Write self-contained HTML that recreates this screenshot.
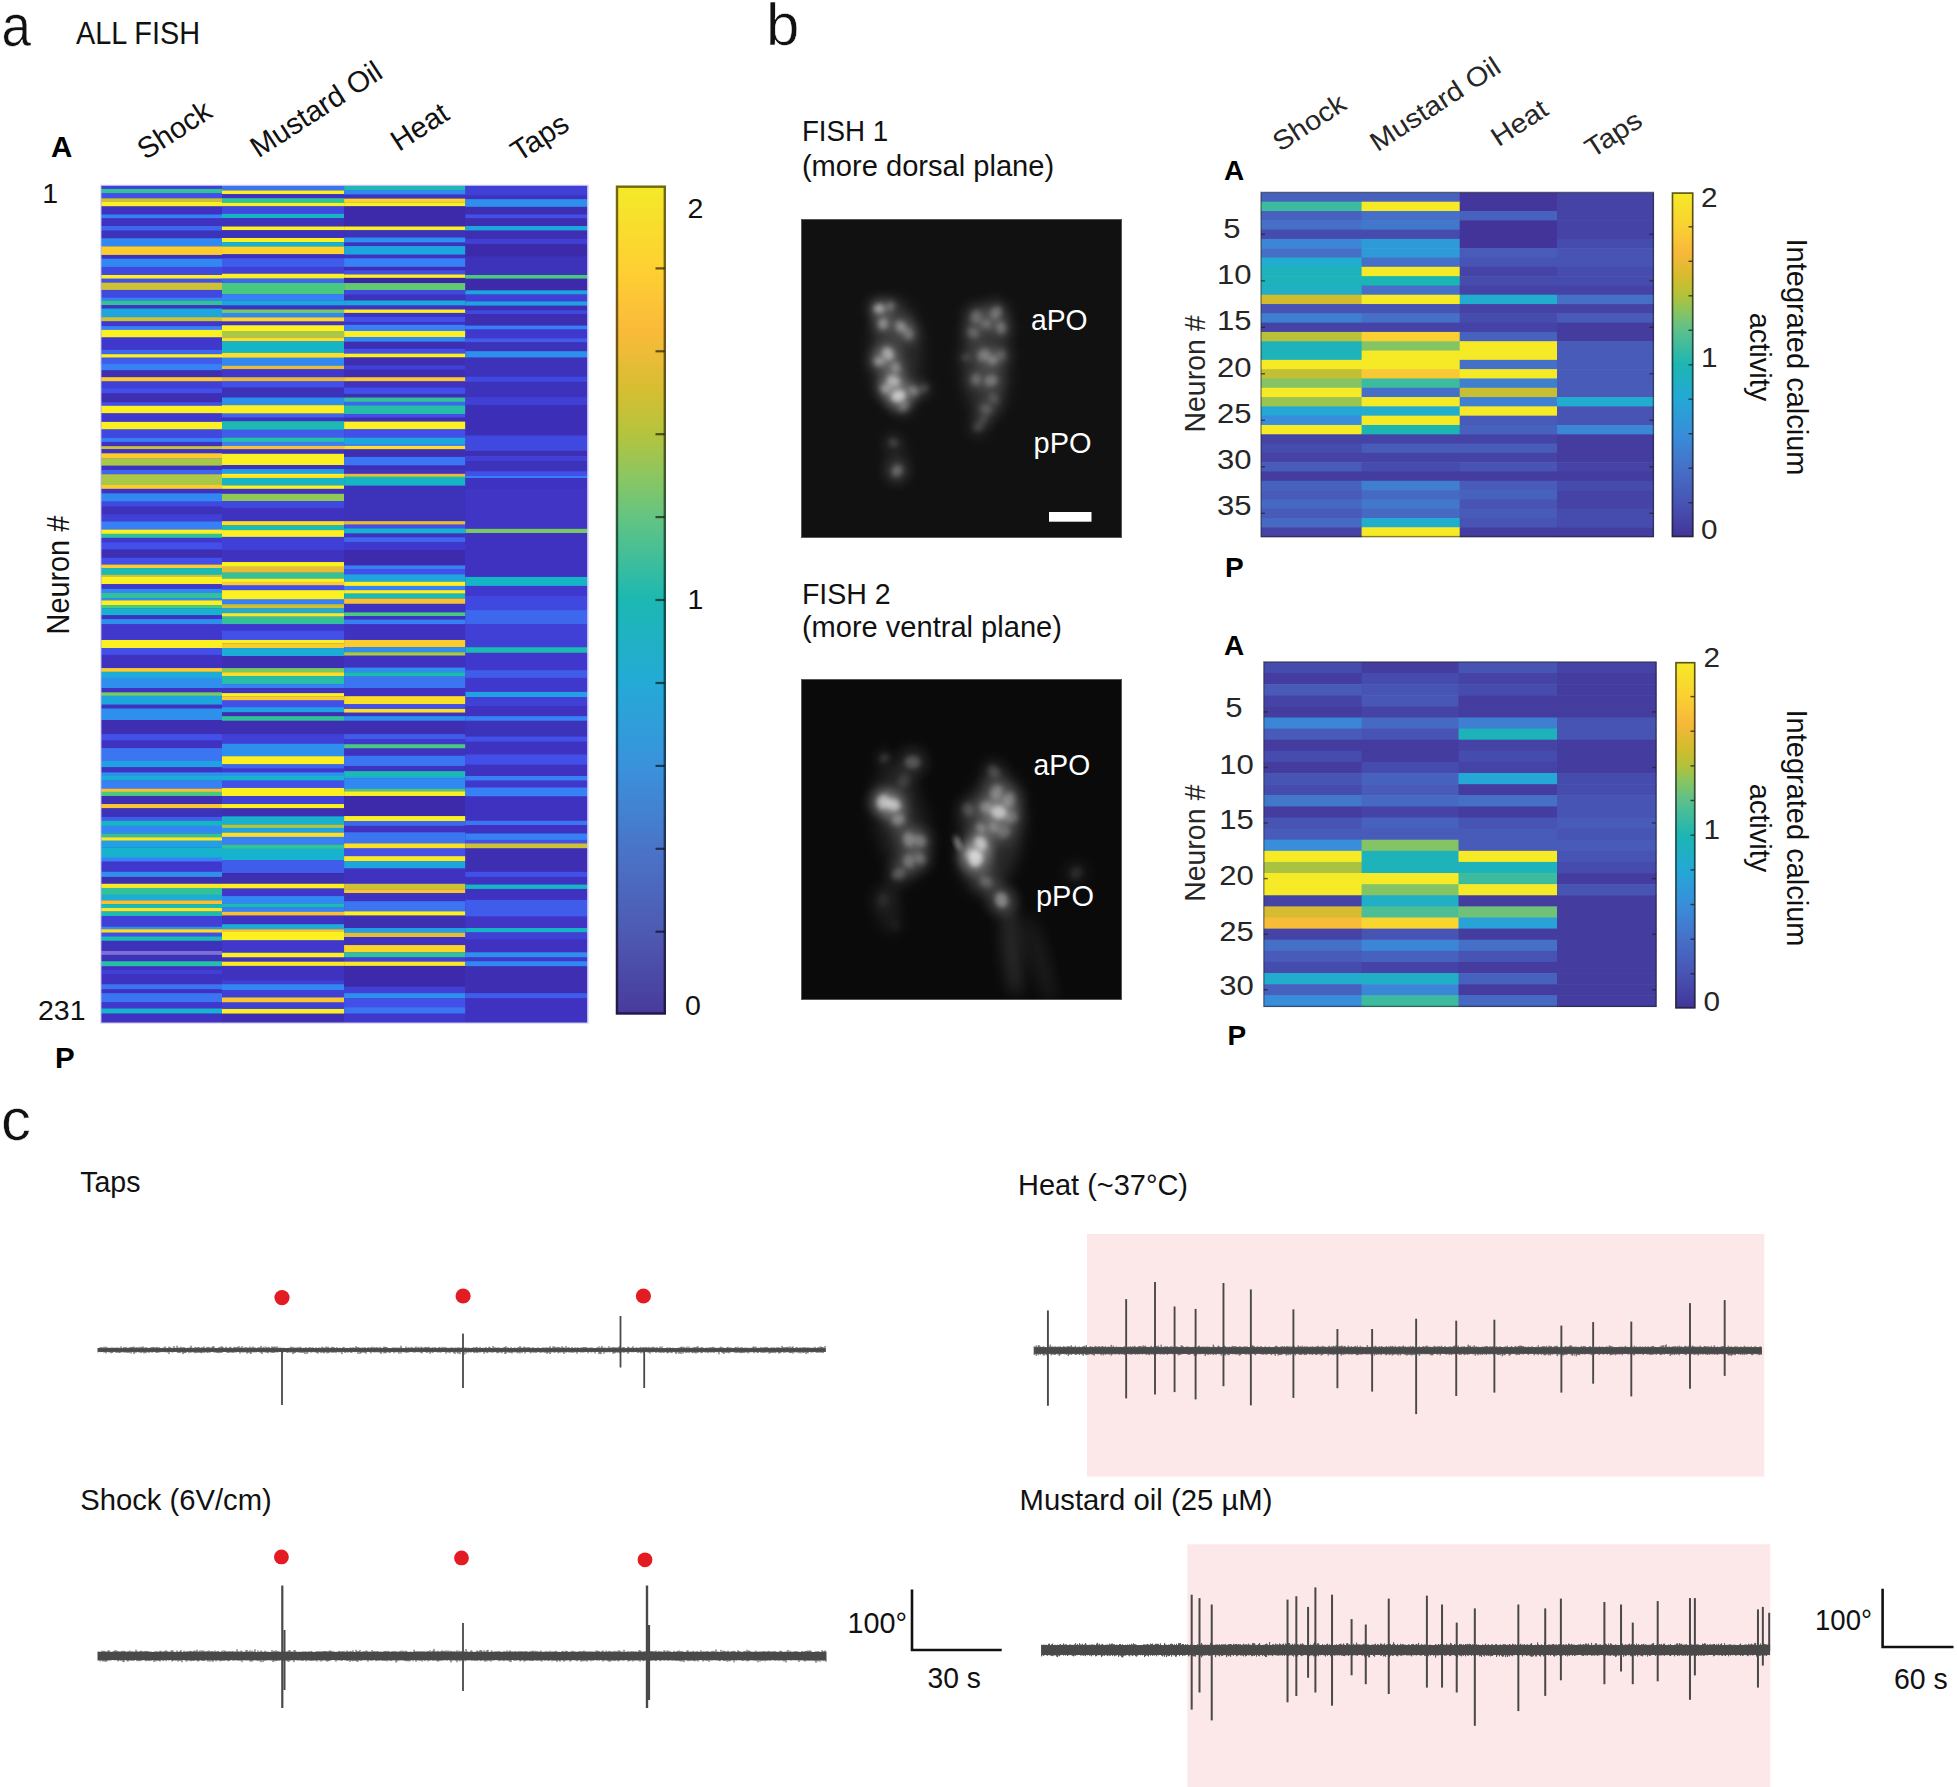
<!DOCTYPE html><html><head><meta charset="utf-8"><title>Figure</title>
<style>html,body{margin:0;padding:0;background:#fff}svg{display:block}text{font-family:'Liberation Sans',Arial,Helvetica,sans-serif}</style></head><body>
<svg width="1957" height="1787" viewBox="0 0 1957 1787">
<defs>
<linearGradient id="gA" x1="0" y1="1" x2="0" y2="0"><stop offset="0.000" stop-color="#483a9c"/><stop offset="0.100" stop-color="#4e5ab2"/><stop offset="0.200" stop-color="#4a74c8"/><stop offset="0.300" stop-color="#3a92dc"/><stop offset="0.400" stop-color="#24aad6"/><stop offset="0.500" stop-color="#1cb8b2"/><stop offset="0.600" stop-color="#64c482"/><stop offset="0.650" stop-color="#8cc660"/><stop offset="0.700" stop-color="#b4c43e"/><stop offset="0.750" stop-color="#d4be32"/><stop offset="0.825" stop-color="#faba3a"/><stop offset="0.900" stop-color="#fed032"/><stop offset="1.000" stop-color="#f4ea28"/></linearGradient>
<linearGradient id="gB" x1="0" y1="1" x2="0" y2="0"><stop offset="0.000" stop-color="#423498"/><stop offset="0.100" stop-color="#4854b4"/><stop offset="0.200" stop-color="#4670c8"/><stop offset="0.300" stop-color="#388eda"/><stop offset="0.400" stop-color="#24a8d6"/><stop offset="0.500" stop-color="#1cb6b2"/><stop offset="0.600" stop-color="#5cc08c"/><stop offset="0.650" stop-color="#84c464"/><stop offset="0.700" stop-color="#b2c23a"/><stop offset="0.750" stop-color="#d2bc2e"/><stop offset="0.825" stop-color="#f8b83a"/><stop offset="0.900" stop-color="#fad032"/><stop offset="1.000" stop-color="#f6ea26"/></linearGradient>
<filter id="bl1" x="-50%" y="-50%" width="200%" height="200%"><feGaussianBlur stdDeviation="2.8"/></filter>
<filter id="bl2" x="-50%" y="-50%" width="200%" height="200%"><feGaussianBlur stdDeviation="5"/></filter>
<filter id="bl3" x="-50%" y="-50%" width="200%" height="200%"><feGaussianBlur stdDeviation="7"/></filter>
<filter id="blh" x="-2%" y="-2%" width="104%" height="104%"><feGaussianBlur stdDeviation="0 0.55"/></filter>
<filter id="blt" x="-2%" y="-20%" width="104%" height="140%"><feGaussianBlur stdDeviation="0.5"/></filter>
</defs>
<rect width="1957" height="1787" fill="#fff"/>
<text x="1.5" y="46.0" font-size="60.0" text-anchor="start" fill="#111" stroke="#fff" stroke-width="0.6" textLength="29.5" lengthAdjust="spacingAndGlyphs">a</text>
<text x="76.0" y="44.0" font-size="30.5" text-anchor="start" fill="#111" textLength="124.0" lengthAdjust="spacingAndGlyphs">ALL FISH</text>
<text x="51.0" y="157.0" font-size="29.5" text-anchor="start" font-weight="bold" fill="#000">A</text>
<text x="58.0" y="203.0" font-size="28.5" text-anchor="end" fill="#111">1</text>
<text x="85.5" y="1019.5" font-size="28.5" text-anchor="end" fill="#111">231</text>
<text x="55.0" y="1068.0" font-size="29.5" text-anchor="start" font-weight="bold" fill="#000">P</text>
<text x="0" y="0" font-size="31.5" text-anchor="middle" fill="#111" transform="translate(68.8,575.1) rotate(-90.0) scale(1.000,1)" textLength="118.6" lengthAdjust="spacingAndGlyphs">Neuron #</text>
<rect x="101.2" y="185.6" width="486.0" height="837.0" fill="#3f33c0"/>
<g filter="url(#blh)">
<rect x="101.2" y="185.62" width="120.8" height="3.47" fill="#4140d6"/>
<rect x="101.2" y="188.94" width="120.8" height="4.49" fill="#31c199"/>
<rect x="101.2" y="193.29" width="120.8" height="5.20" fill="#4250e8"/>
<rect x="101.2" y="198.33" width="120.8" height="3.53" fill="#cdc234"/>
<rect x="101.2" y="201.72" width="120.8" height="4.81" fill="#faf022"/>
<rect x="101.2" y="206.38" width="120.8" height="8.26" fill="#3f33c0"/>
<rect x="101.2" y="214.49" width="120.8" height="3.98" fill="#3880f5"/>
<rect x="101.2" y="218.32" width="120.8" height="7.81" fill="#3f33c0"/>
<rect x="101.2" y="225.99" width="120.8" height="4.75" fill="#3d68ee"/>
<rect x="101.2" y="230.59" width="120.8" height="7.81" fill="#3e31ba"/>
<rect x="101.2" y="238.25" width="120.8" height="8.26" fill="#3288f1"/>
<rect x="101.2" y="246.37" width="120.8" height="8.70" fill="#fccc2e"/>
<rect x="101.2" y="254.92" width="120.8" height="3.92" fill="#3f33c0"/>
<rect x="101.2" y="258.69" width="120.8" height="8.33" fill="#3288f1"/>
<rect x="101.2" y="266.87" width="120.8" height="8.26" fill="#4148df"/>
<rect x="101.2" y="274.98" width="120.8" height="3.85" fill="#faf022"/>
<rect x="101.2" y="278.68" width="120.8" height="4.12" fill="#4250e8"/>
<rect x="101.2" y="282.65" width="120.8" height="7.43" fill="#cdc234"/>
<rect x="101.2" y="289.92" width="120.8" height="7.75" fill="#4148df"/>
<rect x="101.2" y="297.53" width="120.8" height="3.22" fill="#3880f5"/>
<rect x="101.2" y="300.59" width="120.8" height="4.75" fill="#31c199"/>
<rect x="101.2" y="305.19" width="120.8" height="3.47" fill="#3f33c0"/>
<rect x="101.2" y="308.51" width="120.8" height="8.78" fill="#1ea6dd"/>
<rect x="101.2" y="317.14" width="120.8" height="4.36" fill="#cdc234"/>
<rect x="101.2" y="321.35" width="120.8" height="4.94" fill="#4038cd"/>
<rect x="101.2" y="326.14" width="120.8" height="3.92" fill="#3880f5"/>
<rect x="101.2" y="329.91" width="120.8" height="7.68" fill="#faf022"/>
<rect x="101.2" y="337.44" width="120.8" height="12.61" fill="#4038cd"/>
<rect x="101.2" y="349.90" width="120.8" height="4.43" fill="#3d68ee"/>
<rect x="101.2" y="354.19" width="120.8" height="3.59" fill="#faf022"/>
<rect x="101.2" y="357.63" width="120.8" height="6.48" fill="#405ceb"/>
<rect x="101.2" y="363.96" width="120.8" height="6.54" fill="#3880f5"/>
<rect x="101.2" y="370.34" width="120.8" height="6.99" fill="#3d2db2"/>
<rect x="101.2" y="377.18" width="120.8" height="4.36" fill="#fccc2e"/>
<rect x="101.2" y="381.39" width="120.8" height="6.99" fill="#4140d6"/>
<rect x="101.2" y="388.23" width="120.8" height="5.26" fill="#4250e8"/>
<rect x="101.2" y="393.34" width="120.8" height="9.09" fill="#3d2db2"/>
<rect x="101.2" y="402.28" width="120.8" height="3.67" fill="#4250e8"/>
<rect x="101.2" y="405.79" width="120.8" height="7.68" fill="#faf022"/>
<rect x="101.2" y="413.33" width="120.8" height="8.71" fill="#4038cd"/>
<rect x="101.2" y="421.89" width="120.8" height="7.68" fill="#faf022"/>
<rect x="101.2" y="429.42" width="120.8" height="8.78" fill="#4148df"/>
<rect x="101.2" y="438.05" width="120.8" height="3.98" fill="#3880f5"/>
<rect x="101.2" y="441.88" width="120.8" height="4.43" fill="#3f33c0"/>
<rect x="101.2" y="446.16" width="120.8" height="3.08" fill="#cdc234"/>
<rect x="101.2" y="449.10" width="120.8" height="4.37" fill="#3f33c0"/>
<rect x="101.2" y="453.32" width="120.8" height="5.32" fill="#fccc2e"/>
<rect x="101.2" y="458.49" width="120.8" height="7.36" fill="#aac846"/>
<rect x="101.2" y="465.70" width="120.8" height="4.43" fill="#3f33c0"/>
<rect x="101.2" y="469.98" width="120.8" height="4.43" fill="#3d68ee"/>
<rect x="101.2" y="474.27" width="120.8" height="1.74" fill="#bcc53d"/>
<rect x="101.2" y="476.00" width="120.8" height="9.09" fill="#aac846"/>
<rect x="101.2" y="484.94" width="120.8" height="4.04" fill="#fccc2e"/>
<rect x="101.2" y="488.84" width="120.8" height="4.69" fill="#3f33c0"/>
<rect x="101.2" y="493.37" width="120.8" height="8.33" fill="#3288f1"/>
<rect x="101.2" y="501.55" width="120.8" height="5.26" fill="#4148df"/>
<rect x="101.2" y="506.66" width="120.8" height="7.81" fill="#3e31ba"/>
<rect x="101.2" y="514.32" width="120.8" height="7.30" fill="#4140d6"/>
<rect x="101.2" y="521.48" width="120.8" height="8.26" fill="#3880f5"/>
<rect x="101.2" y="529.59" width="120.8" height="4.36" fill="#faf022"/>
<rect x="101.2" y="533.80" width="120.8" height="4.18" fill="#31c199"/>
<rect x="101.2" y="537.83" width="120.8" height="4.75" fill="#4038cd"/>
<rect x="101.2" y="542.43" width="120.8" height="7.30" fill="#4250e8"/>
<rect x="101.2" y="549.58" width="120.8" height="8.33" fill="#3d2db2"/>
<rect x="101.2" y="557.76" width="120.8" height="6.99" fill="#4250e8"/>
<rect x="101.2" y="564.60" width="120.8" height="3.59" fill="#fccc2e"/>
<rect x="101.2" y="568.04" width="120.8" height="6.93" fill="#1abab2"/>
<rect x="101.2" y="574.81" width="120.8" height="2.25" fill="#cdc234"/>
<rect x="101.2" y="576.92" width="120.8" height="7.36" fill="#faf022"/>
<rect x="101.2" y="584.13" width="120.8" height="4.94" fill="#4038cd"/>
<rect x="101.2" y="588.93" width="120.8" height="4.24" fill="#3288f1"/>
<rect x="101.2" y="593.02" width="120.8" height="5.26" fill="#31c199"/>
<rect x="101.2" y="598.13" width="120.8" height="2.39" fill="#2d90ec"/>
<rect x="101.2" y="600.36" width="120.8" height="4.81" fill="#faf022"/>
<rect x="101.2" y="605.02" width="120.8" height="3.53" fill="#48c880"/>
<rect x="101.2" y="608.41" width="120.8" height="6.99" fill="#16b2ce"/>
<rect x="101.2" y="615.24" width="120.8" height="3.98" fill="#3f33c0"/>
<rect x="101.2" y="619.08" width="120.8" height="5.26" fill="#2d90ec"/>
<rect x="101.2" y="624.19" width="120.8" height="15.93" fill="#4038cd"/>
<rect x="101.2" y="639.97" width="120.8" height="8.19" fill="#faf022"/>
<rect x="101.2" y="648.01" width="120.8" height="6.99" fill="#4250e8"/>
<rect x="101.2" y="654.85" width="120.8" height="13.37" fill="#3f33c0"/>
<rect x="101.2" y="668.07" width="120.8" height="3.85" fill="#fccc2e"/>
<rect x="101.2" y="671.77" width="120.8" height="6.22" fill="#1aacd5"/>
<rect x="101.2" y="677.84" width="120.8" height="10.37" fill="#2d90ec"/>
<rect x="101.2" y="688.06" width="120.8" height="4.43" fill="#3f33c0"/>
<rect x="101.2" y="692.34" width="120.8" height="3.59" fill="#78ca64"/>
<rect x="101.2" y="695.79" width="120.8" height="9.03" fill="#1ea6dd"/>
<rect x="101.2" y="704.67" width="120.8" height="3.98" fill="#3f33c0"/>
<rect x="101.2" y="708.50" width="120.8" height="11.65" fill="#2d90ec"/>
<rect x="101.2" y="720.00" width="120.8" height="14.20" fill="#3d2db2"/>
<rect x="101.2" y="734.05" width="120.8" height="6.54" fill="#4250e8"/>
<rect x="101.2" y="740.44" width="120.8" height="7.81" fill="#3f33c0"/>
<rect x="101.2" y="748.10" width="120.8" height="12.92" fill="#3a74f2"/>
<rect x="101.2" y="760.87" width="120.8" height="6.54" fill="#22a0e4"/>
<rect x="101.2" y="767.26" width="120.8" height="5.26" fill="#3f33c0"/>
<rect x="101.2" y="772.37" width="120.8" height="3.73" fill="#2d90ec"/>
<rect x="101.2" y="776.00" width="120.8" height="4.75" fill="#1aacd5"/>
<rect x="101.2" y="780.60" width="120.8" height="8.26" fill="#3880f5"/>
<rect x="101.2" y="788.71" width="120.8" height="3.28" fill="#f8c033"/>
<rect x="101.2" y="791.84" width="120.8" height="4.30" fill="#48c880"/>
<rect x="101.2" y="795.99" width="120.8" height="8.20" fill="#3d2db2"/>
<rect x="101.2" y="804.04" width="120.8" height="4.36" fill="#fac631"/>
<rect x="101.2" y="808.25" width="120.8" height="8.78" fill="#3e31ba"/>
<rect x="101.2" y="816.88" width="120.8" height="3.98" fill="#405ceb"/>
<rect x="101.2" y="820.71" width="120.8" height="5.26" fill="#17b5c5"/>
<rect x="101.2" y="825.82" width="120.8" height="7.81" fill="#3288f1"/>
<rect x="101.2" y="833.49" width="120.8" height="3.92" fill="#31c199"/>
<rect x="101.2" y="837.26" width="120.8" height="3.59" fill="#fae725"/>
<rect x="101.2" y="840.70" width="120.8" height="6.99" fill="#22a0e4"/>
<rect x="101.2" y="847.54" width="120.8" height="10.37" fill="#16b2ce"/>
<rect x="101.2" y="857.76" width="120.8" height="3.98" fill="#3880f5"/>
<rect x="101.2" y="861.59" width="120.8" height="10.37" fill="#4038cd"/>
<rect x="101.2" y="871.81" width="120.8" height="5.26" fill="#2d90ec"/>
<rect x="101.2" y="876.92" width="120.8" height="6.99" fill="#3d2db2"/>
<rect x="101.2" y="883.76" width="120.8" height="4.36" fill="#fae725"/>
<rect x="101.2" y="887.97" width="120.8" height="6.99" fill="#31c199"/>
<rect x="101.2" y="894.80" width="120.8" height="5.71" fill="#1aacd5"/>
<rect x="101.2" y="900.36" width="120.8" height="3.85" fill="#f8c033"/>
<rect x="101.2" y="904.06" width="120.8" height="4.12" fill="#1abab2"/>
<rect x="101.2" y="908.03" width="120.8" height="3.59" fill="#fae725"/>
<rect x="101.2" y="911.47" width="120.8" height="4.69" fill="#1abab2"/>
<rect x="101.2" y="916.01" width="120.8" height="10.88" fill="#4140d6"/>
<rect x="101.2" y="926.74" width="120.8" height="2.64" fill="#2d90ec"/>
<rect x="101.2" y="929.23" width="120.8" height="3.59" fill="#fbde28"/>
<rect x="101.2" y="932.68" width="120.8" height="3.92" fill="#4250e8"/>
<rect x="101.2" y="936.45" width="120.8" height="4.49" fill="#1abab2"/>
<rect x="101.2" y="940.79" width="120.8" height="10.37" fill="#3e31ba"/>
<rect x="101.2" y="951.01" width="120.8" height="3.98" fill="#7c70d6"/>
<rect x="101.2" y="954.85" width="120.8" height="6.54" fill="#3e31ba"/>
<rect x="101.2" y="961.23" width="120.8" height="5.26" fill="#26bea6"/>
<rect x="101.2" y="966.34" width="120.8" height="3.98" fill="#3f33c0"/>
<rect x="101.2" y="970.17" width="120.8" height="3.98" fill="#4140d6"/>
<rect x="101.2" y="974.01" width="120.8" height="10.37" fill="#3f33c0"/>
<rect x="101.2" y="984.23" width="120.8" height="5.26" fill="#3a74f2"/>
<rect x="101.2" y="989.34" width="120.8" height="3.98" fill="#3f33c0"/>
<rect x="101.2" y="993.17" width="120.8" height="9.09" fill="#3a74f2"/>
<rect x="101.2" y="1002.11" width="120.8" height="6.54" fill="#4038cd"/>
<rect x="101.2" y="1008.50" width="120.8" height="5.26" fill="#16b2ce"/>
<rect x="101.2" y="1013.61" width="120.8" height="9.09" fill="#3f33c0"/>
<rect x="222.0" y="186.00" width="122.1" height="4.61" fill="#3a74f2"/>
<rect x="222.0" y="190.46" width="122.1" height="3.83" fill="#faf022"/>
<rect x="222.0" y="194.13" width="122.1" height="4.18" fill="#3f33c0"/>
<rect x="222.0" y="198.16" width="122.1" height="4.89" fill="#31c199"/>
<rect x="222.0" y="202.90" width="122.1" height="3.54" fill="#faf022"/>
<rect x="222.0" y="206.30" width="122.1" height="7.75" fill="#4148df"/>
<rect x="222.0" y="213.90" width="122.1" height="4.44" fill="#17b5c5"/>
<rect x="222.0" y="218.19" width="122.1" height="8.47" fill="#3e31ba"/>
<rect x="222.0" y="226.51" width="122.1" height="3.83" fill="#faf022"/>
<rect x="222.0" y="230.19" width="122.1" height="7.92" fill="#3e31ba"/>
<rect x="222.0" y="237.96" width="122.1" height="4.26" fill="#faf022"/>
<rect x="222.0" y="242.07" width="122.1" height="4.63" fill="#16b2ce"/>
<rect x="222.0" y="246.54" width="122.1" height="7.83" fill="#fcd52b"/>
<rect x="222.0" y="254.23" width="122.1" height="4.18" fill="#3f33c0"/>
<rect x="222.0" y="258.26" width="122.1" height="8.73" fill="#405ceb"/>
<rect x="222.0" y="266.84" width="122.1" height="7.04" fill="#4140d6"/>
<rect x="222.0" y="273.73" width="122.1" height="4.97" fill="#faf022"/>
<rect x="222.0" y="278.55" width="122.1" height="4.63" fill="#3d68ee"/>
<rect x="222.0" y="283.03" width="122.1" height="11.41" fill="#48c880"/>
<rect x="222.0" y="294.29" width="122.1" height="6.32" fill="#3880f5"/>
<rect x="222.0" y="300.47" width="122.1" height="5.16" fill="#1ea6dd"/>
<rect x="222.0" y="305.47" width="122.1" height="4.18" fill="#3f33c0"/>
<rect x="222.0" y="309.50" width="122.1" height="3.54" fill="#78ca64"/>
<rect x="222.0" y="312.89" width="122.1" height="4.63" fill="#3288f1"/>
<rect x="222.0" y="317.37" width="122.1" height="4.26" fill="#fcd52b"/>
<rect x="222.0" y="321.48" width="122.1" height="3.91" fill="#3f33c0"/>
<rect x="222.0" y="325.24" width="122.1" height="5.85" fill="#faf022"/>
<rect x="222.0" y="331.00" width="122.1" height="6.59" fill="#aac846"/>
<rect x="222.0" y="337.44" width="122.1" height="3.99" fill="#fbde28"/>
<rect x="222.0" y="341.28" width="122.1" height="11.78" fill="#17b5c5"/>
<rect x="222.0" y="352.91" width="122.1" height="4.97" fill="#fbde28"/>
<rect x="222.0" y="357.74" width="122.1" height="8.20" fill="#3288f1"/>
<rect x="222.0" y="365.79" width="122.1" height="3.54" fill="#e8bd35"/>
<rect x="222.0" y="369.18" width="122.1" height="8.20" fill="#4038cd"/>
<rect x="222.0" y="377.24" width="122.1" height="4.26" fill="#e8bd35"/>
<rect x="222.0" y="381.34" width="122.1" height="6.32" fill="#4250e8"/>
<rect x="222.0" y="387.52" width="122.1" height="10.17" fill="#3e31ba"/>
<rect x="222.0" y="397.53" width="122.1" height="7.75" fill="#2d90ec"/>
<rect x="222.0" y="405.14" width="122.1" height="8.55" fill="#faf022"/>
<rect x="222.0" y="413.54" width="122.1" height="4.18" fill="#3d68ee"/>
<rect x="222.0" y="417.56" width="122.1" height="3.73" fill="#3f33c0"/>
<rect x="222.0" y="421.14" width="122.1" height="8.73" fill="#1abab2"/>
<rect x="222.0" y="429.73" width="122.1" height="8.02" fill="#405ceb"/>
<rect x="222.0" y="437.60" width="122.1" height="4.44" fill="#26bea6"/>
<rect x="222.0" y="441.89" width="122.1" height="4.18" fill="#3880f5"/>
<rect x="222.0" y="445.92" width="122.1" height="3.54" fill="#f8c033"/>
<rect x="222.0" y="449.31" width="122.1" height="4.63" fill="#3f33c0"/>
<rect x="222.0" y="453.79" width="122.1" height="11.41" fill="#faf022"/>
<rect x="222.0" y="465.05" width="122.1" height="4.18" fill="#3f33c0"/>
<rect x="222.0" y="469.07" width="122.1" height="4.89" fill="#22a0e4"/>
<rect x="222.0" y="473.82" width="122.1" height="2.28" fill="#faf022"/>
<rect x="222.0" y="476.00" width="122.1" height="2.25" fill="#fbde28"/>
<rect x="222.0" y="478.10" width="122.1" height="7.44" fill="#17b5c5"/>
<rect x="222.0" y="485.39" width="122.1" height="3.59" fill="#faf022"/>
<rect x="222.0" y="488.84" width="122.1" height="5.14" fill="#3f33c0"/>
<rect x="222.0" y="493.82" width="122.1" height="7.43" fill="#91c955"/>
<rect x="222.0" y="501.10" width="122.1" height="6.99" fill="#4148df"/>
<rect x="222.0" y="507.94" width="122.1" height="13.37" fill="#3f33c0"/>
<rect x="222.0" y="521.16" width="122.1" height="4.36" fill="#fbde28"/>
<rect x="222.0" y="525.37" width="122.1" height="4.88" fill="#1abab2"/>
<rect x="222.0" y="530.10" width="122.1" height="6.91" fill="#faf022"/>
<rect x="222.0" y="536.87" width="122.1" height="13.37" fill="#4140d6"/>
<rect x="222.0" y="550.09" width="122.1" height="12.10" fill="#3f33c0"/>
<rect x="222.0" y="562.04" width="122.1" height="4.81" fill="#faf022"/>
<rect x="222.0" y="566.70" width="122.1" height="6.09" fill="#e8bd35"/>
<rect x="222.0" y="572.64" width="122.1" height="6.16" fill="#31c199"/>
<rect x="222.0" y="578.65" width="122.1" height="3.53" fill="#faf022"/>
<rect x="222.0" y="582.03" width="122.1" height="3.53" fill="#fccc2e"/>
<rect x="222.0" y="585.41" width="122.1" height="4.88" fill="#4250e8"/>
<rect x="222.0" y="590.14" width="122.1" height="9.47" fill="#faf022"/>
<rect x="222.0" y="599.46" width="122.1" height="4.88" fill="#3880f5"/>
<rect x="222.0" y="604.20" width="122.1" height="4.36" fill="#cdc234"/>
<rect x="222.0" y="608.41" width="122.1" height="4.88" fill="#1aacd5"/>
<rect x="222.0" y="613.14" width="122.1" height="3.59" fill="#fae725"/>
<rect x="222.0" y="616.58" width="122.1" height="7.75" fill="#31c199"/>
<rect x="222.0" y="624.19" width="122.1" height="6.54" fill="#4038cd"/>
<rect x="222.0" y="630.57" width="122.1" height="9.54" fill="#4250e8"/>
<rect x="222.0" y="639.97" width="122.1" height="3.53" fill="#faf022"/>
<rect x="222.0" y="643.35" width="122.1" height="4.81" fill="#fccc2e"/>
<rect x="222.0" y="648.01" width="122.1" height="8.26" fill="#1aacd5"/>
<rect x="222.0" y="656.12" width="122.1" height="12.10" fill="#3d2db2"/>
<rect x="222.0" y="668.07" width="122.1" height="4.30" fill="#78ca64"/>
<rect x="222.0" y="672.22" width="122.1" height="4.04" fill="#fbde28"/>
<rect x="222.0" y="676.11" width="122.1" height="8.26" fill="#26bea6"/>
<rect x="222.0" y="684.23" width="122.1" height="3.98" fill="#3880f5"/>
<rect x="222.0" y="688.06" width="122.1" height="5.20" fill="#3f33c0"/>
<rect x="222.0" y="693.11" width="122.1" height="3.28" fill="#faf022"/>
<rect x="222.0" y="696.24" width="122.1" height="4.30" fill="#fccc2e"/>
<rect x="222.0" y="700.38" width="122.1" height="6.99" fill="#4250e8"/>
<rect x="222.0" y="707.22" width="122.1" height="5.26" fill="#22a0e4"/>
<rect x="222.0" y="712.33" width="122.1" height="3.98" fill="#3d2db2"/>
<rect x="222.0" y="716.16" width="122.1" height="4.75" fill="#31c199"/>
<rect x="222.0" y="720.76" width="122.1" height="13.44" fill="#3d2db2"/>
<rect x="222.0" y="734.05" width="122.1" height="9.86" fill="#4140d6"/>
<rect x="222.0" y="743.76" width="122.1" height="12.61" fill="#2d90ec"/>
<rect x="222.0" y="756.21" width="122.1" height="8.19" fill="#faf022"/>
<rect x="222.0" y="764.26" width="122.1" height="4.43" fill="#3d68ee"/>
<rect x="222.0" y="768.54" width="122.1" height="3.98" fill="#4038cd"/>
<rect x="222.0" y="772.37" width="122.1" height="3.73" fill="#2d90ec"/>
<rect x="222.0" y="776.00" width="122.1" height="4.75" fill="#16b2ce"/>
<rect x="222.0" y="780.60" width="122.1" height="7.50" fill="#4250e8"/>
<rect x="222.0" y="787.95" width="122.1" height="8.19" fill="#faf022"/>
<rect x="222.0" y="795.99" width="122.1" height="8.20" fill="#4140d6"/>
<rect x="222.0" y="804.04" width="122.1" height="4.36" fill="#faf022"/>
<rect x="222.0" y="808.25" width="122.1" height="8.26" fill="#3d2db2"/>
<rect x="222.0" y="816.37" width="122.1" height="8.26" fill="#16b2ce"/>
<rect x="222.0" y="824.48" width="122.1" height="3.59" fill="#aac846"/>
<rect x="222.0" y="827.93" width="122.1" height="4.88" fill="#22a0e4"/>
<rect x="222.0" y="832.66" width="122.1" height="4.36" fill="#fbde28"/>
<rect x="222.0" y="836.87" width="122.1" height="7.75" fill="#3880f5"/>
<rect x="222.0" y="844.47" width="122.1" height="4.49" fill="#31c199"/>
<rect x="222.0" y="848.82" width="122.1" height="11.65" fill="#16b2ce"/>
<rect x="222.0" y="860.31" width="122.1" height="12.92" fill="#405ceb"/>
<rect x="222.0" y="873.09" width="122.1" height="10.82" fill="#3d2db2"/>
<rect x="222.0" y="883.76" width="122.1" height="4.87" fill="#faf022"/>
<rect x="222.0" y="888.48" width="122.1" height="7.75" fill="#4038cd"/>
<rect x="222.0" y="896.08" width="122.1" height="7.81" fill="#3288f1"/>
<rect x="222.0" y="903.75" width="122.1" height="3.98" fill="#1abab2"/>
<rect x="222.0" y="907.58" width="122.1" height="4.43" fill="#3880f5"/>
<rect x="222.0" y="911.86" width="122.1" height="3.85" fill="#f8c033"/>
<rect x="222.0" y="915.56" width="122.1" height="8.78" fill="#3f33c0"/>
<rect x="222.0" y="924.19" width="122.1" height="5.20" fill="#1aacd5"/>
<rect x="222.0" y="929.23" width="122.1" height="2.77" fill="#f8c033"/>
<rect x="222.0" y="931.85" width="122.1" height="8.64" fill="#faf022"/>
<rect x="222.0" y="940.34" width="122.1" height="12.55" fill="#4038cd"/>
<rect x="222.0" y="952.74" width="122.1" height="4.87" fill="#faf022"/>
<rect x="222.0" y="957.46" width="122.1" height="4.37" fill="#3f33c0"/>
<rect x="222.0" y="961.68" width="122.1" height="4.36" fill="#fae725"/>
<rect x="222.0" y="965.89" width="122.1" height="14.65" fill="#3f33c0"/>
<rect x="222.0" y="980.39" width="122.1" height="3.98" fill="#4140d6"/>
<rect x="222.0" y="984.23" width="122.1" height="6.03" fill="#3288f1"/>
<rect x="222.0" y="990.10" width="122.1" height="7.50" fill="#4140d6"/>
<rect x="222.0" y="997.45" width="122.1" height="5.13" fill="#fac631"/>
<rect x="222.0" y="1002.43" width="122.1" height="6.67" fill="#4140d6"/>
<rect x="222.0" y="1008.95" width="122.1" height="4.87" fill="#faf022"/>
<rect x="222.0" y="1013.67" width="122.1" height="9.03" fill="#3d2db2"/>
<rect x="344.1" y="186.00" width="121.3" height="4.16" fill="#1abab2"/>
<rect x="344.1" y="190.01" width="121.3" height="4.73" fill="#3288f1"/>
<rect x="344.1" y="194.58" width="121.3" height="4.18" fill="#3f33c0"/>
<rect x="344.1" y="198.61" width="121.3" height="3.99" fill="#fcd52b"/>
<rect x="344.1" y="202.45" width="121.3" height="3.99" fill="#faf022"/>
<rect x="344.1" y="206.30" width="121.3" height="20.37" fill="#3d2aaa"/>
<rect x="344.1" y="226.51" width="121.3" height="3.83" fill="#faf022"/>
<rect x="344.1" y="230.19" width="121.3" height="7.47" fill="#3e31ba"/>
<rect x="344.1" y="237.51" width="121.3" height="5.16" fill="#2d90ec"/>
<rect x="344.1" y="242.52" width="121.3" height="3.73" fill="#3f33c0"/>
<rect x="344.1" y="246.09" width="121.3" height="8.73" fill="#1ea6dd"/>
<rect x="344.1" y="254.68" width="121.3" height="3.73" fill="#3f33c0"/>
<rect x="344.1" y="258.26" width="121.3" height="8.73" fill="#3880f5"/>
<rect x="344.1" y="266.84" width="121.3" height="3.73" fill="#3d2db2"/>
<rect x="344.1" y="270.42" width="121.3" height="4.18" fill="#4250e8"/>
<rect x="344.1" y="274.45" width="121.3" height="3.54" fill="#faf022"/>
<rect x="344.1" y="277.84" width="121.3" height="5.34" fill="#3c28a5"/>
<rect x="344.1" y="283.03" width="121.3" height="7.12" fill="#60c972"/>
<rect x="344.1" y="290.00" width="121.3" height="4.89" fill="#4148df"/>
<rect x="344.1" y="294.74" width="121.3" height="5.87" fill="#3e31ba"/>
<rect x="344.1" y="300.47" width="121.3" height="5.16" fill="#1ea6dd"/>
<rect x="344.1" y="305.47" width="121.3" height="4.18" fill="#3f33c0"/>
<rect x="344.1" y="309.50" width="121.3" height="3.54" fill="#faf022"/>
<rect x="344.1" y="312.89" width="121.3" height="4.18" fill="#3f33c0"/>
<rect x="344.1" y="316.92" width="121.3" height="5.16" fill="#4250e8"/>
<rect x="344.1" y="321.93" width="121.3" height="3.01" fill="#3f33c0"/>
<rect x="344.1" y="324.79" width="121.3" height="6.30" fill="#3880f5"/>
<rect x="344.1" y="331.00" width="121.3" height="6.14" fill="#faf022"/>
<rect x="344.1" y="336.99" width="121.3" height="4.89" fill="#3288f1"/>
<rect x="344.1" y="341.73" width="121.3" height="7.30" fill="#3d2db2"/>
<rect x="344.1" y="348.89" width="121.3" height="4.89" fill="#4250e8"/>
<rect x="344.1" y="353.63" width="121.3" height="3.97" fill="#faf022"/>
<rect x="344.1" y="357.45" width="121.3" height="8.04" fill="#3d2db2"/>
<rect x="344.1" y="365.34" width="121.3" height="4.44" fill="#4140d6"/>
<rect x="344.1" y="369.63" width="121.3" height="7.75" fill="#3d2db2"/>
<rect x="344.1" y="377.24" width="121.3" height="4.26" fill="#fccc2e"/>
<rect x="344.1" y="381.34" width="121.3" height="6.32" fill="#3f33c0"/>
<rect x="344.1" y="387.52" width="121.3" height="6.59" fill="#4250e8"/>
<rect x="344.1" y="393.96" width="121.3" height="3.73" fill="#3d2db2"/>
<rect x="344.1" y="397.53" width="121.3" height="4.44" fill="#31c199"/>
<rect x="344.1" y="401.83" width="121.3" height="3.73" fill="#3d68ee"/>
<rect x="344.1" y="405.40" width="121.3" height="8.73" fill="#26bea6"/>
<rect x="344.1" y="413.99" width="121.3" height="3.73" fill="#4250e8"/>
<rect x="344.1" y="417.56" width="121.3" height="4.18" fill="#3d2db2"/>
<rect x="344.1" y="421.59" width="121.3" height="7.83" fill="#faf022"/>
<rect x="344.1" y="429.28" width="121.3" height="8.47" fill="#4250e8"/>
<rect x="344.1" y="437.60" width="121.3" height="6.59" fill="#1ea6dd"/>
<rect x="344.1" y="444.03" width="121.3" height="2.03" fill="#3880f5"/>
<rect x="344.1" y="445.92" width="121.3" height="3.54" fill="#fbde28"/>
<rect x="344.1" y="449.31" width="121.3" height="7.75" fill="#3d2db2"/>
<rect x="344.1" y="456.91" width="121.3" height="8.73" fill="#3a74f2"/>
<rect x="344.1" y="465.50" width="121.3" height="3.73" fill="#3d2db2"/>
<rect x="344.1" y="469.07" width="121.3" height="4.89" fill="#3f33c0"/>
<rect x="344.1" y="473.82" width="121.3" height="2.28" fill="#e8bd35"/>
<rect x="344.1" y="476.00" width="121.3" height="1.74" fill="#78ca64"/>
<rect x="344.1" y="477.59" width="121.3" height="8.26" fill="#17b5c5"/>
<rect x="344.1" y="485.71" width="121.3" height="35.60" fill="#3e31ba"/>
<rect x="344.1" y="521.16" width="121.3" height="3.59" fill="#e8bd35"/>
<rect x="344.1" y="524.60" width="121.3" height="3.92" fill="#4250e8"/>
<rect x="344.1" y="528.38" width="121.3" height="5.26" fill="#16b2ce"/>
<rect x="344.1" y="533.49" width="121.3" height="3.98" fill="#3f33c0"/>
<rect x="344.1" y="537.32" width="121.3" height="4.75" fill="#3d68ee"/>
<rect x="344.1" y="541.92" width="121.3" height="8.33" fill="#4038cd"/>
<rect x="344.1" y="550.09" width="121.3" height="15.48" fill="#3d2bad"/>
<rect x="344.1" y="565.42" width="121.3" height="3.98" fill="#3880f5"/>
<rect x="344.1" y="569.25" width="121.3" height="5.26" fill="#4250e8"/>
<rect x="344.1" y="574.36" width="121.3" height="7.50" fill="#1ea6dd"/>
<rect x="344.1" y="581.71" width="121.3" height="4.36" fill="#faf022"/>
<rect x="344.1" y="585.92" width="121.3" height="4.37" fill="#3880f5"/>
<rect x="344.1" y="590.14" width="121.3" height="3.59" fill="#faf022"/>
<rect x="344.1" y="593.59" width="121.3" height="5.14" fill="#1abab2"/>
<rect x="344.1" y="598.58" width="121.3" height="5.38" fill="#f8c033"/>
<rect x="344.1" y="603.81" width="121.3" height="8.71" fill="#3f33c0"/>
<rect x="344.1" y="612.37" width="121.3" height="3.85" fill="#48c880"/>
<rect x="344.1" y="616.07" width="121.3" height="3.67" fill="#3f33c0"/>
<rect x="344.1" y="619.59" width="121.3" height="4.75" fill="#3880f5"/>
<rect x="344.1" y="624.19" width="121.3" height="15.93" fill="#3f33c0"/>
<rect x="344.1" y="639.97" width="121.3" height="7.43" fill="#fccc2e"/>
<rect x="344.1" y="647.24" width="121.3" height="5.14" fill="#2d90ec"/>
<rect x="344.1" y="652.23" width="121.3" height="3.59" fill="#aac846"/>
<rect x="344.1" y="655.67" width="121.3" height="12.10" fill="#3f33c0"/>
<rect x="344.1" y="667.62" width="121.3" height="4.75" fill="#2d90ec"/>
<rect x="344.1" y="672.22" width="121.3" height="4.49" fill="#1abab2"/>
<rect x="344.1" y="676.56" width="121.3" height="11.65" fill="#3a74f2"/>
<rect x="344.1" y="688.06" width="121.3" height="8.26" fill="#3f33c0"/>
<rect x="344.1" y="696.17" width="121.3" height="8.19" fill="#fbde28"/>
<rect x="344.1" y="704.22" width="121.3" height="4.88" fill="#4250e8"/>
<rect x="344.1" y="708.95" width="121.3" height="3.85" fill="#fbde28"/>
<rect x="344.1" y="712.65" width="121.3" height="3.67" fill="#3f33c0"/>
<rect x="344.1" y="716.16" width="121.3" height="4.75" fill="#2d90ec"/>
<rect x="344.1" y="720.76" width="121.3" height="13.44" fill="#3d2db2"/>
<rect x="344.1" y="734.05" width="121.3" height="5.26" fill="#405ceb"/>
<rect x="344.1" y="739.16" width="121.3" height="5.20" fill="#4038cd"/>
<rect x="344.1" y="744.21" width="121.3" height="4.36" fill="#48c880"/>
<rect x="344.1" y="748.42" width="121.3" height="7.50" fill="#3f33c0"/>
<rect x="344.1" y="755.76" width="121.3" height="10.37" fill="#3a74f2"/>
<rect x="344.1" y="765.98" width="121.3" height="5.26" fill="#3f33c0"/>
<rect x="344.1" y="771.09" width="121.3" height="5.00" fill="#1abab2"/>
<rect x="344.1" y="776.00" width="121.3" height="2.70" fill="#1aacd5"/>
<rect x="344.1" y="778.55" width="121.3" height="10.31" fill="#3288f1"/>
<rect x="344.1" y="788.71" width="121.3" height="2.77" fill="#48c880"/>
<rect x="344.1" y="791.33" width="121.3" height="4.81" fill="#faf022"/>
<rect x="344.1" y="795.99" width="121.3" height="20.21" fill="#3d2aaa"/>
<rect x="344.1" y="816.05" width="121.3" height="5.13" fill="#faf022"/>
<rect x="344.1" y="821.03" width="121.3" height="4.94" fill="#3d68ee"/>
<rect x="344.1" y="825.82" width="121.3" height="6.54" fill="#3f33c0"/>
<rect x="344.1" y="832.21" width="121.3" height="11.33" fill="#3a74f2"/>
<rect x="344.1" y="843.39" width="121.3" height="5.13" fill="#fbde28"/>
<rect x="344.1" y="848.37" width="121.3" height="7.95" fill="#4250e8"/>
<rect x="344.1" y="856.16" width="121.3" height="5.13" fill="#fae725"/>
<rect x="344.1" y="861.14" width="121.3" height="7.50" fill="#1ea6dd"/>
<rect x="344.1" y="868.49" width="121.3" height="15.42" fill="#3f33c0"/>
<rect x="344.1" y="883.76" width="121.3" height="6.09" fill="#cdc234"/>
<rect x="344.1" y="889.69" width="121.3" height="3.53" fill="#fac631"/>
<rect x="344.1" y="893.08" width="121.3" height="8.26" fill="#3f33c0"/>
<rect x="344.1" y="901.19" width="121.3" height="10.31" fill="#3a74f2"/>
<rect x="344.1" y="911.35" width="121.3" height="4.36" fill="#faf022"/>
<rect x="344.1" y="915.56" width="121.3" height="12.61" fill="#3d2db2"/>
<rect x="344.1" y="928.02" width="121.3" height="4.94" fill="#22a0e4"/>
<rect x="344.1" y="932.81" width="121.3" height="4.36" fill="#e8bd35"/>
<rect x="344.1" y="937.02" width="121.3" height="8.20" fill="#3f33c0"/>
<rect x="344.1" y="945.08" width="121.3" height="7.43" fill="#fcd52b"/>
<rect x="344.1" y="952.35" width="121.3" height="5.20" fill="#31c199"/>
<rect x="344.1" y="957.40" width="121.3" height="4.43" fill="#4140d6"/>
<rect x="344.1" y="961.68" width="121.3" height="4.36" fill="#fae725"/>
<rect x="344.1" y="965.89" width="121.3" height="21.04" fill="#3d2aaa"/>
<rect x="344.1" y="986.78" width="121.3" height="6.54" fill="#4140d6"/>
<rect x="344.1" y="993.17" width="121.3" height="5.26" fill="#2d90ec"/>
<rect x="344.1" y="998.28" width="121.3" height="9.09" fill="#4250e8"/>
<rect x="344.1" y="1007.22" width="121.3" height="6.54" fill="#3a74f2"/>
<rect x="344.1" y="1013.61" width="121.3" height="9.09" fill="#4038cd"/>
<rect x="465.4" y="185.62" width="121.8" height="9.86" fill="#4140d6"/>
<rect x="465.4" y="195.33" width="121.8" height="3.98" fill="#3f33c0"/>
<rect x="465.4" y="199.16" width="121.8" height="7.81" fill="#2d90ec"/>
<rect x="465.4" y="206.83" width="121.8" height="7.81" fill="#3d2db2"/>
<rect x="465.4" y="214.49" width="121.8" height="3.98" fill="#4250e8"/>
<rect x="465.4" y="218.32" width="121.8" height="7.81" fill="#3d2db2"/>
<rect x="465.4" y="225.99" width="121.8" height="4.75" fill="#1ea6dd"/>
<rect x="465.4" y="230.59" width="121.8" height="8.33" fill="#3d2db2"/>
<rect x="465.4" y="238.76" width="121.8" height="5.26" fill="#4140d6"/>
<rect x="465.4" y="243.87" width="121.8" height="12.92" fill="#3d2aaa"/>
<rect x="465.4" y="256.65" width="121.8" height="18.48" fill="#3e31ba"/>
<rect x="465.4" y="274.98" width="121.8" height="3.85" fill="#48c880"/>
<rect x="465.4" y="278.68" width="121.8" height="11.84" fill="#3d2aaa"/>
<rect x="465.4" y="290.37" width="121.8" height="4.24" fill="#1ea6dd"/>
<rect x="465.4" y="294.46" width="121.8" height="7.05" fill="#4140d6"/>
<rect x="465.4" y="301.36" width="121.8" height="4.49" fill="#22a0e4"/>
<rect x="465.4" y="305.70" width="121.8" height="4.75" fill="#3d2db2"/>
<rect x="465.4" y="310.30" width="121.8" height="3.98" fill="#4148df"/>
<rect x="465.4" y="314.13" width="121.8" height="11.65" fill="#3d2db2"/>
<rect x="465.4" y="325.63" width="121.8" height="3.98" fill="#3880f5"/>
<rect x="465.4" y="329.46" width="121.8" height="9.09" fill="#4038cd"/>
<rect x="465.4" y="338.41" width="121.8" height="3.98" fill="#405ceb"/>
<rect x="465.4" y="342.24" width="121.8" height="9.09" fill="#3e31ba"/>
<rect x="465.4" y="351.18" width="121.8" height="6.54" fill="#2d90ec"/>
<rect x="465.4" y="357.57" width="121.8" height="19.31" fill="#3e31ba"/>
<rect x="465.4" y="376.73" width="121.8" height="5.26" fill="#4148df"/>
<rect x="465.4" y="381.84" width="121.8" height="15.48" fill="#3e31ba"/>
<rect x="465.4" y="397.17" width="121.8" height="7.81" fill="#4140d6"/>
<rect x="465.4" y="404.83" width="121.8" height="30.81" fill="#3e2fb8"/>
<rect x="465.4" y="435.49" width="121.8" height="15.48" fill="#4148df"/>
<rect x="465.4" y="450.82" width="121.8" height="5.26" fill="#3d2db2"/>
<rect x="465.4" y="455.93" width="121.8" height="5.26" fill="#4140d6"/>
<rect x="465.4" y="461.04" width="121.8" height="10.37" fill="#3e31ba"/>
<rect x="465.4" y="471.26" width="121.8" height="4.75" fill="#4250e8"/>
<rect x="465.4" y="476.00" width="121.8" height="2.19" fill="#3880f5"/>
<rect x="465.4" y="478.04" width="121.8" height="10.88" fill="#3f33c0"/>
<rect x="465.4" y="488.77" width="121.8" height="40.20" fill="#3f35c5"/>
<rect x="465.4" y="528.83" width="121.8" height="4.36" fill="#78ca64"/>
<rect x="465.4" y="533.04" width="121.8" height="44.03" fill="#3f33c0"/>
<rect x="465.4" y="576.92" width="121.8" height="9.09" fill="#17b5c5"/>
<rect x="465.4" y="585.86" width="121.8" height="10.37" fill="#4038cd"/>
<rect x="465.4" y="596.08" width="121.8" height="14.20" fill="#4148df"/>
<rect x="465.4" y="610.13" width="121.8" height="14.20" fill="#3d68ee"/>
<rect x="465.4" y="624.19" width="121.8" height="23.14" fill="#4140d6"/>
<rect x="465.4" y="647.18" width="121.8" height="5.77" fill="#1abab2"/>
<rect x="465.4" y="652.80" width="121.8" height="17.52" fill="#4038cd"/>
<rect x="465.4" y="670.17" width="121.8" height="7.81" fill="#405ceb"/>
<rect x="465.4" y="677.84" width="121.8" height="14.20" fill="#4038cd"/>
<rect x="465.4" y="691.89" width="121.8" height="5.26" fill="#22a0e4"/>
<rect x="465.4" y="697.00" width="121.8" height="9.09" fill="#4140d6"/>
<rect x="465.4" y="705.94" width="121.8" height="10.37" fill="#3f33c0"/>
<rect x="465.4" y="716.16" width="121.8" height="4.75" fill="#3880f5"/>
<rect x="465.4" y="720.76" width="121.8" height="15.99" fill="#3e31ba"/>
<rect x="465.4" y="736.60" width="121.8" height="5.26" fill="#4250e8"/>
<rect x="465.4" y="741.71" width="121.8" height="12.92" fill="#3f33c0"/>
<rect x="465.4" y="754.49" width="121.8" height="10.37" fill="#4250e8"/>
<rect x="465.4" y="764.71" width="121.8" height="11.39" fill="#3f33c0"/>
<rect x="465.4" y="776.00" width="121.8" height="4.75" fill="#3880f5"/>
<rect x="465.4" y="780.60" width="121.8" height="7.05" fill="#4038cd"/>
<rect x="465.4" y="787.50" width="121.8" height="9.09" fill="#3880f5"/>
<rect x="465.4" y="796.44" width="121.8" height="24.42" fill="#3f33c0"/>
<rect x="465.4" y="820.71" width="121.8" height="4.49" fill="#3a74f2"/>
<rect x="465.4" y="825.05" width="121.8" height="8.58" fill="#3f33c0"/>
<rect x="465.4" y="833.49" width="121.8" height="6.54" fill="#3880f5"/>
<rect x="465.4" y="839.87" width="121.8" height="3.67" fill="#4250e8"/>
<rect x="465.4" y="843.39" width="121.8" height="5.13" fill="#cdc234"/>
<rect x="465.4" y="848.37" width="121.8" height="23.59" fill="#3d2db2"/>
<rect x="465.4" y="871.81" width="121.8" height="5.26" fill="#4250e8"/>
<rect x="465.4" y="876.92" width="121.8" height="7.81" fill="#3f33c0"/>
<rect x="465.4" y="884.58" width="121.8" height="4.49" fill="#17b5c5"/>
<rect x="465.4" y="888.93" width="121.8" height="11.14" fill="#3f33c0"/>
<rect x="465.4" y="899.91" width="121.8" height="16.76" fill="#405ceb"/>
<rect x="465.4" y="916.52" width="121.8" height="11.65" fill="#3f35c5"/>
<rect x="465.4" y="928.02" width="121.8" height="4.49" fill="#17b5c5"/>
<rect x="465.4" y="932.36" width="121.8" height="7.30" fill="#4140d6"/>
<rect x="465.4" y="939.52" width="121.8" height="12.92" fill="#3f33c0"/>
<rect x="465.4" y="952.29" width="121.8" height="5.26" fill="#2d90ec"/>
<rect x="465.4" y="957.40" width="121.8" height="3.98" fill="#4038cd"/>
<rect x="465.4" y="961.23" width="121.8" height="5.26" fill="#3288f1"/>
<rect x="465.4" y="966.34" width="121.8" height="26.98" fill="#3d2db2"/>
<rect x="465.4" y="993.17" width="121.8" height="5.26" fill="#405ceb"/>
<rect x="465.4" y="998.28" width="121.8" height="24.42" fill="#3f33c0"/>
</g>
<rect x="100.9" y="185.3" width="487.2" height="837.8" fill="none" stroke="#c9c6f2" stroke-width="1.2" opacity="0.8"/>
<text x="0" y="0" font-size="29.4" text-anchor="start" fill="#111" transform="translate(145.5,160.5) rotate(-33.0) scale(1.000,1)">Shock</text>
<text x="0" y="0" font-size="29.4" text-anchor="start" fill="#111" transform="translate(258.5,158.5) rotate(-33.0) scale(1.000,1)">Mustard Oil</text>
<text x="0" y="0" font-size="29.4" text-anchor="start" fill="#111" transform="translate(399.0,152.0) rotate(-33.0) scale(1.000,1)">Heat</text>
<text x="0" y="0" font-size="29.4" text-anchor="start" fill="#111" transform="translate(519.0,162.5) rotate(-33.0) scale(1.000,1)">Taps</text>
<rect x="615.8" y="185.5" width="50.2" height="829.1" fill="url(#gA)"/>
<rect x="617.0" y="186.7" width="47.8" height="826.7" fill="none" stroke="#000" stroke-opacity="0.55" stroke-width="2.4"/>
<rect x="655.5" y="267.3" width="9" height="2.2" fill="#000" fill-opacity="0.6"/>
<rect x="655.5" y="350.2" width="9" height="2.2" fill="#000" fill-opacity="0.6"/>
<rect x="655.5" y="433.1" width="9" height="2.2" fill="#000" fill-opacity="0.6"/>
<rect x="655.5" y="516.0" width="9" height="2.2" fill="#000" fill-opacity="0.6"/>
<rect x="655.5" y="598.9" width="9" height="2.2" fill="#000" fill-opacity="0.6"/>
<rect x="655.5" y="681.9" width="9" height="2.2" fill="#000" fill-opacity="0.6"/>
<rect x="655.5" y="764.8" width="9" height="2.2" fill="#000" fill-opacity="0.6"/>
<rect x="655.5" y="847.7" width="9" height="2.2" fill="#000" fill-opacity="0.6"/>
<rect x="655.5" y="930.6" width="9" height="2.2" fill="#000" fill-opacity="0.6"/>
<text x="687.5" y="218.4" font-size="28.5" text-anchor="start" fill="#111">2</text>
<text x="687.5" y="609.0" font-size="28.5" text-anchor="start" fill="#111">1</text>
<text x="685.0" y="1015.3" font-size="28.5" text-anchor="start" fill="#111">0</text>
<text x="766.0" y="45.0" font-size="60.0" text-anchor="start" fill="#111" stroke="#fff" stroke-width="0.6">b</text>
<text x="801.9" y="140.7" font-size="30.0" text-anchor="start" fill="#111" textLength="86.3" lengthAdjust="spacingAndGlyphs">FISH 1</text>
<text x="801.9" y="176.0" font-size="30.0" text-anchor="start" fill="#111" textLength="252.3" lengthAdjust="spacingAndGlyphs">(more dorsal plane)</text>
<text x="801.9" y="603.8" font-size="30.0" text-anchor="start" fill="#111" textLength="88.8" lengthAdjust="spacingAndGlyphs">FISH 2</text>
<text x="801.9" y="637.2" font-size="30.0" text-anchor="start" fill="#111" textLength="260.0" lengthAdjust="spacingAndGlyphs">(more ventral plane)</text>
<svg x="801" y="219" width="321" height="319" viewBox="0 0 321 319">
<rect width="321" height="319" fill="#111"/>
<ellipse cx="94.9" cy="133.3" rx="26.0" ry="52.0" fill="#fff" fill-opacity="0.10" filter="url(#bl3)"/>
<ellipse cx="185.0" cy="143.6" rx="24.0" ry="58.0" fill="#fff" fill-opacity="0.10" filter="url(#bl3)"/>
<ellipse cx="94.9" cy="241.5" rx="10.0" ry="22.0" fill="#fff" fill-opacity="0.06" filter="url(#bl3)"/>
<ellipse cx="78.1" cy="89.5" rx="11.5" ry="11.5" fill="#fff" fill-opacity="0.18" filter="url(#bl2)"/>
<ellipse cx="82.0" cy="105.0" rx="11.5" ry="11.5" fill="#fff" fill-opacity="0.14" filter="url(#bl2)"/>
<ellipse cx="100.0" cy="107.6" rx="12.6" ry="12.6" fill="#fff" fill-opacity="0.13" filter="url(#bl2)"/>
<ellipse cx="89.7" cy="87.0" rx="9.2" ry="9.2" fill="#fff" fill-opacity="0.10" filter="url(#bl2)"/>
<ellipse cx="107.7" cy="115.3" rx="11.5" ry="11.5" fill="#fff" fill-opacity="0.10" filter="url(#bl2)"/>
<ellipse cx="87.1" cy="134.6" rx="13.8" ry="13.8" fill="#fff" fill-opacity="0.18" filter="url(#bl2)"/>
<ellipse cx="78.1" cy="142.3" rx="11.5" ry="11.5" fill="#fff" fill-opacity="0.13" filter="url(#bl2)"/>
<ellipse cx="94.9" cy="148.8" rx="11.5" ry="11.5" fill="#fff" fill-opacity="0.11" filter="url(#bl2)"/>
<ellipse cx="92.3" cy="161.6" rx="13.8" ry="13.8" fill="#fff" fill-opacity="0.18" filter="url(#bl2)"/>
<ellipse cx="97.4" cy="177.1" rx="14.9" ry="14.9" fill="#fff" fill-opacity="0.24" filter="url(#bl2)"/>
<ellipse cx="112.9" cy="171.9" rx="11.5" ry="11.5" fill="#fff" fill-opacity="0.11" filter="url(#bl2)"/>
<ellipse cx="84.6" cy="169.4" rx="11.5" ry="11.5" fill="#fff" fill-opacity="0.12" filter="url(#bl2)"/>
<ellipse cx="102.6" cy="187.4" rx="11.5" ry="11.5" fill="#fff" fill-opacity="0.08" filter="url(#bl2)"/>
<ellipse cx="123.2" cy="169.4" rx="9.2" ry="9.2" fill="#fff" fill-opacity="0.06" filter="url(#bl2)"/>
<ellipse cx="92.3" cy="223.4" rx="10.3" ry="10.3" fill="#fff" fill-opacity="0.05" filter="url(#bl2)"/>
<ellipse cx="96.1" cy="251.8" rx="12.6" ry="12.6" fill="#fff" fill-opacity="0.10" filter="url(#bl2)"/>
<ellipse cx="174.7" cy="97.3" rx="13.8" ry="13.8" fill="#fff" fill-opacity="0.09" filter="url(#bl2)"/>
<ellipse cx="195.3" cy="93.4" rx="13.8" ry="13.8" fill="#fff" fill-opacity="0.10" filter="url(#bl2)"/>
<ellipse cx="200.4" cy="108.9" rx="12.6" ry="12.6" fill="#fff" fill-opacity="0.10" filter="url(#bl2)"/>
<ellipse cx="172.1" cy="114.0" rx="12.6" ry="12.6" fill="#fff" fill-opacity="0.08" filter="url(#bl2)"/>
<ellipse cx="185.0" cy="105.0" rx="11.5" ry="11.5" fill="#fff" fill-opacity="0.07" filter="url(#bl2)"/>
<ellipse cx="182.4" cy="135.9" rx="13.8" ry="13.8" fill="#fff" fill-opacity="0.10" filter="url(#bl2)"/>
<ellipse cx="191.4" cy="141.0" rx="11.5" ry="11.5" fill="#fff" fill-opacity="0.10" filter="url(#bl2)"/>
<ellipse cx="200.4" cy="135.9" rx="11.5" ry="11.5" fill="#fff" fill-opacity="0.06" filter="url(#bl2)"/>
<ellipse cx="174.7" cy="160.4" rx="11.5" ry="11.5" fill="#fff" fill-opacity="0.09" filter="url(#bl2)"/>
<ellipse cx="190.1" cy="161.6" rx="13.8" ry="13.8" fill="#fff" fill-opacity="0.10" filter="url(#bl2)"/>
<ellipse cx="164.4" cy="138.5" rx="9.2" ry="9.2" fill="#fff" fill-opacity="0.04" filter="url(#bl2)"/>
<ellipse cx="185.0" cy="190.0" rx="12.6" ry="12.6" fill="#fff" fill-opacity="0.06" filter="url(#bl2)"/>
<ellipse cx="192.7" cy="179.7" rx="11.5" ry="11.5" fill="#fff" fill-opacity="0.05" filter="url(#bl2)"/>
<ellipse cx="177.2" cy="208.0" rx="11.5" ry="11.5" fill="#fff" fill-opacity="0.06" filter="url(#bl2)"/>
<ellipse cx="182.4" cy="200.3" rx="9.2" ry="9.2" fill="#fff" fill-opacity="0.04" filter="url(#bl2)"/>
<ellipse cx="78.1" cy="89.5" rx="5.8" ry="4.8" fill="#fff" fill-opacity="0.46" filter="url(#bl1)" transform="rotate(175 78.1 89.5)"/>
<ellipse cx="82.0" cy="105.0" rx="5.8" ry="4.8" fill="#fff" fill-opacity="0.37" filter="url(#bl1)" transform="rotate(100 82.0 105.0)"/>
<ellipse cx="100.0" cy="107.6" rx="6.3" ry="5.2" fill="#fff" fill-opacity="0.34" filter="url(#bl1)" transform="rotate(50 100.0 107.6)"/>
<ellipse cx="89.7" cy="87.0" rx="4.6" ry="3.8" fill="#fff" fill-opacity="0.24" filter="url(#bl1)" transform="rotate(130 89.7 87.0)"/>
<ellipse cx="107.7" cy="115.3" rx="5.8" ry="4.8" fill="#fff" fill-opacity="0.24" filter="url(#bl1)" transform="rotate(80 107.7 115.3)"/>
<ellipse cx="87.1" cy="134.6" rx="6.9" ry="5.7" fill="#fff" fill-opacity="0.46" filter="url(#bl1)" transform="rotate(60 87.1 134.6)"/>
<ellipse cx="78.1" cy="142.3" rx="5.8" ry="4.8" fill="#fff" fill-opacity="0.34" filter="url(#bl1)" transform="rotate(175 78.1 142.3)"/>
<ellipse cx="94.9" cy="148.8" rx="5.8" ry="4.8" fill="#fff" fill-opacity="0.28" filter="url(#bl1)" transform="rotate(90 94.9 148.8)"/>
<ellipse cx="92.3" cy="161.6" rx="6.9" ry="5.7" fill="#fff" fill-opacity="0.46" filter="url(#bl1)" transform="rotate(20 92.3 161.6)"/>
<ellipse cx="97.4" cy="177.1" rx="7.5" ry="6.2" fill="#fff" fill-opacity="0.61" filter="url(#bl1)" transform="rotate(160 97.4 177.1)"/>
<ellipse cx="112.9" cy="171.9" rx="5.8" ry="4.8" fill="#fff" fill-opacity="0.28" filter="url(#bl1)" transform="rotate(40 112.9 171.9)"/>
<ellipse cx="84.6" cy="169.4" rx="5.8" ry="4.8" fill="#fff" fill-opacity="0.31" filter="url(#bl1)" transform="rotate(170 84.6 169.4)"/>
<ellipse cx="102.6" cy="187.4" rx="5.8" ry="4.8" fill="#fff" fill-opacity="0.21" filter="url(#bl1)" transform="rotate(120 102.6 187.4)"/>
<ellipse cx="123.2" cy="169.4" rx="4.6" ry="3.8" fill="#fff" fill-opacity="0.15" filter="url(#bl1)" transform="rotate(140 123.2 169.4)"/>
<ellipse cx="92.3" cy="223.4" rx="5.2" ry="4.3" fill="#fff" fill-opacity="0.13" filter="url(#bl1)" transform="rotate(20 92.3 223.4)"/>
<ellipse cx="96.1" cy="251.8" rx="6.3" ry="5.2" fill="#fff" fill-opacity="0.26" filter="url(#bl1)" transform="rotate(125 96.1 251.8)"/>
<ellipse cx="174.7" cy="97.3" rx="6.9" ry="5.7" fill="#fff" fill-opacity="0.22" filter="url(#bl1)" transform="rotate(100 174.7 97.3)"/>
<ellipse cx="195.3" cy="93.4" rx="6.9" ry="5.7" fill="#fff" fill-opacity="0.27" filter="url(#bl1)" transform="rotate(120 195.3 93.4)"/>
<ellipse cx="200.4" cy="108.9" rx="6.3" ry="5.2" fill="#fff" fill-opacity="0.25" filter="url(#bl1)" transform="rotate(80 200.4 108.9)"/>
<ellipse cx="172.1" cy="114.0" rx="6.3" ry="5.2" fill="#fff" fill-opacity="0.20" filter="url(#bl1)" transform="rotate(30 172.1 114.0)"/>
<ellipse cx="185.0" cy="105.0" rx="5.8" ry="4.8" fill="#fff" fill-opacity="0.18" filter="url(#bl1)" transform="rotate(20 185.0 105.0)"/>
<ellipse cx="182.4" cy="135.9" rx="6.9" ry="5.7" fill="#fff" fill-opacity="0.27" filter="url(#bl1)" transform="rotate(130 182.4 135.9)"/>
<ellipse cx="191.4" cy="141.0" rx="5.8" ry="4.8" fill="#fff" fill-opacity="0.25" filter="url(#bl1)" transform="rotate(15 191.4 141.0)"/>
<ellipse cx="200.4" cy="135.9" rx="5.8" ry="4.8" fill="#fff" fill-opacity="0.16" filter="url(#bl1)" transform="rotate(80 200.4 135.9)"/>
<ellipse cx="174.7" cy="160.4" rx="5.8" ry="4.8" fill="#fff" fill-opacity="0.22" filter="url(#bl1)" transform="rotate(100 174.7 160.4)"/>
<ellipse cx="190.1" cy="161.6" rx="6.9" ry="5.7" fill="#fff" fill-opacity="0.27" filter="url(#bl1)" transform="rotate(160 190.1 161.6)"/>
<ellipse cx="164.4" cy="138.5" rx="4.6" ry="3.8" fill="#fff" fill-opacity="0.11" filter="url(#bl1)"/>
<ellipse cx="185.0" cy="190.0" rx="6.3" ry="5.2" fill="#fff" fill-opacity="0.16" filter="url(#bl1)" transform="rotate(20 185.0 190.0)"/>
<ellipse cx="192.7" cy="179.7" rx="5.8" ry="4.8" fill="#fff" fill-opacity="0.13" filter="url(#bl1)" transform="rotate(50 192.7 179.7)"/>
<ellipse cx="177.2" cy="208.0" rx="5.8" ry="4.8" fill="#fff" fill-opacity="0.14" filter="url(#bl1)" transform="rotate(170 177.2 208.0)"/>
<ellipse cx="182.4" cy="200.3" rx="4.6" ry="3.8" fill="#fff" fill-opacity="0.11" filter="url(#bl1)" transform="rotate(130 182.4 200.3)"/>
<rect x="248.0" y="293.0" width="42.5" height="9.7" fill="#fff"/>
<rect x="0.5" y="0.5" width="320" height="318" fill="none" stroke="#555" stroke-width="1"/>
</svg>
<text x="1031.0" y="330.4" font-size="30.0" text-anchor="start" fill="#fff" textLength="56.6" lengthAdjust="spacingAndGlyphs">aPO</text>
<text x="1033.6" y="452.7" font-size="30.0" text-anchor="start" fill="#fff" textLength="57.9" lengthAdjust="spacingAndGlyphs">pPO</text>
<svg x="801" y="679" width="321" height="321" viewBox="0 0 321 321">
<rect width="321" height="321" fill="#0a0a0a"/>
<ellipse cx="100.0" cy="143.6" rx="26.0" ry="58.0" fill="#fff" fill-opacity="0.09" filter="url(#bl3)" transform="rotate(-12 100.0 143.6)"/>
<ellipse cx="190.1" cy="153.9" rx="32.0" ry="62.0" fill="#fff" fill-opacity="0.12" filter="url(#bl3)" transform="rotate(10 190.1 153.9)"/>
<ellipse cx="210.7" cy="267.2" rx="10.0" ry="50.0" fill="#fff" fill-opacity="0.12" filter="url(#bl3)" transform="rotate(-5 210.7 267.2)"/>
<ellipse cx="239.0" cy="280.1" rx="8.0" ry="45.0" fill="#fff" fill-opacity="0.08" filter="url(#bl3)" transform="rotate(-15 239.0 280.1)"/>
<ellipse cx="87.1" cy="228.6" rx="12.0" ry="25.0" fill="#fff" fill-opacity="0.06" filter="url(#bl3)"/>
<ellipse cx="83.3" cy="79.2" rx="10.3" ry="10.3" fill="#fff" fill-opacity="0.05" filter="url(#bl2)"/>
<ellipse cx="111.6" cy="83.1" rx="16.1" ry="16.1" fill="#fff" fill-opacity="0.09" filter="url(#bl2)"/>
<ellipse cx="102.6" cy="102.4" rx="13.8" ry="13.8" fill="#fff" fill-opacity="0.04" filter="url(#bl2)"/>
<ellipse cx="82.0" cy="123.0" rx="14.9" ry="14.9" fill="#fff" fill-opacity="0.20" filter="url(#bl2)"/>
<ellipse cx="92.3" cy="125.6" rx="14.9" ry="14.9" fill="#fff" fill-opacity="0.21" filter="url(#bl2)"/>
<ellipse cx="97.4" cy="141.0" rx="13.8" ry="13.8" fill="#fff" fill-opacity="0.12" filter="url(#bl2)"/>
<ellipse cx="107.7" cy="160.4" rx="14.9" ry="14.9" fill="#fff" fill-opacity="0.12" filter="url(#bl2)"/>
<ellipse cx="119.3" cy="161.6" rx="13.8" ry="13.8" fill="#fff" fill-opacity="0.10" filter="url(#bl2)"/>
<ellipse cx="107.7" cy="182.2" rx="13.8" ry="13.8" fill="#fff" fill-opacity="0.10" filter="url(#bl2)"/>
<ellipse cx="119.3" cy="179.7" rx="12.6" ry="12.6" fill="#fff" fill-opacity="0.09" filter="url(#bl2)"/>
<ellipse cx="97.4" cy="195.1" rx="13.8" ry="13.8" fill="#fff" fill-opacity="0.08" filter="url(#bl2)"/>
<ellipse cx="82.0" cy="220.9" rx="13.8" ry="13.8" fill="#fff" fill-opacity="0.03" filter="url(#bl2)"/>
<ellipse cx="94.9" cy="246.6" rx="11.5" ry="11.5" fill="#fff" fill-opacity="0.01" filter="url(#bl2)"/>
<ellipse cx="192.7" cy="92.1" rx="13.8" ry="13.8" fill="#fff" fill-opacity="0.06" filter="url(#bl2)"/>
<ellipse cx="195.3" cy="112.7" rx="14.9" ry="14.9" fill="#fff" fill-opacity="0.11" filter="url(#bl2)"/>
<ellipse cx="208.1" cy="120.4" rx="14.9" ry="14.9" fill="#fff" fill-opacity="0.10" filter="url(#bl2)"/>
<ellipse cx="197.8" cy="133.3" rx="16.1" ry="16.1" fill="#fff" fill-opacity="0.23" filter="url(#bl2)"/>
<ellipse cx="185.0" cy="128.2" rx="13.8" ry="13.8" fill="#fff" fill-opacity="0.10" filter="url(#bl2)"/>
<ellipse cx="167.0" cy="130.7" rx="13.8" ry="13.8" fill="#fff" fill-opacity="0.06" filter="url(#bl2)"/>
<ellipse cx="179.8" cy="164.2" rx="14.9" ry="14.9" fill="#fff" fill-opacity="0.21" filter="url(#bl2)"/>
<ellipse cx="174.7" cy="179.7" rx="17.2" ry="17.2" fill="#fff" fill-opacity="0.25" filter="url(#bl2)"/>
<ellipse cx="169.5" cy="174.5" rx="11.5" ry="11.5" fill="#fff" fill-opacity="0.12" filter="url(#bl2)"/>
<ellipse cx="203.0" cy="153.9" rx="13.8" ry="13.8" fill="#fff" fill-opacity="0.08" filter="url(#bl2)"/>
<ellipse cx="192.7" cy="148.8" rx="11.5" ry="11.5" fill="#fff" fill-opacity="0.09" filter="url(#bl2)"/>
<ellipse cx="185.0" cy="202.8" rx="13.8" ry="13.8" fill="#fff" fill-opacity="0.08" filter="url(#bl2)"/>
<ellipse cx="200.4" cy="220.9" rx="16.1" ry="16.1" fill="#fff" fill-opacity="0.15" filter="url(#bl2)"/>
<ellipse cx="275.1" cy="193.8" rx="13.8" ry="13.8" fill="#fff" fill-opacity="0.04" filter="url(#bl2)"/>
<ellipse cx="210.7" cy="138.5" rx="13.8" ry="13.8" fill="#fff" fill-opacity="0.07" filter="url(#bl2)"/>
<ellipse cx="179.8" cy="148.8" rx="11.5" ry="11.5" fill="#fff" fill-opacity="0.10" filter="url(#bl2)"/>
<ellipse cx="83.3" cy="79.2" rx="5.2" ry="4.3" fill="#fff" fill-opacity="0.13" filter="url(#bl1)" transform="rotate(135 83.3 79.2)"/>
<ellipse cx="111.6" cy="83.1" rx="8.0" ry="6.6" fill="#fff" fill-opacity="0.23" filter="url(#bl1)" transform="rotate(5 111.6 83.1)"/>
<ellipse cx="102.6" cy="102.4" rx="6.9" ry="5.7" fill="#fff" fill-opacity="0.10" filter="url(#bl1)" transform="rotate(120 102.6 102.4)"/>
<ellipse cx="82.0" cy="123.0" rx="7.5" ry="6.2" fill="#fff" fill-opacity="0.52" filter="url(#bl1)" transform="rotate(100 82.0 123.0)"/>
<ellipse cx="92.3" cy="125.6" rx="7.5" ry="6.2" fill="#fff" fill-opacity="0.55" filter="url(#bl1)" transform="rotate(20 92.3 125.6)"/>
<ellipse cx="97.4" cy="141.0" rx="6.9" ry="5.7" fill="#fff" fill-opacity="0.31" filter="url(#bl1)" transform="rotate(160 97.4 141.0)"/>
<ellipse cx="107.7" cy="160.4" rx="7.5" ry="6.2" fill="#fff" fill-opacity="0.31" filter="url(#bl1)" transform="rotate(80 107.7 160.4)"/>
<ellipse cx="119.3" cy="161.6" rx="6.9" ry="5.7" fill="#fff" fill-opacity="0.26" filter="url(#bl1)" transform="rotate(35 119.3 161.6)"/>
<ellipse cx="107.7" cy="182.2" rx="6.9" ry="5.7" fill="#fff" fill-opacity="0.26" filter="url(#bl1)" transform="rotate(80 107.7 182.2)"/>
<ellipse cx="119.3" cy="179.7" rx="6.3" ry="5.2" fill="#fff" fill-opacity="0.23" filter="url(#bl1)" transform="rotate(35 119.3 179.7)"/>
<ellipse cx="97.4" cy="195.1" rx="6.9" ry="5.7" fill="#fff" fill-opacity="0.21" filter="url(#bl1)" transform="rotate(160 97.4 195.1)"/>
<ellipse cx="82.0" cy="220.9" rx="6.9" ry="5.7" fill="#fff" fill-opacity="0.06" filter="url(#bl1)" transform="rotate(100 82.0 220.9)"/>
<ellipse cx="94.9" cy="246.6" rx="5.8" ry="4.8" fill="#fff" fill-opacity="0.03" filter="url(#bl1)" transform="rotate(90 94.9 246.6)"/>
<ellipse cx="192.7" cy="92.1" rx="6.9" ry="5.7" fill="#fff" fill-opacity="0.16" filter="url(#bl1)" transform="rotate(50 192.7 92.1)"/>
<ellipse cx="195.3" cy="112.7" rx="7.5" ry="6.2" fill="#fff" fill-opacity="0.29" filter="url(#bl1)" transform="rotate(120 195.3 112.7)"/>
<ellipse cx="208.1" cy="120.4" rx="7.5" ry="6.2" fill="#fff" fill-opacity="0.26" filter="url(#bl1)" transform="rotate(110 208.1 120.4)"/>
<ellipse cx="197.8" cy="133.3" rx="8.0" ry="6.6" fill="#fff" fill-opacity="0.58" filter="url(#bl1)" transform="rotate(10 197.8 133.3)"/>
<ellipse cx="185.0" cy="128.2" rx="6.9" ry="5.7" fill="#fff" fill-opacity="0.26" filter="url(#bl1)" transform="rotate(20 185.0 128.2)"/>
<ellipse cx="167.0" cy="130.7" rx="6.9" ry="5.7" fill="#fff" fill-opacity="0.16" filter="url(#bl1)" transform="rotate(70 167.0 130.7)"/>
<ellipse cx="179.8" cy="164.2" rx="7.5" ry="6.2" fill="#fff" fill-opacity="0.55" filter="url(#bl1)" transform="rotate(60 179.8 164.2)"/>
<ellipse cx="174.7" cy="179.7" rx="8.6" ry="7.1" fill="#fff" fill-opacity="0.65" filter="url(#bl1)" transform="rotate(100 174.7 179.7)"/>
<ellipse cx="169.5" cy="174.5" rx="5.8" ry="4.8" fill="#fff" fill-opacity="0.31" filter="url(#bl1)" transform="rotate(140 169.5 174.5)"/>
<ellipse cx="203.0" cy="153.9" rx="6.9" ry="5.7" fill="#fff" fill-opacity="0.21" filter="url(#bl1)" transform="rotate(150 203.0 153.9)"/>
<ellipse cx="192.7" cy="148.8" rx="5.8" ry="4.8" fill="#fff" fill-opacity="0.23" filter="url(#bl1)" transform="rotate(50 192.7 148.8)"/>
<ellipse cx="185.0" cy="202.8" rx="6.9" ry="5.7" fill="#fff" fill-opacity="0.21" filter="url(#bl1)" transform="rotate(20 185.0 202.8)"/>
<ellipse cx="200.4" cy="220.9" rx="8.0" ry="6.6" fill="#fff" fill-opacity="0.39" filter="url(#bl1)" transform="rotate(80 200.4 220.9)"/>
<ellipse cx="275.1" cy="193.8" rx="6.9" ry="5.7" fill="#fff" fill-opacity="0.09" filter="url(#bl1)" transform="rotate(130 275.1 193.8)"/>
<ellipse cx="210.7" cy="138.5" rx="6.9" ry="5.7" fill="#fff" fill-opacity="0.18" filter="url(#bl1)"/>
<ellipse cx="179.8" cy="148.8" rx="5.8" ry="4.8" fill="#fff" fill-opacity="0.26" filter="url(#bl1)" transform="rotate(60 179.8 148.8)"/>
<ellipse cx="156.7" cy="164.2" rx="2.5" ry="8.0" fill="#fff" fill-opacity="0.50" filter="url(#bl1)" transform="rotate(-20 156.7 164.2)"/>
<rect x="0.5" y="0.5" width="320" height="320" fill="none" stroke="#555" stroke-width="1"/>
</svg>
<text x="1033.6" y="775.0" font-size="30.0" text-anchor="start" fill="#fff" textLength="56.6" lengthAdjust="spacingAndGlyphs">aPO</text>
<text x="1036.0" y="906.3" font-size="30.0" text-anchor="start" fill="#fff" textLength="57.9" lengthAdjust="spacingAndGlyphs">pPO</text>
<rect x="1261.0" y="192.40" width="101.2" height="9.90" fill="#4762be"/>
<rect x="1361.6" y="192.40" width="98.7" height="9.90" fill="#4762be"/>
<rect x="1459.7" y="192.40" width="97.9" height="9.90" fill="#43379b"/>
<rect x="1557.0" y="192.40" width="97.0" height="9.90" fill="#4544a6"/>
<rect x="1261.0" y="201.70" width="101.2" height="9.90" fill="#3cbb9f"/>
<rect x="1361.6" y="201.70" width="98.7" height="9.90" fill="#f6ea26"/>
<rect x="1459.7" y="201.70" width="97.9" height="9.90" fill="#43379b"/>
<rect x="1557.0" y="201.70" width="97.0" height="9.90" fill="#4544a6"/>
<rect x="1261.0" y="211.01" width="101.2" height="9.90" fill="#4762be"/>
<rect x="1361.6" y="211.01" width="98.7" height="9.90" fill="#4670c8"/>
<rect x="1459.7" y="211.01" width="97.9" height="9.90" fill="#4762be"/>
<rect x="1557.0" y="211.01" width="97.0" height="9.90" fill="#4544a6"/>
<rect x="1261.0" y="220.31" width="101.2" height="9.90" fill="#4670c8"/>
<rect x="1361.6" y="220.31" width="98.7" height="9.90" fill="#4278cc"/>
<rect x="1459.7" y="220.31" width="97.9" height="9.90" fill="#423498"/>
<rect x="1557.0" y="220.31" width="97.0" height="9.90" fill="#4544a6"/>
<rect x="1261.0" y="229.61" width="101.2" height="9.90" fill="#464cad"/>
<rect x="1361.6" y="229.61" width="98.7" height="9.90" fill="#464cad"/>
<rect x="1459.7" y="229.61" width="97.9" height="9.90" fill="#423498"/>
<rect x="1557.0" y="229.61" width="97.0" height="9.90" fill="#4544a6"/>
<rect x="1261.0" y="238.91" width="101.2" height="9.90" fill="#3b86d6"/>
<rect x="1361.6" y="238.91" width="98.7" height="9.90" fill="#2e9bd8"/>
<rect x="1459.7" y="238.91" width="97.9" height="9.90" fill="#423498"/>
<rect x="1557.0" y="238.91" width="97.0" height="9.90" fill="#464cad"/>
<rect x="1261.0" y="248.22" width="101.2" height="9.90" fill="#4670c8"/>
<rect x="1361.6" y="248.22" width="98.7" height="9.90" fill="#2e9bd8"/>
<rect x="1459.7" y="248.22" width="97.9" height="9.90" fill="#485bb9"/>
<rect x="1557.0" y="248.22" width="97.0" height="9.90" fill="#4854b4"/>
<rect x="1261.0" y="257.52" width="101.2" height="9.90" fill="#22accd"/>
<rect x="1361.6" y="257.52" width="98.7" height="9.90" fill="#4670c8"/>
<rect x="1459.7" y="257.52" width="97.9" height="9.90" fill="#4854b4"/>
<rect x="1557.0" y="257.52" width="97.0" height="9.90" fill="#4854b4"/>
<rect x="1261.0" y="266.82" width="101.2" height="9.90" fill="#1eb2bb"/>
<rect x="1361.6" y="266.82" width="98.7" height="9.90" fill="#f6ea26"/>
<rect x="1459.7" y="266.82" width="97.9" height="9.90" fill="#4544a6"/>
<rect x="1557.0" y="266.82" width="97.0" height="9.90" fill="#464cad"/>
<rect x="1261.0" y="276.12" width="101.2" height="9.90" fill="#1eb2bb"/>
<rect x="1361.6" y="276.12" width="98.7" height="9.90" fill="#1cb6b2"/>
<rect x="1459.7" y="276.12" width="97.9" height="9.90" fill="#464cad"/>
<rect x="1557.0" y="276.12" width="97.0" height="9.90" fill="#464cad"/>
<rect x="1261.0" y="285.43" width="101.2" height="9.90" fill="#20afc4"/>
<rect x="1361.6" y="285.43" width="98.7" height="9.90" fill="#4670c8"/>
<rect x="1459.7" y="285.43" width="97.9" height="9.90" fill="#4544a6"/>
<rect x="1557.0" y="285.43" width="97.0" height="9.90" fill="#4544a6"/>
<rect x="1261.0" y="294.73" width="101.2" height="9.90" fill="#d2bc2e"/>
<rect x="1361.6" y="294.73" width="98.7" height="9.90" fill="#f6ea26"/>
<rect x="1459.7" y="294.73" width="97.9" height="9.90" fill="#22accd"/>
<rect x="1557.0" y="294.73" width="97.0" height="9.90" fill="#4670c8"/>
<rect x="1261.0" y="304.03" width="101.2" height="9.90" fill="#4854b4"/>
<rect x="1361.6" y="304.03" width="98.7" height="9.90" fill="#4854b4"/>
<rect x="1459.7" y="304.03" width="97.9" height="9.90" fill="#4544a6"/>
<rect x="1557.0" y="304.03" width="97.0" height="9.90" fill="#4544a6"/>
<rect x="1261.0" y="313.34" width="101.2" height="9.90" fill="#3f7fd1"/>
<rect x="1361.6" y="313.34" width="98.7" height="9.90" fill="#4670c8"/>
<rect x="1459.7" y="313.34" width="97.9" height="9.90" fill="#464cad"/>
<rect x="1557.0" y="313.34" width="97.0" height="9.90" fill="#485bb9"/>
<rect x="1261.0" y="322.64" width="101.2" height="9.90" fill="#4544a6"/>
<rect x="1361.6" y="322.64" width="98.7" height="9.90" fill="#4544a6"/>
<rect x="1459.7" y="322.64" width="97.9" height="9.90" fill="#4544a6"/>
<rect x="1557.0" y="322.64" width="97.0" height="9.90" fill="#443c9f"/>
<rect x="1261.0" y="331.94" width="101.2" height="9.90" fill="#b8c138"/>
<rect x="1361.6" y="331.94" width="98.7" height="9.90" fill="#fad032"/>
<rect x="1459.7" y="331.94" width="97.9" height="9.90" fill="#4762be"/>
<rect x="1557.0" y="331.94" width="97.0" height="9.90" fill="#443c9f"/>
<rect x="1261.0" y="341.24" width="101.2" height="9.90" fill="#1eb2bb"/>
<rect x="1361.6" y="341.24" width="98.7" height="9.90" fill="#84c464"/>
<rect x="1459.7" y="341.24" width="97.9" height="9.90" fill="#f6ea26"/>
<rect x="1557.0" y="341.24" width="97.0" height="9.90" fill="#485bb9"/>
<rect x="1261.0" y="350.55" width="101.2" height="9.90" fill="#1eb2bb"/>
<rect x="1361.6" y="350.55" width="98.7" height="9.90" fill="#f6ea26"/>
<rect x="1459.7" y="350.55" width="97.9" height="9.90" fill="#f6ea26"/>
<rect x="1557.0" y="350.55" width="97.0" height="9.90" fill="#485bb9"/>
<rect x="1261.0" y="359.85" width="101.2" height="9.90" fill="#f6ea26"/>
<rect x="1361.6" y="359.85" width="98.7" height="9.90" fill="#f6ea26"/>
<rect x="1459.7" y="359.85" width="97.9" height="9.90" fill="#4670c8"/>
<rect x="1557.0" y="359.85" width="97.0" height="9.90" fill="#485bb9"/>
<rect x="1261.0" y="369.15" width="101.2" height="9.90" fill="#c2bf34"/>
<rect x="1361.6" y="369.15" width="98.7" height="9.90" fill="#f9c835"/>
<rect x="1459.7" y="369.15" width="97.9" height="9.90" fill="#f6ea26"/>
<rect x="1557.0" y="369.15" width="97.0" height="9.90" fill="#485bb9"/>
<rect x="1261.0" y="378.45" width="101.2" height="9.90" fill="#84c464"/>
<rect x="1361.6" y="378.45" width="98.7" height="9.90" fill="#3cbb9f"/>
<rect x="1459.7" y="378.45" width="97.9" height="9.90" fill="#3f7fd1"/>
<rect x="1557.0" y="378.45" width="97.0" height="9.90" fill="#485bb9"/>
<rect x="1261.0" y="387.76" width="101.2" height="9.90" fill="#f6ea26"/>
<rect x="1361.6" y="387.76" width="98.7" height="9.90" fill="#4670c8"/>
<rect x="1459.7" y="387.76" width="97.9" height="9.90" fill="#c8be32"/>
<rect x="1557.0" y="387.76" width="97.0" height="9.90" fill="#485bb9"/>
<rect x="1261.0" y="397.06" width="101.2" height="9.90" fill="#9bc34f"/>
<rect x="1361.6" y="397.06" width="98.7" height="9.90" fill="#f6ea26"/>
<rect x="1459.7" y="397.06" width="97.9" height="9.90" fill="#3f7fd1"/>
<rect x="1557.0" y="397.06" width="97.0" height="9.90" fill="#22accd"/>
<rect x="1261.0" y="406.36" width="101.2" height="9.90" fill="#24a8d6"/>
<rect x="1361.6" y="406.36" width="98.7" height="9.90" fill="#22accd"/>
<rect x="1459.7" y="406.36" width="97.9" height="9.90" fill="#f6ea26"/>
<rect x="1557.0" y="406.36" width="97.0" height="9.90" fill="#4854b4"/>
<rect x="1261.0" y="415.66" width="101.2" height="9.90" fill="#388eda"/>
<rect x="1361.6" y="415.66" width="98.7" height="9.90" fill="#f6ea26"/>
<rect x="1459.7" y="415.66" width="97.9" height="9.90" fill="#485bb9"/>
<rect x="1557.0" y="415.66" width="97.0" height="9.90" fill="#4854b4"/>
<rect x="1261.0" y="424.97" width="101.2" height="9.90" fill="#f6ea26"/>
<rect x="1361.6" y="424.97" width="98.7" height="9.90" fill="#1cb6b2"/>
<rect x="1459.7" y="424.97" width="97.9" height="9.90" fill="#4762be"/>
<rect x="1557.0" y="424.97" width="97.0" height="9.90" fill="#3b86d6"/>
<rect x="1261.0" y="434.27" width="101.2" height="9.90" fill="#4544a6"/>
<rect x="1361.6" y="434.27" width="98.7" height="9.90" fill="#4544a6"/>
<rect x="1459.7" y="434.27" width="97.9" height="9.90" fill="#4544a6"/>
<rect x="1557.0" y="434.27" width="97.0" height="9.90" fill="#443c9f"/>
<rect x="1261.0" y="443.57" width="101.2" height="9.90" fill="#464cad"/>
<rect x="1361.6" y="443.57" width="98.7" height="9.90" fill="#485bb9"/>
<rect x="1459.7" y="443.57" width="97.9" height="9.90" fill="#485bb9"/>
<rect x="1557.0" y="443.57" width="97.0" height="9.90" fill="#443c9f"/>
<rect x="1261.0" y="452.88" width="101.2" height="9.90" fill="#4544a6"/>
<rect x="1361.6" y="452.88" width="98.7" height="9.90" fill="#4544a6"/>
<rect x="1459.7" y="452.88" width="97.9" height="9.90" fill="#4544a6"/>
<rect x="1557.0" y="452.88" width="97.0" height="9.90" fill="#443c9f"/>
<rect x="1261.0" y="462.18" width="101.2" height="9.90" fill="#485bb9"/>
<rect x="1361.6" y="462.18" width="98.7" height="9.90" fill="#464cad"/>
<rect x="1459.7" y="462.18" width="97.9" height="9.90" fill="#4854b4"/>
<rect x="1557.0" y="462.18" width="97.0" height="9.90" fill="#4544a6"/>
<rect x="1261.0" y="471.48" width="101.2" height="9.90" fill="#443c9f"/>
<rect x="1361.6" y="471.48" width="98.7" height="9.90" fill="#443c9f"/>
<rect x="1459.7" y="471.48" width="97.9" height="9.90" fill="#443c9f"/>
<rect x="1557.0" y="471.48" width="97.0" height="9.90" fill="#443c9f"/>
<rect x="1261.0" y="480.78" width="101.2" height="9.90" fill="#4762be"/>
<rect x="1361.6" y="480.78" width="98.7" height="9.90" fill="#3f7fd1"/>
<rect x="1459.7" y="480.78" width="97.9" height="9.90" fill="#485bb9"/>
<rect x="1557.0" y="480.78" width="97.0" height="9.90" fill="#464cad"/>
<rect x="1261.0" y="490.09" width="101.2" height="9.90" fill="#485bb9"/>
<rect x="1361.6" y="490.09" width="98.7" height="9.90" fill="#4669c3"/>
<rect x="1459.7" y="490.09" width="97.9" height="9.90" fill="#4762be"/>
<rect x="1557.0" y="490.09" width="97.0" height="9.90" fill="#4544a6"/>
<rect x="1261.0" y="499.39" width="101.2" height="9.90" fill="#4669c3"/>
<rect x="1361.6" y="499.39" width="98.7" height="9.90" fill="#4278cc"/>
<rect x="1459.7" y="499.39" width="97.9" height="9.90" fill="#4854b4"/>
<rect x="1557.0" y="499.39" width="97.0" height="9.90" fill="#4544a6"/>
<rect x="1261.0" y="508.69" width="101.2" height="9.90" fill="#485bb9"/>
<rect x="1361.6" y="508.69" width="98.7" height="9.90" fill="#4669c3"/>
<rect x="1459.7" y="508.69" width="97.9" height="9.90" fill="#485bb9"/>
<rect x="1557.0" y="508.69" width="97.0" height="9.90" fill="#464cad"/>
<rect x="1261.0" y="517.99" width="101.2" height="9.90" fill="#4669c3"/>
<rect x="1361.6" y="517.99" width="98.7" height="9.90" fill="#22accd"/>
<rect x="1459.7" y="517.99" width="97.9" height="9.90" fill="#4854b4"/>
<rect x="1557.0" y="517.99" width="97.0" height="9.90" fill="#464cad"/>
<rect x="1261.0" y="527.30" width="101.2" height="9.90" fill="#4544a6"/>
<rect x="1361.6" y="527.30" width="98.7" height="9.90" fill="#f6ea26"/>
<rect x="1459.7" y="527.30" width="97.9" height="9.90" fill="#443c9f"/>
<rect x="1557.0" y="527.30" width="97.0" height="9.90" fill="#443c9f"/>
<rect x="1261.0" y="192.4" width="392.4" height="344.2" fill="none" stroke="#222" stroke-opacity="0.55" stroke-width="1.4"/>
<rect x="1261.0" y="233.6" width="4" height="1.4" fill="#222" fill-opacity="0.7"/>
<rect x="1649.4" y="233.6" width="4" height="1.4" fill="#222" fill-opacity="0.7"/>
<text x="0" y="0" font-size="28.5" text-anchor="middle" fill="#262626" transform="translate(1231.8,237.5) rotate(0.0) scale(1.090,1)">5</text>
<rect x="1261.0" y="280.1" width="4" height="1.4" fill="#222" fill-opacity="0.7"/>
<rect x="1649.4" y="280.1" width="4" height="1.4" fill="#222" fill-opacity="0.7"/>
<text x="0" y="0" font-size="28.5" text-anchor="middle" fill="#262626" transform="translate(1234.3,283.5) rotate(0.0) scale(1.090,1)">10</text>
<rect x="1261.0" y="326.6" width="4" height="1.4" fill="#222" fill-opacity="0.7"/>
<rect x="1649.4" y="326.6" width="4" height="1.4" fill="#222" fill-opacity="0.7"/>
<text x="0" y="0" font-size="28.5" text-anchor="middle" fill="#262626" transform="translate(1234.3,330.0) rotate(0.0) scale(1.090,1)">15</text>
<rect x="1261.0" y="373.1" width="4" height="1.4" fill="#222" fill-opacity="0.7"/>
<rect x="1649.4" y="373.1" width="4" height="1.4" fill="#222" fill-opacity="0.7"/>
<text x="0" y="0" font-size="28.5" text-anchor="middle" fill="#262626" transform="translate(1234.3,376.6) rotate(0.0) scale(1.090,1)">20</text>
<rect x="1261.0" y="419.6" width="4" height="1.4" fill="#222" fill-opacity="0.7"/>
<rect x="1649.4" y="419.6" width="4" height="1.4" fill="#222" fill-opacity="0.7"/>
<text x="0" y="0" font-size="28.5" text-anchor="middle" fill="#262626" transform="translate(1234.3,423.0) rotate(0.0) scale(1.090,1)">25</text>
<rect x="1261.0" y="466.1" width="4" height="1.4" fill="#222" fill-opacity="0.7"/>
<rect x="1649.4" y="466.1" width="4" height="1.4" fill="#222" fill-opacity="0.7"/>
<text x="0" y="0" font-size="28.5" text-anchor="middle" fill="#262626" transform="translate(1234.3,469.0) rotate(0.0) scale(1.090,1)">30</text>
<rect x="1261.0" y="512.6" width="4" height="1.4" fill="#222" fill-opacity="0.7"/>
<rect x="1649.4" y="512.6" width="4" height="1.4" fill="#222" fill-opacity="0.7"/>
<text x="0" y="0" font-size="28.5" text-anchor="middle" fill="#262626" transform="translate(1234.3,515.3) rotate(0.0) scale(1.090,1)">35</text>
<text x="0" y="0" font-size="30.3" text-anchor="middle" fill="#262626" transform="translate(1205.0,374.0) rotate(-90.0) scale(1.000,1)" textLength="117.0" lengthAdjust="spacingAndGlyphs">Neuron #</text>
<text x="1224.0" y="180.3" font-size="28.0" text-anchor="start" font-weight="bold" fill="#000">A</text>
<text x="1225.0" y="576.9" font-size="28.0" text-anchor="start" font-weight="bold" fill="#000">P</text>
<rect x="1671.7" y="192.3" width="21.8" height="344.9" fill="url(#gB)"/>
<rect x="1672.5" y="193.1" width="20.2" height="343.3" fill="none" stroke="#222" stroke-opacity="0.75" stroke-width="1.6"/>
<rect x="1688.5" y="226.1" width="4" height="1.4" fill="#222" fill-opacity="0.8"/>
<rect x="1688.5" y="260.6" width="4" height="1.4" fill="#222" fill-opacity="0.8"/>
<rect x="1688.5" y="295.1" width="4" height="1.4" fill="#222" fill-opacity="0.8"/>
<rect x="1688.5" y="329.6" width="4" height="1.4" fill="#222" fill-opacity="0.8"/>
<rect x="1688.5" y="364.1" width="4" height="1.4" fill="#222" fill-opacity="0.8"/>
<rect x="1688.5" y="398.5" width="4" height="1.4" fill="#222" fill-opacity="0.8"/>
<rect x="1688.5" y="433.0" width="4" height="1.4" fill="#222" fill-opacity="0.8"/>
<rect x="1688.5" y="467.5" width="4" height="1.4" fill="#222" fill-opacity="0.8"/>
<rect x="1688.5" y="502.0" width="4" height="1.4" fill="#222" fill-opacity="0.8"/>
<text x="0" y="0" font-size="27.5" text-anchor="start" fill="#262626" transform="translate(1701.0,207.1) rotate(0.0) scale(1.080,1)">2</text>
<text x="0" y="0" font-size="27.5" text-anchor="start" fill="#262626" transform="translate(1701.0,366.5) rotate(0.0) scale(1.080,1)">1</text>
<text x="0" y="0" font-size="27.5" text-anchor="start" fill="#262626" transform="translate(1701.0,539.4) rotate(0.0) scale(1.080,1)">0</text>
<text x="0" y="0" font-size="30.0" text-anchor="middle" fill="#111" transform="translate(1786.5,357.0) rotate(90.0) scale(1.000,1)" textLength="237.0" lengthAdjust="spacingAndGlyphs">Integrated calcium</text>
<text x="0" y="0" font-size="29.0" text-anchor="middle" fill="#111" transform="translate(1750.3,357.0) rotate(90.0) scale(1.000,1)">activity</text>
<rect x="1263.8" y="661.90" width="98.4" height="11.71" fill="#464cad"/>
<rect x="1361.6" y="661.90" width="97.5" height="11.71" fill="#443c9f"/>
<rect x="1458.5" y="661.90" width="99.1" height="11.71" fill="#4854b4"/>
<rect x="1557.0" y="661.90" width="99.6" height="11.71" fill="#4544a6"/>
<rect x="1263.8" y="673.01" width="98.4" height="11.71" fill="#443c9f"/>
<rect x="1361.6" y="673.01" width="97.5" height="11.71" fill="#464cad"/>
<rect x="1458.5" y="673.01" width="99.1" height="11.71" fill="#4544a6"/>
<rect x="1557.0" y="673.01" width="99.6" height="11.71" fill="#443c9f"/>
<rect x="1263.8" y="684.13" width="98.4" height="11.71" fill="#485bb9"/>
<rect x="1361.6" y="684.13" width="97.5" height="11.71" fill="#4854b4"/>
<rect x="1458.5" y="684.13" width="99.1" height="11.71" fill="#464cad"/>
<rect x="1557.0" y="684.13" width="99.6" height="11.71" fill="#443c9f"/>
<rect x="1263.8" y="695.24" width="98.4" height="11.71" fill="#4544a6"/>
<rect x="1361.6" y="695.24" width="97.5" height="11.71" fill="#4857b6"/>
<rect x="1458.5" y="695.24" width="99.1" height="11.71" fill="#443c9f"/>
<rect x="1557.0" y="695.24" width="99.6" height="11.71" fill="#443c9f"/>
<rect x="1263.8" y="706.35" width="98.4" height="11.71" fill="#443c9f"/>
<rect x="1361.6" y="706.35" width="97.5" height="11.71" fill="#4544a6"/>
<rect x="1458.5" y="706.35" width="99.1" height="11.71" fill="#443c9f"/>
<rect x="1557.0" y="706.35" width="99.6" height="11.71" fill="#443c9f"/>
<rect x="1263.8" y="717.46" width="98.4" height="11.71" fill="#3b86d6"/>
<rect x="1361.6" y="717.46" width="97.5" height="11.71" fill="#4669c3"/>
<rect x="1458.5" y="717.46" width="99.1" height="11.71" fill="#3f7fd1"/>
<rect x="1557.0" y="717.46" width="99.6" height="11.71" fill="#4854b4"/>
<rect x="1263.8" y="728.58" width="98.4" height="11.71" fill="#485bb9"/>
<rect x="1361.6" y="728.58" width="97.5" height="11.71" fill="#4854b4"/>
<rect x="1458.5" y="728.58" width="99.1" height="11.71" fill="#1eb2bb"/>
<rect x="1557.0" y="728.58" width="99.6" height="11.71" fill="#4854b4"/>
<rect x="1263.8" y="739.69" width="98.4" height="11.71" fill="#443c9f"/>
<rect x="1361.6" y="739.69" width="97.5" height="11.71" fill="#443c9f"/>
<rect x="1458.5" y="739.69" width="99.1" height="11.71" fill="#4544a6"/>
<rect x="1557.0" y="739.69" width="99.6" height="11.71" fill="#443c9f"/>
<rect x="1263.8" y="750.80" width="98.4" height="11.71" fill="#464cad"/>
<rect x="1361.6" y="750.80" width="97.5" height="11.71" fill="#443c9f"/>
<rect x="1458.5" y="750.80" width="99.1" height="11.71" fill="#464cad"/>
<rect x="1557.0" y="750.80" width="99.6" height="11.71" fill="#443c9f"/>
<rect x="1263.8" y="761.92" width="98.4" height="11.71" fill="#443c9f"/>
<rect x="1361.6" y="761.92" width="97.5" height="11.71" fill="#464cad"/>
<rect x="1458.5" y="761.92" width="99.1" height="11.71" fill="#4544a6"/>
<rect x="1557.0" y="761.92" width="99.6" height="11.71" fill="#443c9f"/>
<rect x="1263.8" y="773.03" width="98.4" height="11.71" fill="#4854b4"/>
<rect x="1361.6" y="773.03" width="97.5" height="11.71" fill="#4762be"/>
<rect x="1458.5" y="773.03" width="99.1" height="11.71" fill="#24a8d6"/>
<rect x="1557.0" y="773.03" width="99.6" height="11.71" fill="#464cad"/>
<rect x="1263.8" y="784.14" width="98.4" height="11.71" fill="#464cad"/>
<rect x="1361.6" y="784.14" width="97.5" height="11.71" fill="#485bb9"/>
<rect x="1458.5" y="784.14" width="99.1" height="11.71" fill="#443c9f"/>
<rect x="1557.0" y="784.14" width="99.6" height="11.71" fill="#464cad"/>
<rect x="1263.8" y="795.25" width="98.4" height="11.71" fill="#4278cc"/>
<rect x="1361.6" y="795.25" width="97.5" height="11.71" fill="#4669c3"/>
<rect x="1458.5" y="795.25" width="99.1" height="11.71" fill="#4670c8"/>
<rect x="1557.0" y="795.25" width="99.6" height="11.71" fill="#4854b4"/>
<rect x="1263.8" y="806.37" width="98.4" height="11.71" fill="#443c9f"/>
<rect x="1361.6" y="806.37" width="97.5" height="11.71" fill="#4544a6"/>
<rect x="1458.5" y="806.37" width="99.1" height="11.71" fill="#443c9f"/>
<rect x="1557.0" y="806.37" width="99.6" height="11.71" fill="#4854b4"/>
<rect x="1263.8" y="817.48" width="98.4" height="11.71" fill="#4854b4"/>
<rect x="1361.6" y="817.48" width="97.5" height="11.71" fill="#4762be"/>
<rect x="1458.5" y="817.48" width="99.1" height="11.71" fill="#4854b4"/>
<rect x="1557.0" y="817.48" width="99.6" height="11.71" fill="#485bb9"/>
<rect x="1263.8" y="828.59" width="98.4" height="11.71" fill="#485bb9"/>
<rect x="1361.6" y="828.59" width="97.5" height="11.71" fill="#485bb9"/>
<rect x="1458.5" y="828.59" width="99.1" height="11.71" fill="#485bb9"/>
<rect x="1557.0" y="828.59" width="99.6" height="11.71" fill="#4854b4"/>
<rect x="1263.8" y="839.71" width="98.4" height="11.71" fill="#388eda"/>
<rect x="1361.6" y="839.71" width="97.5" height="11.71" fill="#84c464"/>
<rect x="1458.5" y="839.71" width="99.1" height="11.71" fill="#485bb9"/>
<rect x="1557.0" y="839.71" width="99.6" height="11.71" fill="#485bb9"/>
<rect x="1263.8" y="850.82" width="98.4" height="11.71" fill="#f6ea26"/>
<rect x="1361.6" y="850.82" width="97.5" height="11.71" fill="#1eb2bb"/>
<rect x="1458.5" y="850.82" width="99.1" height="11.71" fill="#f6ea26"/>
<rect x="1557.0" y="850.82" width="99.6" height="11.71" fill="#4854b4"/>
<rect x="1263.8" y="861.93" width="98.4" height="11.71" fill="#a9c242"/>
<rect x="1361.6" y="861.93" width="97.5" height="11.71" fill="#1eb2bb"/>
<rect x="1458.5" y="861.93" width="99.1" height="11.71" fill="#1eb2bb"/>
<rect x="1557.0" y="861.93" width="99.6" height="11.71" fill="#464cad"/>
<rect x="1263.8" y="873.05" width="98.4" height="11.71" fill="#f6ea26"/>
<rect x="1361.6" y="873.05" width="97.5" height="11.71" fill="#f6ea26"/>
<rect x="1458.5" y="873.05" width="99.1" height="11.71" fill="#3cbb9f"/>
<rect x="1557.0" y="873.05" width="99.6" height="11.71" fill="#443c9f"/>
<rect x="1263.8" y="884.16" width="98.4" height="11.71" fill="#f6ea26"/>
<rect x="1361.6" y="884.16" width="97.5" height="11.71" fill="#84c464"/>
<rect x="1458.5" y="884.16" width="99.1" height="11.71" fill="#f6ea26"/>
<rect x="1557.0" y="884.16" width="99.6" height="11.71" fill="#4854b4"/>
<rect x="1263.8" y="895.27" width="98.4" height="11.71" fill="#4544a6"/>
<rect x="1361.6" y="895.27" width="97.5" height="11.71" fill="#20afc4"/>
<rect x="1458.5" y="895.27" width="99.1" height="11.71" fill="#443c9f"/>
<rect x="1557.0" y="895.27" width="99.6" height="11.71" fill="#443c9f"/>
<rect x="1263.8" y="906.38" width="98.4" height="11.71" fill="#d7bb30"/>
<rect x="1361.6" y="906.38" width="97.5" height="11.71" fill="#4cbe96"/>
<rect x="1458.5" y="906.38" width="99.1" height="11.71" fill="#70c278"/>
<rect x="1557.0" y="906.38" width="99.6" height="11.71" fill="#443c9f"/>
<rect x="1263.8" y="917.50" width="98.4" height="11.71" fill="#f8bd38"/>
<rect x="1361.6" y="917.50" width="97.5" height="11.71" fill="#f9d62f"/>
<rect x="1458.5" y="917.50" width="99.1" height="11.71" fill="#29a2d7"/>
<rect x="1557.0" y="917.50" width="99.6" height="11.71" fill="#443c9f"/>
<rect x="1263.8" y="928.61" width="98.4" height="11.71" fill="#4544a6"/>
<rect x="1361.6" y="928.61" width="97.5" height="11.71" fill="#4854b4"/>
<rect x="1458.5" y="928.61" width="99.1" height="11.71" fill="#443c9f"/>
<rect x="1557.0" y="928.61" width="99.6" height="11.71" fill="#443c9f"/>
<rect x="1263.8" y="939.72" width="98.4" height="11.71" fill="#4670c8"/>
<rect x="1361.6" y="939.72" width="97.5" height="11.71" fill="#3b86d6"/>
<rect x="1458.5" y="939.72" width="99.1" height="11.71" fill="#4670c8"/>
<rect x="1557.0" y="939.72" width="99.6" height="11.71" fill="#443c9f"/>
<rect x="1263.8" y="950.84" width="98.4" height="11.71" fill="#485bb9"/>
<rect x="1361.6" y="950.84" width="97.5" height="11.71" fill="#4762be"/>
<rect x="1458.5" y="950.84" width="99.1" height="11.71" fill="#4854b4"/>
<rect x="1557.0" y="950.84" width="99.6" height="11.71" fill="#443c9f"/>
<rect x="1263.8" y="961.95" width="98.4" height="11.71" fill="#464cad"/>
<rect x="1361.6" y="961.95" width="97.5" height="11.71" fill="#4544a6"/>
<rect x="1458.5" y="961.95" width="99.1" height="11.71" fill="#443c9f"/>
<rect x="1557.0" y="961.95" width="99.6" height="11.71" fill="#443c9f"/>
<rect x="1263.8" y="973.06" width="98.4" height="11.71" fill="#22accd"/>
<rect x="1361.6" y="973.06" width="97.5" height="11.71" fill="#20afc4"/>
<rect x="1458.5" y="973.06" width="99.1" height="11.71" fill="#4762be"/>
<rect x="1557.0" y="973.06" width="99.6" height="11.71" fill="#443c9f"/>
<rect x="1263.8" y="984.17" width="98.4" height="11.71" fill="#4762be"/>
<rect x="1361.6" y="984.17" width="97.5" height="11.71" fill="#3b86d6"/>
<rect x="1458.5" y="984.17" width="99.1" height="11.71" fill="#443c9f"/>
<rect x="1557.0" y="984.17" width="99.6" height="11.71" fill="#443c9f"/>
<rect x="1263.8" y="995.29" width="98.4" height="11.71" fill="#388eda"/>
<rect x="1361.6" y="995.29" width="97.5" height="11.71" fill="#3cbb9f"/>
<rect x="1458.5" y="995.29" width="99.1" height="11.71" fill="#4669c3"/>
<rect x="1557.0" y="995.29" width="99.6" height="11.71" fill="#443c9f"/>
<rect x="1263.8" y="661.9" width="392.2" height="344.5" fill="none" stroke="#222" stroke-opacity="0.55" stroke-width="1.4"/>
<rect x="1263.8" y="711.2" width="4" height="1.4" fill="#222" fill-opacity="0.7"/>
<rect x="1652.0" y="711.2" width="4" height="1.4" fill="#222" fill-opacity="0.7"/>
<text x="0" y="0" font-size="28.5" text-anchor="middle" fill="#262626" transform="translate(1234.0,717.3) rotate(0.0) scale(1.090,1)">5</text>
<rect x="1263.8" y="766.8" width="4" height="1.4" fill="#222" fill-opacity="0.7"/>
<rect x="1652.0" y="766.8" width="4" height="1.4" fill="#222" fill-opacity="0.7"/>
<text x="0" y="0" font-size="28.5" text-anchor="middle" fill="#262626" transform="translate(1236.5,774.0) rotate(0.0) scale(1.090,1)">10</text>
<rect x="1263.8" y="822.3" width="4" height="1.4" fill="#222" fill-opacity="0.7"/>
<rect x="1652.0" y="822.3" width="4" height="1.4" fill="#222" fill-opacity="0.7"/>
<text x="0" y="0" font-size="28.5" text-anchor="middle" fill="#262626" transform="translate(1236.5,829.0) rotate(0.0) scale(1.090,1)">15</text>
<rect x="1263.8" y="877.9" width="4" height="1.4" fill="#222" fill-opacity="0.7"/>
<rect x="1652.0" y="877.9" width="4" height="1.4" fill="#222" fill-opacity="0.7"/>
<text x="0" y="0" font-size="28.5" text-anchor="middle" fill="#262626" transform="translate(1236.5,885.0) rotate(0.0) scale(1.090,1)">20</text>
<rect x="1263.8" y="933.5" width="4" height="1.4" fill="#222" fill-opacity="0.7"/>
<rect x="1652.0" y="933.5" width="4" height="1.4" fill="#222" fill-opacity="0.7"/>
<text x="0" y="0" font-size="28.5" text-anchor="middle" fill="#262626" transform="translate(1236.5,941.0) rotate(0.0) scale(1.090,1)">25</text>
<rect x="1263.8" y="989.0" width="4" height="1.4" fill="#222" fill-opacity="0.7"/>
<rect x="1652.0" y="989.0" width="4" height="1.4" fill="#222" fill-opacity="0.7"/>
<text x="0" y="0" font-size="28.5" text-anchor="middle" fill="#262626" transform="translate(1236.5,995.0) rotate(0.0) scale(1.090,1)">30</text>
<text x="0" y="0" font-size="30.3" text-anchor="middle" fill="#262626" transform="translate(1205.0,843.3) rotate(-90.0) scale(1.000,1)" textLength="117.0" lengthAdjust="spacingAndGlyphs">Neuron #</text>
<text x="1224.0" y="655.2" font-size="28.0" text-anchor="start" font-weight="bold" fill="#000">A</text>
<text x="1227.4" y="1045.2" font-size="28.0" text-anchor="start" font-weight="bold" fill="#000">P</text>
<rect x="1675.2" y="661.9" width="20.3" height="346.6" fill="url(#gB)"/>
<rect x="1676.0" y="662.7" width="18.7" height="345.0" fill="none" stroke="#222" stroke-opacity="0.75" stroke-width="1.6"/>
<rect x="1690.5" y="695.9" width="4" height="1.4" fill="#222" fill-opacity="0.8"/>
<rect x="1690.5" y="730.5" width="4" height="1.4" fill="#222" fill-opacity="0.8"/>
<rect x="1690.5" y="765.2" width="4" height="1.4" fill="#222" fill-opacity="0.8"/>
<rect x="1690.5" y="799.8" width="4" height="1.4" fill="#222" fill-opacity="0.8"/>
<rect x="1690.5" y="834.5" width="4" height="1.4" fill="#222" fill-opacity="0.8"/>
<rect x="1690.5" y="869.2" width="4" height="1.4" fill="#222" fill-opacity="0.8"/>
<rect x="1690.5" y="903.8" width="4" height="1.4" fill="#222" fill-opacity="0.8"/>
<rect x="1690.5" y="938.5" width="4" height="1.4" fill="#222" fill-opacity="0.8"/>
<rect x="1690.5" y="973.1" width="4" height="1.4" fill="#222" fill-opacity="0.8"/>
<text x="0" y="0" font-size="27.5" text-anchor="start" fill="#262626" transform="translate(1703.5,667.2) rotate(0.0) scale(1.080,1)">2</text>
<text x="0" y="0" font-size="27.5" text-anchor="start" fill="#262626" transform="translate(1703.5,838.5) rotate(0.0) scale(1.080,1)">1</text>
<text x="0" y="0" font-size="27.5" text-anchor="start" fill="#262626" transform="translate(1703.5,1011.3) rotate(0.0) scale(1.080,1)">0</text>
<text x="0" y="0" font-size="30.0" text-anchor="middle" fill="#111" transform="translate(1786.5,828.0) rotate(90.0) scale(1.000,1)" textLength="237.0" lengthAdjust="spacingAndGlyphs">Integrated calcium</text>
<text x="0" y="0" font-size="29.0" text-anchor="middle" fill="#111" transform="translate(1750.3,828.0) rotate(90.0) scale(1.000,1)">activity</text>
<text x="0" y="0" font-size="27.0" text-anchor="start" fill="#262626" transform="translate(1280.3,152.3) rotate(-33.0) scale(1.080,1)">Shock</text>
<text x="0" y="0" font-size="27.0" text-anchor="start" fill="#262626" transform="translate(1377.6,152.3) rotate(-33.0) scale(1.080,1)">Mustard Oil</text>
<text x="0" y="0" font-size="27.0" text-anchor="start" fill="#262626" transform="translate(1498.5,147.2) rotate(-33.0) scale(1.080,1)">Heat</text>
<text x="0" y="0" font-size="27.0" text-anchor="start" fill="#262626" transform="translate(1592.5,158.4) rotate(-33.0) scale(1.080,1)">Taps</text>
<text x="1.0" y="1139.5" font-size="60.0" text-anchor="start" fill="#111" stroke="#fff" stroke-width="0.6">c</text>
<text x="80.2" y="1191.5" font-size="30.0" text-anchor="start" fill="#111" textLength="60.3" lengthAdjust="spacingAndGlyphs">Taps</text>
<text x="80.2" y="1510.0" font-size="30.0" text-anchor="start" fill="#111" textLength="191.6" lengthAdjust="spacingAndGlyphs">Shock (6V/cm)</text>
<text x="1018.0" y="1195.0" font-size="30.0" text-anchor="start" fill="#111" textLength="170.0" lengthAdjust="spacingAndGlyphs">Heat (~37°C)</text>
<text x="1019.6" y="1510.0" font-size="30.0" text-anchor="start" fill="#111" textLength="252.8" lengthAdjust="spacingAndGlyphs">Mustard oil (25 µM)</text>
<rect x="1087" y="1234" width="677.3" height="242.6" fill="#fce8e8"/>
<rect x="1187.3" y="1544.3" width="583" height="242.7" fill="#fce8e8"/>
<g filter="url(#blt)">
<rect x="98.0" y="1348.20" width="727.7" height="3.60" fill="#4a4a4a"/>
<path d="M98.0 1348.0V1352.3M99.0 1348.0V1352.1M100.0 1347.4V1352.0M101.0 1347.2V1352.2M102.0 1347.3V1352.0M103.0 1347.8V1352.0M104.0 1346.7V1352.6M105.0 1347.7V1352.2M106.0 1346.7V1353.4M107.0 1347.4V1352.2M108.0 1347.9V1351.8M109.0 1347.7V1352.4M110.0 1347.9V1352.2M111.0 1347.6V1353.3M112.0 1347.7V1352.9M113.0 1347.6V1352.5M114.0 1347.9V1351.9M115.0 1347.6V1352.0M116.0 1347.8V1352.7M117.0 1347.7V1352.9M118.0 1347.5V1352.0M119.0 1347.8V1353.1M120.0 1348.2V1353.0M121.0 1346.4V1352.1M122.0 1348.1V1352.5M123.0 1347.8V1351.9M124.0 1346.9V1352.5M125.0 1347.6V1352.7M126.0 1346.9V1352.1M127.0 1348.1V1353.0M128.0 1347.6V1352.4M129.0 1347.8V1352.9M130.0 1347.3V1352.3M131.0 1347.0V1353.6M132.0 1346.9V1352.0M133.0 1346.9V1352.3M134.0 1346.5V1354.1M135.0 1347.9V1352.5M136.0 1347.2V1352.7M137.0 1347.2V1351.9M138.0 1348.0V1352.2M139.0 1346.8V1352.4M140.0 1347.7V1352.3M141.0 1346.8V1353.0M142.0 1347.3V1352.3M143.0 1346.4V1352.4M144.0 1347.4V1353.4M145.0 1348.0V1352.7M146.0 1347.0V1353.2M147.0 1347.7V1351.9M148.0 1347.9V1352.4M149.0 1348.1V1352.8M150.0 1347.6V1352.2M151.0 1347.3V1351.8M152.0 1347.4V1352.7M153.0 1346.9V1352.2M154.0 1347.0V1351.9M155.0 1348.1V1352.1M156.0 1346.9V1352.7M157.0 1347.1V1352.9M158.0 1347.5V1352.4M159.0 1347.2V1352.6M160.0 1347.9V1351.9M161.0 1348.1V1352.3M162.0 1348.0V1352.0M163.0 1347.7V1351.8M164.0 1347.5V1352.3M165.0 1346.4V1352.1M166.0 1347.8V1352.1M167.0 1348.2V1352.6M168.0 1347.9V1352.1M169.0 1346.5V1354.1M170.0 1347.2V1352.0M171.0 1347.8V1352.0M172.0 1347.8V1352.4M173.0 1347.9V1352.3M174.0 1346.0V1352.1M175.0 1347.7V1351.9M176.0 1348.0V1351.9M177.0 1345.7V1352.2M178.0 1347.3V1352.9M179.0 1348.1V1352.7M180.0 1347.4V1353.1M181.0 1346.7V1352.1M182.0 1347.9V1352.4M183.0 1347.2V1354.2M184.0 1347.2V1353.1M185.0 1347.6V1353.1M186.0 1348.0V1352.9M187.0 1348.1V1352.0M188.0 1347.5V1351.9M189.0 1348.1V1353.2M190.0 1347.3V1352.1M191.0 1345.7V1352.8M192.0 1347.4V1352.0M193.0 1348.1V1352.4M194.0 1348.0V1352.4M195.0 1346.8V1353.2M196.0 1347.6V1352.7M197.0 1347.3V1353.1M198.0 1347.1V1352.5M199.0 1346.9V1352.6M200.0 1348.2V1352.8M201.0 1347.5V1353.2M202.0 1347.4V1353.2M203.0 1347.3V1352.0M204.0 1346.4V1353.1M205.0 1348.1V1352.3M206.0 1347.8V1352.2M207.0 1346.9V1352.7M208.0 1347.2V1353.1M209.0 1346.9V1352.0M210.0 1347.5V1352.7M211.0 1348.1V1351.9M212.0 1346.9V1352.0M213.0 1346.1V1352.1M214.0 1346.5V1352.5M215.0 1347.9V1352.4M216.0 1348.2V1352.5M217.0 1348.1V1353.0M218.0 1348.1V1352.7M219.0 1346.9V1353.2M220.0 1347.6V1352.6M221.0 1346.5V1352.8M222.0 1346.4V1352.8M223.0 1347.1V1351.8M224.0 1348.0V1351.8M225.0 1347.7V1352.0M226.0 1346.6V1351.8M227.0 1347.7V1352.7M228.0 1348.0V1352.9M229.0 1347.7V1352.8M230.0 1346.7V1352.3M231.0 1347.3V1352.5M232.0 1348.2V1352.5M233.0 1348.1V1352.9M234.0 1346.8V1352.4M235.0 1347.4V1352.3M236.0 1347.4V1352.5M237.0 1346.8V1351.9M238.0 1347.1V1352.1M239.0 1346.1V1352.1M240.0 1347.6V1353.5M241.0 1347.5V1352.0M242.0 1346.2V1352.6M243.0 1347.9V1352.2M244.0 1347.5V1352.5M245.0 1347.6V1352.1M246.0 1347.0V1352.4M247.0 1347.8V1353.7M248.0 1347.4V1353.0M249.0 1347.9V1352.2M250.0 1346.5V1353.4M251.0 1347.8V1354.0M252.0 1347.4V1352.4M253.0 1346.5V1351.9M254.0 1347.7V1352.6M255.0 1347.4V1351.9M256.0 1347.9V1352.5M257.0 1348.2V1352.0M258.0 1347.3V1352.1M259.0 1347.4V1351.9M260.0 1347.4V1352.6M261.0 1345.8V1352.8M262.0 1347.6V1354.1M263.0 1347.6V1352.2M264.0 1346.7V1352.2M265.0 1348.1V1352.3M266.0 1346.5V1352.7M267.0 1347.9V1352.4M268.0 1347.0V1353.4M269.0 1346.9V1352.4M270.0 1347.9V1352.0M271.0 1347.8V1352.7M272.0 1346.3V1352.7M273.0 1347.1V1353.0M274.0 1346.7V1352.7M275.0 1346.6V1352.5M276.0 1347.4V1352.0M277.0 1346.3V1352.5M278.0 1348.1V1352.3M279.0 1347.5V1351.9M280.0 1347.8V1352.1M281.0 1347.6V1352.0M282.0 1347.9V1352.5M283.0 1348.2V1352.5M284.0 1347.6V1351.8M285.0 1348.1V1351.9M286.0 1348.2V1352.0M287.0 1348.1V1352.9M288.0 1347.8V1352.7M289.0 1347.8V1352.0M290.0 1347.8V1352.7M291.0 1346.5V1351.9M292.0 1347.4V1352.5M293.0 1347.2V1354.2M294.0 1347.3V1353.2M295.0 1347.9V1353.0M296.0 1347.5V1352.3M297.0 1347.8V1352.0M298.0 1346.9V1352.4M299.0 1348.2V1352.3M300.0 1346.7V1352.7M301.0 1347.3V1352.8M302.0 1348.1V1352.5M303.0 1347.9V1352.8M304.0 1347.7V1352.6M305.0 1348.0V1354.1M306.0 1347.1V1352.0M307.0 1348.1V1354.1M308.0 1347.9V1352.6M309.0 1347.3V1351.8M310.0 1347.1V1352.0M311.0 1347.9V1352.8M312.0 1347.5V1351.8M313.0 1347.4V1352.3M314.0 1348.0V1351.8M315.0 1348.0V1352.4M316.0 1347.3V1352.4M317.0 1348.2V1353.1M318.0 1347.8V1353.6M319.0 1347.6V1352.3M320.0 1347.7V1351.8M321.0 1348.0V1353.1M322.0 1346.6V1352.3M323.0 1347.2V1352.6M324.0 1348.0V1353.4M325.0 1347.5V1352.6M326.0 1346.5V1351.8M327.0 1347.6V1353.4M328.0 1346.6V1352.8M329.0 1347.6V1353.1M330.0 1348.2V1352.0M331.0 1347.6V1352.4M332.0 1346.8V1352.8M333.0 1347.0V1352.3M334.0 1347.2V1352.8M335.0 1348.1V1351.8M336.0 1347.8V1353.2M337.0 1347.1V1351.8M338.0 1348.0V1352.1M339.0 1348.1V1352.5M340.0 1347.6V1352.1M341.0 1348.1V1352.4M342.0 1348.0V1354.2M343.0 1347.3V1351.8M344.0 1346.8V1352.0M345.0 1348.1V1353.0M346.0 1348.0V1352.1M347.0 1347.8V1352.4M348.0 1348.2V1352.6M349.0 1348.1V1351.9M350.0 1347.5V1352.1M351.0 1347.5V1353.0M352.0 1347.9V1352.5M353.0 1347.2V1351.9M354.0 1347.8V1351.9M355.0 1347.7V1352.2M356.0 1346.1V1352.1M357.0 1347.2V1351.9M358.0 1347.2V1353.9M359.0 1347.5V1352.0M360.0 1347.7V1353.9M361.0 1347.9V1353.0M362.0 1347.5V1352.7M363.0 1347.7V1351.9M364.0 1347.7V1352.8M365.0 1347.1V1352.7M366.0 1348.0V1353.7M367.0 1348.0V1351.8M368.0 1347.2V1351.8M369.0 1347.5V1352.0M370.0 1347.7V1352.4M371.0 1347.5V1353.4M372.0 1346.7V1351.8M373.0 1348.0V1352.2M374.0 1346.9V1352.4M375.0 1347.6V1352.2M376.0 1347.6V1352.4M377.0 1347.0V1351.8M378.0 1347.6V1352.5M379.0 1348.2V1352.1M380.0 1346.8V1352.8M381.0 1347.7V1353.9M382.0 1348.2V1352.5M383.0 1347.6V1351.8M384.0 1346.6V1353.4M385.0 1347.0V1352.9M386.0 1346.8V1353.3M387.0 1347.1V1352.2M388.0 1348.1V1352.1M389.0 1348.1V1352.8M390.0 1348.2V1353.1M391.0 1348.1V1352.1M392.0 1347.8V1352.0M393.0 1347.4V1351.9M394.0 1347.8V1353.2M395.0 1347.5V1351.9M396.0 1347.8V1352.4M397.0 1347.4V1352.1M398.0 1347.9V1352.3M399.0 1347.7V1353.7M400.0 1347.6V1351.8M401.0 1345.7V1353.5M402.0 1347.7V1352.0M403.0 1348.1V1352.2M404.0 1348.0V1352.1M405.0 1348.2V1352.5M406.0 1346.5V1352.6M407.0 1348.2V1352.7M408.0 1347.3V1352.4M409.0 1347.6V1352.4M410.0 1347.5V1352.1M411.0 1347.7V1351.9M412.0 1346.9V1351.8M413.0 1347.8V1352.3M414.0 1348.1V1352.5M415.0 1347.4V1352.4M416.0 1346.5V1352.3M417.0 1348.1V1351.9M418.0 1346.8V1352.1M419.0 1347.4V1352.4M420.0 1348.2V1351.8M421.0 1346.6V1353.1M422.0 1347.4V1353.4M423.0 1347.5V1351.9M424.0 1347.8V1352.1M425.0 1346.9V1352.0M426.0 1346.9V1352.3M427.0 1347.3V1353.0M428.0 1347.1V1352.1M429.0 1346.7V1352.2M430.0 1348.0V1353.8M431.0 1347.7V1352.4M432.0 1347.7V1352.3M433.0 1347.3V1352.9M434.0 1347.9V1352.0M435.0 1347.0V1352.0M436.0 1347.7V1352.2M437.0 1348.1V1351.9M438.0 1347.9V1352.7M439.0 1346.9V1352.1M440.0 1347.4V1352.5M441.0 1348.1V1352.5M442.0 1346.8V1352.1M443.0 1348.1V1352.0M444.0 1346.9V1351.8M445.0 1347.6V1352.1M446.0 1347.2V1353.6M447.0 1348.2V1352.0M448.0 1347.7V1352.6M449.0 1348.0V1352.3M450.0 1347.8V1353.2M451.0 1347.6V1351.8M452.0 1347.4V1351.9M453.0 1347.9V1352.4M454.0 1347.9V1353.3M455.0 1347.6V1353.9M456.0 1347.6V1351.8M457.0 1348.0V1352.7M458.0 1347.1V1353.7M459.0 1347.7V1352.5M460.0 1347.6V1354.2M461.0 1348.0V1352.0M462.0 1347.4V1352.1M463.0 1346.7V1352.9M464.0 1347.9V1354.9M465.0 1347.5V1352.1M466.0 1347.4V1353.7M467.0 1348.2V1352.0M468.0 1347.8V1352.6M469.0 1347.6V1352.4M470.0 1348.2V1351.9M471.0 1348.0V1352.6M472.0 1347.8V1351.9M473.0 1347.6V1351.9M474.0 1347.2V1353.1M475.0 1347.8V1352.7M476.0 1347.2V1352.1M477.0 1346.8V1353.2M478.0 1347.9V1352.6M479.0 1348.0V1351.9M480.0 1346.8V1352.7M481.0 1348.2V1352.1M482.0 1347.9V1351.9M483.0 1347.6V1352.1M484.0 1348.2V1353.7M485.0 1347.8V1352.4M486.0 1347.0V1352.1M487.0 1348.1V1353.2M488.0 1347.9V1352.5M489.0 1346.7V1351.8M490.0 1347.1V1352.4M491.0 1348.0V1351.9M492.0 1348.1V1352.8M493.0 1346.0V1352.4M494.0 1347.7V1352.2M495.0 1347.3V1352.2M496.0 1347.7V1352.0M497.0 1347.7V1353.2M498.0 1347.5V1353.2M499.0 1347.6V1352.3M500.0 1347.8V1352.6M501.0 1348.1V1352.2M502.0 1347.7V1353.2M503.0 1348.2V1352.1M504.0 1347.1V1352.0M505.0 1347.0V1354.0M506.0 1346.2V1353.6M507.0 1348.2V1352.2M508.0 1347.3V1352.4M509.0 1348.0V1352.7M510.0 1348.1V1352.7M511.0 1347.2V1352.7M512.0 1348.2V1353.5M513.0 1348.0V1352.2M514.0 1347.8V1352.4M515.0 1347.4V1352.2M516.0 1348.2V1352.4M517.0 1348.2V1352.5M518.0 1347.1V1353.3M519.0 1347.5V1352.2M520.0 1346.0V1353.5M521.0 1347.5V1351.8M522.0 1347.7V1353.0M523.0 1347.8V1351.8M524.0 1346.6V1352.1M525.0 1347.1V1353.5M526.0 1347.5V1352.0M527.0 1347.8V1352.2M528.0 1347.0V1352.0M529.0 1347.4V1352.2M530.0 1347.5V1352.5M531.0 1348.1V1353.4M532.0 1347.8V1351.9M533.0 1347.2V1352.5M534.0 1348.0V1352.6M535.0 1347.8V1352.3M536.0 1348.2V1353.0M537.0 1347.8V1352.3M538.0 1347.4V1351.9M539.0 1347.9V1352.3M540.0 1348.0V1352.4M541.0 1347.9V1352.9M542.0 1347.8V1352.0M543.0 1347.3V1352.5M544.0 1347.9V1352.1M545.0 1347.5V1353.0M546.0 1347.6V1352.2M547.0 1347.4V1353.9M548.0 1347.8V1352.9M549.0 1347.6V1352.5M550.0 1346.2V1354.1M551.0 1347.8V1352.3M552.0 1348.1V1352.4M553.0 1346.3V1351.9M554.0 1346.7V1352.6M555.0 1346.7V1352.8M556.0 1347.7V1351.9M557.0 1347.1V1351.9M558.0 1346.9V1353.3M559.0 1347.1V1352.5M560.0 1347.5V1352.6M561.0 1347.8V1352.4M562.0 1346.2V1352.1M563.0 1347.4V1352.5M564.0 1347.4V1354.0M565.0 1348.0V1352.2M566.0 1345.9V1352.7M567.0 1347.9V1351.8M568.0 1347.4V1352.2M569.0 1347.2V1352.5M570.0 1348.0V1352.3M571.0 1348.1V1352.4M572.0 1346.8V1352.8M573.0 1347.9V1352.3M574.0 1348.0V1352.7M575.0 1347.3V1351.9M576.0 1347.7V1352.3M577.0 1347.9V1353.7M578.0 1347.1V1352.1M579.0 1348.2V1352.1M580.0 1348.0V1352.2M581.0 1347.3V1352.5M582.0 1347.7V1352.4M583.0 1347.2V1352.4M584.0 1347.0V1352.4M585.0 1347.3V1352.1M586.0 1347.0V1352.0M587.0 1347.5V1351.8M588.0 1348.1V1353.4M589.0 1347.7V1351.9M590.0 1347.8V1351.9M591.0 1347.5V1352.5M592.0 1347.4V1352.3M593.0 1347.9V1351.8M594.0 1348.0V1352.1M595.0 1348.0V1353.4M596.0 1347.9V1351.8M597.0 1347.3V1351.8M598.0 1347.7V1351.9M599.0 1346.3V1354.1M600.0 1348.0V1353.4M601.0 1347.3V1354.2M602.0 1345.9V1351.9M603.0 1347.7V1352.1M604.0 1347.7V1353.8M605.0 1347.4V1352.1M606.0 1348.2V1352.3M607.0 1347.6V1352.2M608.0 1348.0V1352.3M609.0 1346.2V1351.8M610.0 1348.0V1352.5M611.0 1347.4V1351.8M612.0 1347.6V1351.9M613.0 1347.1V1353.6M614.0 1347.4V1353.5M615.0 1347.4V1353.2M616.0 1347.4V1352.5M617.0 1347.6V1352.4M618.0 1347.4V1352.6M619.0 1346.6V1352.7M620.0 1346.0V1353.5M621.0 1347.6V1352.5M622.0 1348.0V1352.5M623.0 1347.0V1351.9M624.0 1347.2V1353.0M625.0 1347.7V1352.0M626.0 1348.2V1352.1M627.0 1347.9V1352.4M628.0 1346.5V1353.8M629.0 1347.1V1352.5M630.0 1348.2V1351.8M631.0 1347.7V1351.9M632.0 1347.5V1352.4M633.0 1346.3V1352.0M634.0 1347.8V1352.3M635.0 1348.1V1352.0M636.0 1347.4V1351.8M637.0 1347.5V1352.3M638.0 1348.0V1353.0M639.0 1347.7V1352.1M640.0 1347.5V1352.5M641.0 1346.8V1353.4M642.0 1348.2V1352.3M643.0 1347.1V1352.5M644.0 1347.1V1352.9M645.0 1347.6V1352.2M646.0 1346.9V1351.9M647.0 1347.4V1352.1M648.0 1347.6V1352.6M649.0 1346.8V1352.4M650.0 1348.2V1353.7M651.0 1347.1V1352.1M652.0 1347.6V1352.2M653.0 1346.7V1352.4M654.0 1347.1V1351.9M655.0 1347.7V1352.0M656.0 1347.8V1353.0M657.0 1346.9V1351.9M658.0 1348.0V1352.3M659.0 1347.9V1352.5M660.0 1346.4V1352.4M661.0 1347.9V1353.2M662.0 1346.5V1351.9M663.0 1348.2V1352.8M664.0 1348.1V1352.8M665.0 1348.1V1352.2M666.0 1348.2V1352.1M667.0 1347.4V1353.1M668.0 1347.6V1353.4M669.0 1348.0V1352.5M670.0 1347.3V1352.1M671.0 1347.9V1352.9M672.0 1348.1V1353.1M673.0 1347.6V1351.9M674.0 1348.1V1351.9M675.0 1348.2V1352.5M676.0 1348.1V1354.0M677.0 1348.2V1352.6M678.0 1347.6V1352.3M679.0 1348.1V1353.8M680.0 1347.3V1352.8M681.0 1346.9V1354.0M682.0 1346.5V1352.1M683.0 1347.6V1353.5M684.0 1346.9V1352.4M685.0 1347.5V1352.1M686.0 1347.9V1353.0M687.0 1346.5V1352.7M688.0 1348.1V1352.0M689.0 1346.6V1353.1M690.0 1347.9V1352.2M691.0 1347.9V1351.8M692.0 1347.7V1353.0M693.0 1347.7V1353.2M694.0 1347.1V1352.3M695.0 1347.1V1353.1M696.0 1347.4V1353.5M697.0 1346.5V1352.5M698.0 1346.3V1352.9M699.0 1347.7V1352.2M700.0 1348.0V1352.0M701.0 1347.3V1353.1M702.0 1347.1V1353.1M703.0 1347.7V1352.3M704.0 1347.9V1352.0M705.0 1348.2V1352.4M706.0 1347.8V1352.7M707.0 1347.5V1351.9M708.0 1347.9V1353.2M709.0 1347.7V1352.4M710.0 1347.2V1352.0M711.0 1347.5V1352.8M712.0 1347.3V1352.0M713.0 1346.8V1352.4M714.0 1347.4V1353.0M715.0 1347.6V1351.9M716.0 1347.9V1352.1M717.0 1348.0V1352.3M718.0 1347.6V1351.8M719.0 1348.0V1354.3M720.0 1347.2V1351.8M721.0 1346.6V1351.9M722.0 1347.8V1352.8M723.0 1347.2V1353.2M724.0 1348.1V1354.0M725.0 1348.1V1352.4M726.0 1347.9V1352.8M727.0 1347.2V1352.6M728.0 1346.8V1352.6M729.0 1347.7V1353.3M730.0 1347.6V1352.4M731.0 1347.5V1352.3M732.0 1347.9V1352.0M733.0 1348.0V1351.9M734.0 1348.0V1352.5M735.0 1347.3V1352.4M736.0 1346.8V1353.1M737.0 1348.1V1352.8M738.0 1346.7V1352.1M739.0 1348.2V1353.1M740.0 1347.7V1352.5M741.0 1347.2V1353.2M742.0 1347.4V1353.1M743.0 1347.7V1352.6M744.0 1348.0V1353.0M745.0 1347.5V1352.5M746.0 1347.7V1352.2M747.0 1347.9V1352.5M748.0 1347.7V1353.5M749.0 1347.9V1352.2M750.0 1348.2V1352.6M751.0 1347.7V1351.9M752.0 1347.9V1352.3M753.0 1346.8V1352.0M754.0 1346.4V1353.2M755.0 1347.5V1352.3M756.0 1346.6V1352.0M757.0 1348.1V1352.8M758.0 1347.8V1353.0M759.0 1347.7V1352.2M760.0 1348.0V1352.0M761.0 1346.9V1352.7M762.0 1347.8V1352.8M763.0 1347.5V1352.5M764.0 1347.4V1352.8M765.0 1347.0V1352.6M766.0 1347.4V1352.3M767.0 1346.9V1352.5M768.0 1347.6V1352.1M769.0 1347.9V1353.6M770.0 1348.0V1353.2M771.0 1347.4V1352.9M772.0 1347.6V1352.6M773.0 1347.7V1353.0M774.0 1347.4V1352.3M775.0 1347.9V1353.2M776.0 1347.7V1352.3M777.0 1347.3V1352.3M778.0 1347.5V1352.4M779.0 1347.3V1353.7M780.0 1347.7V1353.0M781.0 1348.0V1352.7M782.0 1345.8V1352.0M783.0 1347.1V1352.1M784.0 1347.4V1353.1M785.0 1347.2V1352.2M786.0 1347.3V1352.5M787.0 1346.8V1352.2M788.0 1346.9V1351.9M789.0 1347.7V1352.8M790.0 1346.3V1353.0M791.0 1347.9V1353.1M792.0 1347.0V1352.8M793.0 1346.3V1353.6M794.0 1348.0V1352.0M795.0 1348.1V1352.7M796.0 1347.3V1351.9M797.0 1347.0V1352.5M798.0 1347.8V1352.4M799.0 1348.0V1353.3M800.0 1347.2V1352.2M801.0 1347.9V1353.4M802.0 1347.7V1352.2M803.0 1347.1V1352.9M804.0 1347.7V1353.0M805.0 1347.1V1352.0M806.0 1347.9V1354.1M807.0 1347.4V1352.8M808.0 1347.5V1353.3M809.0 1347.5V1351.9M810.0 1347.8V1351.9M811.0 1347.8V1352.5M812.0 1347.8V1352.4M813.0 1347.7V1352.3M814.0 1347.7V1352.1M815.0 1346.8V1351.8M816.0 1348.1V1352.5M817.0 1347.9V1352.8M818.0 1347.0V1352.4M819.0 1347.7V1352.5M820.0 1346.6V1352.6M821.0 1346.6V1352.4M822.0 1346.9V1352.7M823.0 1347.1V1353.1M824.0 1348.1V1351.9M825.0 1346.0V1352.0" stroke="#4a4a4a" stroke-width="1" fill="none"/>
<rect x="281.10" y="1350.0" width="1.8" height="55.0" fill="#4a4a4a"/>
<rect x="462.10" y="1333.6" width="1.8" height="54.4" fill="#4a4a4a"/>
<rect x="619.60" y="1316.0" width="1.8" height="51.5" fill="#4a4a4a"/>
<rect x="643.30" y="1350.0" width="1.8" height="38.0" fill="#4a4a4a"/>
</g>
<circle cx="282.0" cy="1297.6" r="7.6" fill="#e31b23"/>
<circle cx="463.1" cy="1296.0" r="7.6" fill="#e31b23"/>
<circle cx="643.4" cy="1296.0" r="7.6" fill="#e31b23"/>
<g filter="url(#blt)">
<rect x="98.0" y="1652.00" width="728.0" height="8.00" fill="#4a4a4a"/>
<path d="M98.0 1651.6V1660.6M99.0 1651.6V1660.3M100.0 1651.8V1661.5M101.0 1651.7V1660.4M102.0 1650.7V1660.9M103.0 1651.1V1661.6M104.0 1650.8V1661.0M105.0 1651.1V1661.7M106.0 1651.6V1661.7M107.0 1651.6V1661.3M108.0 1650.5V1660.3M109.0 1650.3V1660.7M110.0 1651.3V1660.2M111.0 1652.0V1660.5M112.0 1651.7V1660.0M113.0 1651.5V1660.1M114.0 1650.9V1660.1M115.0 1650.3V1660.4M116.0 1650.3V1660.1M117.0 1650.9V1660.2M118.0 1651.1V1661.5M119.0 1651.3V1660.7M120.0 1651.7V1660.1M121.0 1651.2V1661.0M122.0 1650.8V1660.2M123.0 1651.1V1661.9M124.0 1650.8V1662.2M125.0 1651.0V1660.1M126.0 1651.8V1660.1M127.0 1651.7V1661.2M128.0 1651.1V1661.5M129.0 1651.3V1660.8M130.0 1650.5V1660.2M131.0 1651.8V1660.9M132.0 1651.0V1660.5M133.0 1651.7V1660.7M134.0 1651.6V1660.8M135.0 1651.3V1660.0M136.0 1649.6V1660.1M137.0 1651.1V1661.3M138.0 1651.6V1660.7M139.0 1651.6V1661.1M140.0 1651.0V1661.2M141.0 1650.6V1660.4M142.0 1651.1V1660.7M143.0 1651.3V1660.2M144.0 1651.4V1660.0M145.0 1650.9V1660.6M146.0 1651.1V1661.3M147.0 1651.0V1660.7M148.0 1651.1V1660.8M149.0 1651.6V1661.1M150.0 1651.7V1660.6M151.0 1651.5V1660.9M152.0 1652.0V1660.4M153.0 1651.9V1660.2M154.0 1651.7V1662.0M155.0 1651.5V1660.7M156.0 1651.3V1661.4M157.0 1651.4V1660.3M158.0 1651.7V1660.9M159.0 1651.6V1660.9M160.0 1650.7V1661.6M161.0 1650.9V1660.4M162.0 1651.6V1660.1M163.0 1651.6V1661.1M164.0 1651.1V1660.5M165.0 1651.1V1660.1M166.0 1650.2V1661.2M167.0 1651.0V1660.1M168.0 1651.6V1660.2M169.0 1651.6V1660.5M170.0 1651.9V1660.1M171.0 1650.6V1660.0M172.0 1650.3V1661.6M173.0 1650.5V1661.0M174.0 1651.9V1660.1M175.0 1651.9V1660.7M176.0 1651.9V1660.6M177.0 1650.5V1660.5M178.0 1651.6V1661.7M179.0 1652.0V1660.4M180.0 1651.0V1661.0M181.0 1650.0V1660.5M182.0 1651.9V1662.3M183.0 1652.0V1660.1M184.0 1650.7V1660.1M185.0 1651.8V1660.3M186.0 1651.5V1661.3M187.0 1651.1V1661.5M188.0 1651.7V1660.0M189.0 1651.2V1660.9M190.0 1650.7V1660.5M191.0 1651.0V1661.3M192.0 1651.2V1661.0M193.0 1651.4V1660.7M194.0 1650.8V1661.0M195.0 1650.5V1660.5M196.0 1651.3V1660.3M197.0 1649.7V1660.9M198.0 1651.5V1661.6M199.0 1651.4V1661.1M200.0 1650.3V1660.2M201.0 1651.4V1660.5M202.0 1650.3V1660.8M203.0 1651.0V1661.0M204.0 1650.5V1661.1M205.0 1651.7V1660.7M206.0 1651.3V1660.0M207.0 1650.9V1660.6M208.0 1651.2V1661.7M209.0 1650.4V1660.4M210.0 1651.3V1661.7M211.0 1651.4V1660.3M212.0 1651.0V1661.3M213.0 1651.2V1661.8M214.0 1651.8V1660.3M215.0 1650.5V1660.5M216.0 1651.5V1661.4M217.0 1651.4V1660.3M218.0 1650.9V1660.8M219.0 1651.4V1660.1M220.0 1652.0V1661.5M221.0 1651.7V1661.0M222.0 1650.6V1660.9M223.0 1651.9V1660.6M224.0 1650.3V1660.9M225.0 1651.2V1660.7M226.0 1650.8V1660.2M227.0 1651.8V1660.5M228.0 1651.4V1661.3M229.0 1651.2V1660.9M230.0 1651.1V1660.6M231.0 1651.8V1660.2M232.0 1651.1V1660.0M233.0 1651.0V1660.8M234.0 1651.9V1660.5M235.0 1651.3V1660.5M236.0 1651.8V1660.0M237.0 1649.3V1660.6M238.0 1651.3V1660.8M239.0 1651.4V1660.3M240.0 1651.8V1660.9M241.0 1650.5V1660.5M242.0 1651.0V1662.1M243.0 1652.0V1660.3M244.0 1651.8V1660.5M245.0 1651.7V1660.1M246.0 1650.3V1660.6M247.0 1649.9V1660.6M248.0 1651.7V1660.2M249.0 1651.3V1660.5M250.0 1650.3V1661.6M251.0 1651.9V1661.2M252.0 1650.6V1661.7M253.0 1651.6V1660.8M254.0 1651.5V1660.2M255.0 1649.3V1660.6M256.0 1652.0V1660.2M257.0 1652.0V1660.8M258.0 1650.4V1661.1M259.0 1651.9V1660.2M260.0 1651.7V1661.4M261.0 1650.4V1662.1M262.0 1651.5V1660.2M263.0 1651.9V1662.1M264.0 1651.7V1660.7M265.0 1650.7V1660.8M266.0 1651.4V1660.5M267.0 1652.0V1660.5M268.0 1651.5V1660.1M269.0 1652.0V1660.5M270.0 1651.9V1660.1M271.0 1651.9V1660.6M272.0 1650.0V1660.5M273.0 1651.6V1662.1M274.0 1650.7V1661.4M275.0 1651.4V1660.8M276.0 1650.3V1661.2M277.0 1651.3V1661.1M278.0 1651.2V1660.2M279.0 1651.5V1660.9M280.0 1651.7V1660.4M281.0 1651.9V1660.3M282.0 1651.7V1661.1M283.0 1650.9V1661.4M284.0 1651.9V1660.9M285.0 1651.6V1660.6M286.0 1651.6V1660.7M287.0 1651.5V1660.9M288.0 1651.2V1661.8M289.0 1650.1V1661.6M290.0 1650.2V1660.7M291.0 1651.7V1660.5M292.0 1651.3V1660.1M293.0 1652.0V1660.6M294.0 1650.2V1662.1M295.0 1650.0V1660.0M296.0 1651.4V1660.4M297.0 1651.8V1660.2M298.0 1651.9V1660.7M299.0 1651.8V1660.0M300.0 1651.7V1660.8M301.0 1652.0V1660.0M302.0 1651.5V1661.0M303.0 1651.6V1660.9M304.0 1651.5V1660.3M305.0 1651.6V1660.2M306.0 1651.3V1661.4M307.0 1651.9V1660.6M308.0 1651.7V1660.2M309.0 1651.2V1660.7M310.0 1651.9V1660.6M311.0 1650.9V1660.9M312.0 1651.6V1661.1M313.0 1651.9V1660.3M314.0 1651.9V1660.9M315.0 1651.9V1660.3M316.0 1651.7V1660.8M317.0 1651.0V1661.5M318.0 1651.8V1660.0M319.0 1651.1V1660.5M320.0 1651.5V1660.5M321.0 1651.3V1661.6M322.0 1651.6V1660.4M323.0 1651.2V1660.9M324.0 1650.9V1660.0M325.0 1651.0V1660.4M326.0 1651.0V1661.0M327.0 1651.3V1661.6M328.0 1651.4V1661.3M329.0 1650.9V1661.0M330.0 1650.3V1660.7M331.0 1651.0V1660.3M332.0 1650.9V1660.1M333.0 1651.8V1660.0M334.0 1651.4V1660.1M335.0 1651.8V1660.4M336.0 1652.0V1661.7M337.0 1651.6V1660.1M338.0 1651.8V1660.6M339.0 1650.8V1660.1M340.0 1651.0V1660.5M341.0 1651.9V1660.4M342.0 1651.0V1661.0M343.0 1651.6V1660.1M344.0 1650.9V1660.0M345.0 1651.9V1660.5M346.0 1651.6V1660.3M347.0 1650.5V1661.0M348.0 1651.3V1660.9M349.0 1652.0V1660.5M350.0 1651.0V1661.9M351.0 1651.3V1660.6M352.0 1651.4V1660.9M353.0 1650.3V1661.3M354.0 1651.9V1660.8M355.0 1652.0V1660.8M356.0 1649.7V1661.0M357.0 1651.3V1661.9M358.0 1651.3V1661.6M359.0 1651.0V1660.4M360.0 1650.0V1660.5M361.0 1652.0V1660.9M362.0 1651.4V1660.6M363.0 1651.7V1660.1M364.0 1651.0V1660.4M365.0 1651.5V1660.1M366.0 1650.5V1660.3M367.0 1650.8V1660.5M368.0 1651.3V1661.7M369.0 1651.8V1660.2M370.0 1651.6V1660.5M371.0 1651.7V1660.6M372.0 1650.0V1660.5M373.0 1651.5V1660.5M374.0 1651.0V1660.1M375.0 1651.3V1660.2M376.0 1651.6V1661.2M377.0 1651.1V1660.8M378.0 1651.0V1660.3M379.0 1651.9V1661.0M380.0 1651.5V1660.1M381.0 1651.7V1660.3M382.0 1651.8V1660.9M383.0 1651.8V1660.7M384.0 1651.0V1660.6M385.0 1651.3V1661.0M386.0 1650.8V1660.6M387.0 1651.6V1661.4M388.0 1650.9V1660.3M389.0 1651.2V1660.7M390.0 1651.8V1660.6M391.0 1651.8V1661.1M392.0 1651.1V1660.8M393.0 1651.2V1660.1M394.0 1651.6V1660.5M395.0 1651.0V1660.4M396.0 1651.4V1662.6M397.0 1651.6V1661.5M398.0 1651.8V1660.3M399.0 1651.3V1660.7M400.0 1651.2V1660.3M401.0 1650.6V1660.5M402.0 1651.5V1660.4M403.0 1650.6V1660.4M404.0 1651.5V1660.7M405.0 1651.2V1661.1M406.0 1650.7V1661.2M407.0 1651.5V1661.0M408.0 1651.9V1661.5M409.0 1651.9V1661.0M410.0 1651.7V1661.4M411.0 1651.6V1660.2M412.0 1651.9V1660.1M413.0 1651.9V1661.2M414.0 1649.7V1660.0M415.0 1651.2V1660.4M416.0 1651.6V1661.8M417.0 1651.3V1660.5M418.0 1651.0V1660.3M419.0 1651.9V1660.7M420.0 1651.1V1660.7M421.0 1651.4V1660.5M422.0 1651.6V1661.7M423.0 1651.0V1660.0M424.0 1651.7V1660.7M425.0 1651.3V1660.9M426.0 1651.7V1660.2M427.0 1651.3V1660.4M428.0 1651.0V1661.4M429.0 1651.4V1660.2M430.0 1650.2V1660.9M431.0 1651.7V1660.0M432.0 1651.0V1660.4M433.0 1650.6V1660.7M434.0 1648.9V1660.8M435.0 1650.9V1660.1M436.0 1651.6V1660.8M437.0 1651.2V1660.9M438.0 1650.7V1661.8M439.0 1651.5V1661.0M440.0 1651.3V1660.5M441.0 1651.1V1660.7M442.0 1650.3V1660.8M443.0 1651.0V1660.2M444.0 1650.8V1660.5M445.0 1651.2V1660.0M446.0 1650.4V1660.3M447.0 1651.6V1660.7M448.0 1650.3V1660.2M449.0 1651.6V1660.0M450.0 1650.9V1660.8M451.0 1650.8V1662.5M452.0 1651.3V1660.6M453.0 1651.6V1660.6M454.0 1650.9V1660.1M455.0 1651.8V1660.5M456.0 1651.2V1660.9M457.0 1650.3V1662.3M458.0 1651.8V1660.2M459.0 1650.7V1660.8M460.0 1651.5V1661.3M461.0 1651.2V1660.0M462.0 1651.3V1661.0M463.0 1651.7V1660.5M464.0 1650.9V1660.0M465.0 1651.9V1661.3M466.0 1649.0V1660.6M467.0 1651.2V1660.4M468.0 1651.6V1660.4M469.0 1652.0V1660.4M470.0 1651.6V1660.3M471.0 1650.3V1660.2M472.0 1650.8V1661.1M473.0 1651.9V1660.1M474.0 1651.9V1660.8M475.0 1651.8V1660.8M476.0 1651.7V1660.6M477.0 1650.4V1661.1M478.0 1651.3V1660.4M479.0 1651.2V1660.3M480.0 1650.2V1660.6M481.0 1650.0V1661.1M482.0 1650.8V1660.5M483.0 1652.0V1660.3M484.0 1650.4V1660.7M485.0 1651.2V1661.8M486.0 1651.7V1660.7M487.0 1650.2V1661.4M488.0 1649.8V1660.1M489.0 1652.0V1660.9M490.0 1651.9V1660.6M491.0 1651.3V1661.7M492.0 1650.4V1660.2M493.0 1652.0V1660.6M494.0 1651.6V1660.4M495.0 1651.3V1660.1M496.0 1651.6V1660.2M497.0 1651.1V1660.2M498.0 1651.7V1660.2M499.0 1650.8V1661.2M500.0 1651.6V1660.5M501.0 1651.7V1660.7M502.0 1652.0V1660.2M503.0 1651.6V1660.7M504.0 1651.2V1661.2M505.0 1651.4V1660.4M506.0 1651.8V1660.4M507.0 1650.4V1660.6M508.0 1651.8V1660.5M509.0 1651.1V1661.2M510.0 1650.4V1661.6M511.0 1651.4V1662.1M512.0 1651.4V1660.0M513.0 1651.5V1660.1M514.0 1651.8V1660.7M515.0 1651.0V1660.7M516.0 1651.5V1660.5M517.0 1651.5V1660.4M518.0 1651.7V1660.3M519.0 1650.9V1660.1M520.0 1651.8V1661.5M521.0 1651.0V1660.9M522.0 1651.3V1660.3M523.0 1651.7V1660.2M524.0 1651.2V1661.6M525.0 1651.4V1661.2M526.0 1651.1V1660.7M527.0 1651.3V1660.8M528.0 1651.9V1660.3M529.0 1651.8V1660.6M530.0 1651.0V1661.0M531.0 1651.8V1660.9M532.0 1650.7V1660.8M533.0 1650.7V1661.2M534.0 1651.5V1660.5M535.0 1650.7V1660.3M536.0 1651.6V1660.7M537.0 1650.9V1660.7M538.0 1651.8V1660.6M539.0 1651.5V1660.7M540.0 1651.6V1660.4M541.0 1650.5V1661.3M542.0 1651.9V1661.4M543.0 1651.8V1660.1M544.0 1651.7V1660.5M545.0 1651.7V1660.8M546.0 1651.2V1660.2M547.0 1651.6V1660.4M548.0 1651.4V1661.0M549.0 1651.9V1660.7M550.0 1650.7V1660.5M551.0 1652.0V1660.0M552.0 1651.2V1661.3M553.0 1651.9V1660.3M554.0 1651.3V1661.0M555.0 1651.4V1660.2M556.0 1650.8V1661.0M557.0 1651.5V1661.9M558.0 1652.0V1660.4M559.0 1651.7V1660.8M560.0 1652.0V1661.7M561.0 1651.9V1660.4M562.0 1651.1V1660.3M563.0 1650.8V1660.6M564.0 1651.9V1661.7M565.0 1651.3V1660.7M566.0 1650.7V1660.5M567.0 1651.0V1660.5M568.0 1651.6V1660.2M569.0 1652.0V1660.3M570.0 1651.5V1661.6M571.0 1651.9V1661.1M572.0 1650.7V1660.2M573.0 1651.3V1660.2M574.0 1651.2V1660.3M575.0 1651.5V1660.3M576.0 1651.8V1660.5M577.0 1651.6V1661.3M578.0 1651.9V1660.7M579.0 1651.0V1660.1M580.0 1651.2V1660.3M581.0 1651.4V1661.8M582.0 1651.3V1660.9M583.0 1651.2V1661.4M584.0 1650.5V1660.5M585.0 1651.4V1661.2M586.0 1651.2V1660.6M587.0 1651.8V1661.7M588.0 1651.4V1660.5M589.0 1651.6V1660.5M590.0 1651.3V1660.3M591.0 1651.5V1661.3M592.0 1651.6V1660.1M593.0 1651.5V1660.9M594.0 1651.6V1660.4M595.0 1651.9V1660.1M596.0 1650.5V1660.1M597.0 1650.8V1660.7M598.0 1650.8V1660.1M599.0 1651.2V1660.7M600.0 1651.5V1660.2M601.0 1651.9V1660.0M602.0 1650.9V1660.6M603.0 1650.5V1661.5M604.0 1651.6V1660.6M605.0 1652.0V1660.5M606.0 1650.5V1660.3M607.0 1651.6V1660.6M608.0 1651.5V1661.2M609.0 1650.8V1661.7M610.0 1651.2V1661.4M611.0 1651.3V1661.3M612.0 1651.7V1660.5M613.0 1651.6V1660.7M614.0 1651.2V1660.8M615.0 1650.8V1661.2M616.0 1652.0V1660.3M617.0 1650.8V1660.5M618.0 1651.4V1661.3M619.0 1650.2V1661.2M620.0 1650.9V1660.0M621.0 1651.6V1660.6M622.0 1651.7V1660.2M623.0 1651.8V1660.5M624.0 1649.8V1660.8M625.0 1651.8V1660.1M626.0 1651.5V1660.2M627.0 1652.0V1660.1M628.0 1651.0V1661.5M629.0 1651.8V1660.9M630.0 1651.7V1661.3M631.0 1651.1V1660.1M632.0 1651.5V1660.8M633.0 1651.2V1661.5M634.0 1651.6V1660.3M635.0 1651.7V1660.9M636.0 1651.2V1660.3M637.0 1651.9V1660.4M638.0 1651.6V1660.9M639.0 1650.1V1660.4M640.0 1650.4V1661.8M641.0 1650.8V1660.3M642.0 1651.9V1660.3M643.0 1651.4V1661.1M644.0 1651.7V1661.1M645.0 1651.0V1660.3M646.0 1651.5V1660.6M647.0 1651.0V1661.6M648.0 1651.4V1660.1M649.0 1651.6V1660.9M650.0 1650.9V1660.7M651.0 1651.2V1660.9M652.0 1651.0V1660.6M653.0 1651.2V1660.4M654.0 1651.6V1660.4M655.0 1651.1V1660.7M656.0 1650.6V1661.2M657.0 1652.0V1660.4M658.0 1651.3V1660.1M659.0 1650.9V1660.1M660.0 1651.8V1661.2M661.0 1651.2V1660.7M662.0 1651.7V1660.2M663.0 1651.7V1660.2M664.0 1650.3V1660.7M665.0 1650.6V1660.4M666.0 1652.0V1660.4M667.0 1650.6V1660.1M668.0 1650.6V1661.0M669.0 1651.6V1660.3M670.0 1650.9V1660.3M671.0 1651.9V1660.5M672.0 1651.9V1660.3M673.0 1651.9V1660.9M674.0 1650.8V1660.1M675.0 1651.8V1660.7M676.0 1651.7V1660.9M677.0 1651.0V1660.8M678.0 1651.2V1660.8M679.0 1650.4V1660.9M680.0 1651.3V1661.3M681.0 1651.2V1661.3M682.0 1651.3V1661.5M683.0 1651.4V1660.6M684.0 1651.8V1662.2M685.0 1652.0V1660.3M686.0 1651.7V1660.3M687.0 1650.5V1660.5M688.0 1650.4V1661.3M689.0 1651.7V1660.6M690.0 1651.7V1660.9M691.0 1651.4V1661.0M692.0 1651.9V1660.1M693.0 1650.8V1661.0M694.0 1651.5V1661.1M695.0 1651.7V1661.3M696.0 1651.6V1660.3M697.0 1651.2V1660.8M698.0 1651.4V1661.5M699.0 1651.9V1660.0M700.0 1651.7V1660.4M701.0 1650.2V1660.0M702.0 1651.9V1660.2M703.0 1651.3V1661.5M704.0 1651.6V1660.8M705.0 1651.5V1660.1M706.0 1651.5V1660.7M707.0 1651.1V1660.9M708.0 1651.3V1660.4M709.0 1651.6V1661.9M710.0 1651.8V1660.1M711.0 1651.6V1660.7M712.0 1650.8V1660.2M713.0 1651.4V1660.5M714.0 1650.8V1660.0M715.0 1651.9V1660.2M716.0 1649.4V1660.7M717.0 1651.5V1660.1M718.0 1651.7V1660.6M719.0 1651.8V1661.0M720.0 1651.9V1661.2M721.0 1649.8V1660.4M722.0 1651.8V1660.0M723.0 1650.6V1660.6M724.0 1650.9V1661.1M725.0 1651.1V1660.9M726.0 1651.5V1660.6M727.0 1651.5V1661.8M728.0 1650.7V1660.5M729.0 1651.5V1661.4M730.0 1651.9V1661.1M731.0 1651.4V1660.6M732.0 1651.1V1660.3M733.0 1651.2V1660.3M734.0 1650.8V1662.4M735.0 1651.1V1660.1M736.0 1652.0V1660.7M737.0 1651.7V1660.4M738.0 1650.2V1660.1M739.0 1651.1V1660.3M740.0 1651.3V1660.3M741.0 1651.8V1660.3M742.0 1651.8V1660.7M743.0 1651.8V1661.1M744.0 1651.2V1660.3M745.0 1651.0V1660.6M746.0 1651.5V1660.3M747.0 1649.7V1661.3M748.0 1651.0V1661.2M749.0 1650.4V1660.8M750.0 1651.1V1660.4M751.0 1651.4V1660.4M752.0 1652.0V1660.2M753.0 1651.6V1660.6M754.0 1651.8V1660.6M755.0 1651.5V1660.4M756.0 1650.6V1661.1M757.0 1651.6V1660.5M758.0 1651.8V1662.3M759.0 1651.7V1660.2M760.0 1651.3V1661.7M761.0 1651.7V1660.4M762.0 1651.6V1661.0M763.0 1651.1V1660.9M764.0 1651.4V1660.3M765.0 1651.3V1661.3M766.0 1651.5V1660.7M767.0 1651.6V1660.7M768.0 1651.1V1660.3M769.0 1650.8V1660.4M770.0 1651.5V1660.9M771.0 1651.4V1660.4M772.0 1651.9V1660.0M773.0 1651.0V1660.5M774.0 1651.7V1660.0M775.0 1650.9V1660.9M776.0 1651.8V1660.4M777.0 1651.7V1660.4M778.0 1652.0V1660.4M779.0 1651.6V1660.9M780.0 1650.8V1660.3M781.0 1650.8V1660.4M782.0 1651.4V1660.5M783.0 1652.0V1660.7M784.0 1651.6V1661.5M785.0 1651.9V1660.8M786.0 1651.6V1662.5M787.0 1651.3V1660.2M788.0 1649.9V1660.3M789.0 1651.9V1660.1M790.0 1650.7V1660.2M791.0 1651.9V1660.8M792.0 1651.4V1660.0M793.0 1652.0V1660.4M794.0 1651.5V1660.1M795.0 1651.0V1660.4M796.0 1651.5V1660.2M797.0 1651.2V1660.3M798.0 1651.7V1660.5M799.0 1651.8V1662.0M800.0 1651.9V1660.2M801.0 1651.9V1660.7M802.0 1650.9V1660.1M803.0 1651.5V1660.6M804.0 1651.7V1660.9M805.0 1651.1V1661.7M806.0 1650.9V1660.9M807.0 1650.8V1660.5M808.0 1650.5V1661.0M809.0 1650.9V1660.4M810.0 1650.3V1661.1M811.0 1650.8V1660.4M812.0 1651.9V1660.7M813.0 1651.9V1661.0M814.0 1651.9V1660.6M815.0 1651.9V1661.3M816.0 1651.1V1662.8M817.0 1651.8V1661.1M818.0 1651.0V1661.5M819.0 1651.5V1660.5M820.0 1652.0V1661.7M821.0 1651.8V1660.8M822.0 1650.1V1660.2M823.0 1651.3V1661.2M824.0 1651.2V1660.6M825.0 1650.4V1660.9M826.0 1651.5V1661.8" stroke="#4a4a4a" stroke-width="1" fill="none"/>
<rect x="281.20" y="1585.5" width="2.2" height="122.5" fill="#4a4a4a"/>
<rect x="462.10" y="1623.0" width="1.8" height="68.0" fill="#4a4a4a"/>
<rect x="645.80" y="1585.5" width="2.4" height="122.5" fill="#4a4a4a"/>
<rect x="283.50" y="1630.0" width="2.0" height="60.0" fill="#4a4a4a"/>
<rect x="647.90" y="1625.0" width="2.2" height="75.0" fill="#4a4a4a"/>
</g>
<circle cx="281.4" cy="1556.9" r="7.4" fill="#e31b23"/>
<circle cx="461.5" cy="1557.9" r="7.4" fill="#e31b23"/>
<circle cx="645.0" cy="1559.8" r="7.4" fill="#e31b23"/>
<path d="M912 1589.4V1650H1001.7" stroke="#111" stroke-width="2.6" fill="none"/>
<text x="847.4" y="1632.6" font-size="30.0" text-anchor="start" fill="#111" textLength="59.6" lengthAdjust="spacingAndGlyphs">100°</text>
<text x="927.5" y="1688.4" font-size="30.0" text-anchor="start" fill="#111" textLength="53.4" lengthAdjust="spacingAndGlyphs">30 s</text>
<g filter="url(#blt)">
<rect x="1034.2" y="1347.30" width="727.7" height="6.40" fill="#4a4a4a"/>
<path d="M1034.2 1346.3V1354.9M1035.2 1346.9V1354.1M1036.2 1345.4V1355.9M1037.2 1347.2V1353.9M1038.2 1345.4V1355.3M1039.2 1345.3V1353.8M1040.2 1346.4V1354.9M1041.2 1346.9V1354.0M1042.2 1347.1V1354.1M1043.2 1346.2V1355.4M1044.2 1346.9V1355.5M1045.2 1347.1V1353.7M1046.2 1347.1V1355.3M1047.2 1347.2V1353.9M1048.2 1346.6V1353.7M1049.2 1346.9V1353.9M1050.2 1344.6V1354.0M1051.2 1346.6V1355.4M1052.2 1346.5V1354.4M1053.2 1346.7V1354.4M1054.2 1346.7V1354.9M1055.2 1346.4V1354.9M1056.2 1346.9V1353.7M1057.2 1346.7V1354.5M1058.2 1346.6V1354.1M1059.2 1346.8V1356.0M1060.2 1346.2V1354.7M1061.2 1347.2V1354.3M1062.2 1347.3V1354.0M1063.2 1346.3V1354.0M1064.2 1346.3V1354.3M1065.2 1347.2V1353.8M1066.2 1346.8V1354.9M1067.2 1346.2V1354.0M1068.2 1346.4V1356.1M1069.2 1346.3V1354.7M1070.2 1346.7V1354.2M1071.2 1345.2V1354.9M1072.2 1346.6V1354.3M1073.2 1346.9V1354.0M1074.2 1347.2V1353.7M1075.2 1345.7V1355.0M1076.2 1347.3V1354.9M1077.2 1346.8V1354.2M1078.2 1347.2V1354.1M1079.2 1346.4V1355.0M1080.2 1347.1V1353.9M1081.2 1347.0V1354.4M1082.2 1346.6V1354.6M1083.2 1346.3V1355.9M1084.2 1345.8V1353.7M1085.2 1346.6V1354.6M1086.2 1344.9V1355.3M1087.2 1347.2V1355.0M1088.2 1347.3V1354.6M1089.2 1347.1V1354.6M1090.2 1346.1V1353.9M1091.2 1346.9V1354.4M1092.2 1346.5V1354.5M1093.2 1347.1V1354.9M1094.2 1347.1V1355.7M1095.2 1345.9V1353.9M1096.2 1346.3V1353.8M1097.2 1347.2V1354.2M1098.2 1346.3V1354.2M1099.2 1346.2V1353.9M1100.2 1347.0V1354.3M1101.2 1346.5V1355.2M1102.2 1346.1V1354.0M1103.2 1346.4V1355.4M1104.2 1347.1V1353.9M1105.2 1346.1V1354.9M1106.2 1347.1V1354.1M1107.2 1346.9V1354.3M1108.2 1346.6V1354.2M1109.2 1346.9V1354.7M1110.2 1346.9V1353.8M1111.2 1344.9V1355.6M1112.2 1347.0V1354.6M1113.2 1345.7V1353.9M1114.2 1347.3V1354.2M1115.2 1346.9V1354.5M1116.2 1346.6V1353.8M1117.2 1346.7V1354.3M1118.2 1347.2V1353.8M1119.2 1346.9V1354.8M1120.2 1346.8V1353.9M1121.2 1347.2V1354.4M1122.2 1347.0V1354.3M1123.2 1347.1V1354.0M1124.2 1346.1V1355.0M1125.2 1347.0V1354.6M1126.2 1347.0V1354.9M1127.2 1347.1V1353.9M1128.2 1346.5V1354.0M1129.2 1347.1V1354.4M1130.2 1346.2V1354.4M1131.2 1347.0V1354.5M1132.2 1346.4V1354.5M1133.2 1346.8V1354.0M1134.2 1345.9V1354.0M1135.2 1346.4V1354.7M1136.2 1347.1V1354.0M1137.2 1347.3V1354.6M1138.2 1346.3V1353.9M1139.2 1346.1V1354.6M1140.2 1346.1V1353.9M1141.2 1346.3V1353.9M1142.2 1346.8V1354.5M1143.2 1345.4V1354.0M1144.2 1346.3V1354.1M1145.2 1345.6V1353.8M1146.2 1346.6V1355.0M1147.2 1347.1V1353.9M1148.2 1346.8V1354.7M1149.2 1347.1V1355.2M1150.2 1346.8V1354.1M1151.2 1345.8V1354.5M1152.2 1347.0V1353.9M1153.2 1347.3V1354.9M1154.2 1346.0V1354.2M1155.2 1347.0V1354.7M1156.2 1346.0V1354.2M1157.2 1346.3V1354.3M1158.2 1345.6V1353.7M1159.2 1347.0V1354.1M1160.2 1346.8V1354.6M1161.2 1344.6V1353.8M1162.2 1347.2V1354.4M1163.2 1347.0V1354.3M1164.2 1346.6V1354.6M1165.2 1346.4V1353.8M1166.2 1346.6V1353.9M1167.2 1346.2V1354.9M1168.2 1346.9V1354.2M1169.2 1347.2V1354.0M1170.2 1346.5V1353.9M1171.2 1346.3V1353.9M1172.2 1346.6V1354.1M1173.2 1347.1V1354.3M1174.2 1346.3V1354.3M1175.2 1346.6V1353.9M1176.2 1346.4V1353.9M1177.2 1346.6V1354.0M1178.2 1347.1V1355.3M1179.2 1346.9V1355.1M1180.2 1346.9V1354.8M1181.2 1345.3V1354.3M1182.2 1345.6V1354.3M1183.2 1346.4V1354.0M1184.2 1347.1V1353.9M1185.2 1347.1V1354.0M1186.2 1346.8V1354.0M1187.2 1346.3V1354.2M1188.2 1347.0V1354.7M1189.2 1346.7V1354.9M1190.2 1347.1V1354.3M1191.2 1347.0V1354.1M1192.2 1346.8V1354.0M1193.2 1347.0V1353.9M1194.2 1346.8V1355.9M1195.2 1346.2V1354.4M1196.2 1347.2V1355.7M1197.2 1347.1V1354.2M1198.2 1346.0V1354.2M1199.2 1345.6V1354.1M1200.2 1347.1V1354.3M1201.2 1346.6V1354.1M1202.2 1346.8V1353.9M1203.2 1346.6V1354.1M1204.2 1347.0V1354.1M1205.2 1346.5V1356.1M1206.2 1347.1V1353.8M1207.2 1346.4V1354.6M1208.2 1347.1V1354.8M1209.2 1346.5V1354.3M1210.2 1347.2V1354.6M1211.2 1347.1V1354.1M1212.2 1347.1V1354.1M1213.2 1344.6V1355.1M1214.2 1346.3V1354.1M1215.2 1347.1V1354.5M1216.2 1347.3V1354.8M1217.2 1346.9V1353.9M1218.2 1345.5V1353.9M1219.2 1346.4V1354.3M1220.2 1346.9V1354.0M1221.2 1347.0V1355.6M1222.2 1346.9V1354.2M1223.2 1347.1V1353.8M1224.2 1345.4V1355.1M1225.2 1346.1V1355.5M1226.2 1347.1V1353.9M1227.2 1346.8V1354.6M1228.2 1347.3V1355.2M1229.2 1346.6V1355.1M1230.2 1347.2V1354.0M1231.2 1346.9V1353.8M1232.2 1345.8V1354.2M1233.2 1346.5V1354.3M1234.2 1346.2V1353.9M1235.2 1346.2V1354.4M1236.2 1346.5V1354.6M1237.2 1346.8V1354.4M1238.2 1347.0V1354.2M1239.2 1346.3V1355.6M1240.2 1346.5V1355.2M1241.2 1346.6V1354.4M1242.2 1347.1V1354.0M1243.2 1347.0V1354.0M1244.2 1346.2V1353.7M1245.2 1346.6V1354.4M1246.2 1346.7V1354.7M1247.2 1346.4V1353.7M1248.2 1347.0V1354.6M1249.2 1347.2V1354.1M1250.2 1347.2V1355.5M1251.2 1345.4V1353.7M1252.2 1345.2V1353.9M1253.2 1345.7V1353.8M1254.2 1346.1V1354.3M1255.2 1347.1V1355.2M1256.2 1346.9V1354.3M1257.2 1346.4V1353.9M1258.2 1346.6V1353.8M1259.2 1347.0V1353.9M1260.2 1346.7V1354.0M1261.2 1346.0V1354.6M1262.2 1347.2V1354.0M1263.2 1347.3V1354.9M1264.2 1347.0V1353.7M1265.2 1346.3V1354.6M1266.2 1347.0V1354.5M1267.2 1346.9V1354.6M1268.2 1347.2V1353.8M1269.2 1346.4V1354.0M1270.2 1347.0V1353.9M1271.2 1347.3V1355.2M1272.2 1347.1V1354.2M1273.2 1347.0V1354.1M1274.2 1347.1V1354.3M1275.2 1346.1V1355.8M1276.2 1345.7V1353.7M1277.2 1346.3V1353.8M1278.2 1346.9V1355.6M1279.2 1347.3V1355.0M1280.2 1346.9V1354.9M1281.2 1346.4V1355.0M1282.2 1346.1V1354.5M1283.2 1347.0V1354.1M1284.2 1346.0V1354.0M1285.2 1347.3V1354.2M1286.2 1346.3V1355.6M1287.2 1346.1V1354.5M1288.2 1346.5V1355.1M1289.2 1346.5V1354.2M1290.2 1346.6V1355.1M1291.2 1346.8V1354.3M1292.2 1346.2V1354.0M1293.2 1346.9V1353.8M1294.2 1345.7V1354.0M1295.2 1347.3V1355.4M1296.2 1347.2V1354.3M1297.2 1346.7V1353.9M1298.2 1345.3V1353.8M1299.2 1346.7V1355.0M1300.2 1346.1V1354.7M1301.2 1346.9V1355.0M1302.2 1345.7V1354.3M1303.2 1347.0V1353.9M1304.2 1346.3V1355.1M1305.2 1346.7V1354.7M1306.2 1346.5V1355.1M1307.2 1346.3V1353.7M1308.2 1346.9V1353.7M1309.2 1346.9V1354.6M1310.2 1346.5V1354.3M1311.2 1347.0V1354.2M1312.2 1346.2V1355.1M1313.2 1346.8V1354.2M1314.2 1346.7V1354.1M1315.2 1347.0V1354.6M1316.2 1346.4V1355.1M1317.2 1346.3V1354.6M1318.2 1345.7V1354.1M1319.2 1347.0V1354.4M1320.2 1346.5V1353.9M1321.2 1347.0V1355.6M1322.2 1345.8V1354.9M1323.2 1346.5V1354.4M1324.2 1346.3V1354.0M1325.2 1346.7V1353.7M1326.2 1347.0V1354.2M1327.2 1347.3V1353.7M1328.2 1346.3V1355.6M1329.2 1345.7V1354.2M1330.2 1347.3V1354.5M1331.2 1346.4V1354.4M1332.2 1346.6V1354.5M1333.2 1345.8V1355.1M1334.2 1346.3V1354.5M1335.2 1346.2V1354.3M1336.2 1345.2V1354.5M1337.2 1346.4V1354.7M1338.2 1346.7V1354.3M1339.2 1346.0V1353.9M1340.2 1346.4V1354.3M1341.2 1345.7V1355.6M1342.2 1345.7V1354.3M1343.2 1346.8V1354.8M1344.2 1345.9V1354.2M1345.2 1346.2V1354.6M1346.2 1347.3V1353.9M1347.2 1347.1V1354.1M1348.2 1345.5V1354.3M1349.2 1346.6V1354.6M1350.2 1347.1V1353.8M1351.2 1346.1V1354.6M1352.2 1346.8V1354.3M1353.2 1347.2V1354.4M1354.2 1346.4V1354.0M1355.2 1346.0V1353.9M1356.2 1346.8V1355.0M1357.2 1345.6V1355.3M1358.2 1347.0V1355.0M1359.2 1347.2V1354.2M1360.2 1345.8V1354.5M1361.2 1347.1V1354.5M1362.2 1346.6V1354.5M1363.2 1346.9V1354.1M1364.2 1347.3V1354.2M1365.2 1347.2V1354.0M1366.2 1347.0V1354.5M1367.2 1345.0V1354.2M1368.2 1347.0V1354.4M1369.2 1346.7V1353.9M1370.2 1346.9V1354.6M1371.2 1346.8V1354.1M1372.2 1346.6V1354.2M1373.2 1346.6V1353.9M1374.2 1346.7V1355.6M1375.2 1345.7V1354.2M1376.2 1346.3V1354.9M1377.2 1347.1V1354.2M1378.2 1347.3V1354.7M1379.2 1346.0V1354.2M1380.2 1347.3V1354.4M1381.2 1346.0V1355.2M1382.2 1346.6V1353.8M1383.2 1346.8V1354.2M1384.2 1347.3V1354.0M1385.2 1346.8V1354.7M1386.2 1346.0V1355.4M1387.2 1347.2V1354.4M1388.2 1346.3V1354.2M1389.2 1347.3V1355.1M1390.2 1345.9V1354.6M1391.2 1346.7V1354.2M1392.2 1345.9V1355.6M1393.2 1346.4V1354.7M1394.2 1347.2V1354.6M1395.2 1345.9V1354.2M1396.2 1346.8V1354.5M1397.2 1347.0V1354.5M1398.2 1346.6V1355.4M1399.2 1346.2V1353.9M1400.2 1346.4V1355.4M1401.2 1346.8V1354.3M1402.2 1346.4V1354.1M1403.2 1345.5V1353.7M1404.2 1346.7V1354.7M1405.2 1346.3V1354.4M1406.2 1347.0V1355.4M1407.2 1346.9V1355.4M1408.2 1346.5V1354.8M1409.2 1347.3V1354.8M1410.2 1345.8V1354.8M1411.2 1347.2V1355.4M1412.2 1346.2V1355.2M1413.2 1346.3V1354.7M1414.2 1346.9V1354.9M1415.2 1347.2V1354.0M1416.2 1346.0V1354.7M1417.2 1347.2V1354.3M1418.2 1347.2V1354.1M1419.2 1346.2V1355.9M1420.2 1347.0V1354.5M1421.2 1347.2V1354.0M1422.2 1346.9V1354.4M1423.2 1346.0V1353.7M1424.2 1346.8V1354.3M1425.2 1346.4V1354.1M1426.2 1345.8V1354.3M1427.2 1345.7V1354.1M1428.2 1346.8V1354.1M1429.2 1346.7V1354.3M1430.2 1346.7V1354.7M1431.2 1347.0V1355.3M1432.2 1346.9V1355.4M1433.2 1346.9V1354.7M1434.2 1345.8V1354.0M1435.2 1346.3V1353.9M1436.2 1347.0V1353.8M1437.2 1346.3V1354.8M1438.2 1346.5V1354.2M1439.2 1346.1V1353.8M1440.2 1347.0V1355.5M1441.2 1345.7V1353.7M1442.2 1346.5V1353.9M1443.2 1347.0V1353.7M1444.2 1346.8V1353.8M1445.2 1346.0V1354.1M1446.2 1347.0V1354.7M1447.2 1347.0V1354.2M1448.2 1346.7V1354.1M1449.2 1346.8V1355.1M1450.2 1346.3V1353.8M1451.2 1346.8V1355.0M1452.2 1347.1V1354.4M1453.2 1346.0V1354.2M1454.2 1345.8V1354.0M1455.2 1345.4V1354.3M1456.2 1347.1V1355.1M1457.2 1346.7V1353.9M1458.2 1345.5V1353.8M1459.2 1347.1V1354.9M1460.2 1347.2V1354.5M1461.2 1346.6V1354.8M1462.2 1346.5V1353.7M1463.2 1346.8V1353.9M1464.2 1346.1V1355.2M1465.2 1347.0V1354.6M1466.2 1347.0V1354.0M1467.2 1346.4V1355.0M1468.2 1344.6V1354.2M1469.2 1345.9V1354.5M1470.2 1345.6V1353.9M1471.2 1347.0V1354.0M1472.2 1346.3V1354.1M1473.2 1347.1V1354.4M1474.2 1345.3V1354.0M1475.2 1346.8V1355.8M1476.2 1346.3V1353.8M1477.2 1347.2V1354.6M1478.2 1346.6V1355.3M1479.2 1347.2V1353.8M1480.2 1347.0V1354.9M1481.2 1347.2V1353.8M1482.2 1346.5V1355.1M1483.2 1347.0V1353.8M1484.2 1346.4V1354.4M1485.2 1346.6V1354.0M1486.2 1346.0V1355.0M1487.2 1346.0V1353.8M1488.2 1347.1V1354.3M1489.2 1346.6V1354.2M1490.2 1346.3V1354.4M1491.2 1346.9V1354.1M1492.2 1346.2V1354.0M1493.2 1346.4V1354.8M1494.2 1347.0V1353.8M1495.2 1347.3V1354.0M1496.2 1346.4V1353.9M1497.2 1346.6V1355.0M1498.2 1347.2V1355.0M1499.2 1346.9V1354.7M1500.2 1346.1V1355.2M1501.2 1347.0V1353.9M1502.2 1347.1V1356.3M1503.2 1347.2V1354.6M1504.2 1346.9V1355.3M1505.2 1346.3V1354.8M1506.2 1346.9V1353.8M1507.2 1345.7V1353.9M1508.2 1347.0V1353.8M1509.2 1347.2V1355.8M1510.2 1347.0V1355.0M1511.2 1346.1V1354.2M1512.2 1346.7V1354.0M1513.2 1347.2V1353.8M1514.2 1347.3V1354.1M1515.2 1345.9V1353.9M1516.2 1346.7V1355.2M1517.2 1346.7V1354.6M1518.2 1346.1V1354.7M1519.2 1345.8V1355.0M1520.2 1345.5V1353.7M1521.2 1345.7V1354.3M1522.2 1346.0V1353.7M1523.2 1346.0V1354.6M1524.2 1347.0V1353.8M1525.2 1346.6V1353.9M1526.2 1347.2V1353.8M1527.2 1347.3V1353.9M1528.2 1346.5V1355.1M1529.2 1346.9V1353.8M1530.2 1346.9V1354.2M1531.2 1346.9V1353.9M1532.2 1346.2V1353.9M1533.2 1347.1V1354.0M1534.2 1347.1V1355.4M1535.2 1347.1V1354.0M1536.2 1346.8V1354.3M1537.2 1347.3V1354.2M1538.2 1345.3V1355.2M1539.2 1347.3V1353.8M1540.2 1346.9V1353.9M1541.2 1346.9V1354.8M1542.2 1346.3V1353.8M1543.2 1346.3V1354.4M1544.2 1346.1V1355.3M1545.2 1347.1V1355.3M1546.2 1345.8V1354.6M1547.2 1347.3V1353.9M1548.2 1346.6V1355.3M1549.2 1345.6V1354.5M1550.2 1346.4V1355.6M1551.2 1346.0V1354.2M1552.2 1347.3V1354.5M1553.2 1346.8V1354.3M1554.2 1346.5V1354.2M1555.2 1346.0V1353.9M1556.2 1345.9V1354.3M1557.2 1345.8V1356.2M1558.2 1347.3V1354.4M1559.2 1347.3V1354.6M1560.2 1346.7V1353.8M1561.2 1345.8V1355.0M1562.2 1346.6V1355.1M1563.2 1347.0V1355.6M1564.2 1347.0V1354.8M1565.2 1346.0V1354.7M1566.2 1346.8V1354.9M1567.2 1346.5V1354.5M1568.2 1346.8V1353.8M1569.2 1346.0V1354.0M1570.2 1345.2V1354.2M1571.2 1345.6V1354.8M1572.2 1346.4V1355.9M1573.2 1346.8V1354.0M1574.2 1346.8V1355.6M1575.2 1346.6V1353.8M1576.2 1346.7V1356.4M1577.2 1346.9V1354.6M1578.2 1346.8V1355.0M1579.2 1347.3V1355.2M1580.2 1347.3V1354.4M1581.2 1345.9V1353.9M1582.2 1347.1V1354.4M1583.2 1346.0V1354.0M1584.2 1346.2V1354.4M1585.2 1346.2V1354.5M1586.2 1347.2V1354.0M1587.2 1347.2V1353.8M1588.2 1347.0V1354.1M1589.2 1346.5V1354.4M1590.2 1346.0V1354.0M1591.2 1347.1V1355.2M1592.2 1347.1V1354.1M1593.2 1347.0V1354.6M1594.2 1346.9V1354.6M1595.2 1347.2V1354.1M1596.2 1346.5V1354.0M1597.2 1347.2V1353.9M1598.2 1347.0V1354.3M1599.2 1346.3V1355.0M1600.2 1347.0V1354.3M1601.2 1346.7V1353.7M1602.2 1346.9V1354.0M1603.2 1346.7V1354.7M1604.2 1347.0V1354.2M1605.2 1347.0V1354.0M1606.2 1346.4V1353.8M1607.2 1346.6V1354.7M1608.2 1347.2V1354.0M1609.2 1345.5V1353.9M1610.2 1345.7V1355.4M1611.2 1346.4V1354.8M1612.2 1346.3V1354.9M1613.2 1347.3V1354.6M1614.2 1346.9V1353.8M1615.2 1347.3V1355.3M1616.2 1347.1V1354.6M1617.2 1347.2V1354.3M1618.2 1347.1V1354.3M1619.2 1346.7V1354.3M1620.2 1346.7V1354.5M1621.2 1347.1V1353.9M1622.2 1346.4V1355.2M1623.2 1347.3V1353.9M1624.2 1346.9V1353.9M1625.2 1345.9V1354.1M1626.2 1346.9V1354.0M1627.2 1346.7V1353.8M1628.2 1347.2V1354.7M1629.2 1347.1V1353.9M1630.2 1346.6V1354.5M1631.2 1346.2V1354.1M1632.2 1346.7V1354.0M1633.2 1347.3V1354.9M1634.2 1345.7V1355.4M1635.2 1347.0V1354.0M1636.2 1346.3V1354.1M1637.2 1347.3V1354.2M1638.2 1346.9V1354.2M1639.2 1346.7V1354.1M1640.2 1346.4V1354.2M1641.2 1347.3V1354.1M1642.2 1346.5V1353.9M1643.2 1346.9V1355.0M1644.2 1347.0V1354.0M1645.2 1346.3V1353.8M1646.2 1347.2V1353.8M1647.2 1346.7V1354.6M1648.2 1346.3V1353.9M1649.2 1347.2V1354.8M1650.2 1347.2V1354.8M1651.2 1346.3V1354.5M1652.2 1346.3V1355.0M1653.2 1345.9V1354.2M1654.2 1346.8V1354.4M1655.2 1346.8V1354.0M1656.2 1347.1V1354.9M1657.2 1347.0V1353.9M1658.2 1347.2V1353.9M1659.2 1346.8V1353.9M1660.2 1346.8V1355.1M1661.2 1345.5V1354.8M1662.2 1346.2V1354.5M1663.2 1345.1V1353.9M1664.2 1347.2V1354.7M1665.2 1345.1V1353.9M1666.2 1344.5V1353.8M1667.2 1346.8V1354.1M1668.2 1347.0V1354.2M1669.2 1346.3V1353.7M1670.2 1347.0V1356.0M1671.2 1346.9V1354.5M1672.2 1346.6V1354.8M1673.2 1346.4V1353.8M1674.2 1346.4V1355.1M1675.2 1346.1V1353.7M1676.2 1347.3V1354.7M1677.2 1346.0V1354.2M1678.2 1346.9V1354.2M1679.2 1345.6V1355.3M1680.2 1347.0V1354.1M1681.2 1346.1V1353.9M1682.2 1347.1V1353.9M1683.2 1347.2V1354.2M1684.2 1346.5V1354.2M1685.2 1345.7V1354.7M1686.2 1346.4V1355.2M1687.2 1346.6V1353.9M1688.2 1346.4V1354.0M1689.2 1345.4V1354.3M1690.2 1347.2V1353.8M1691.2 1347.1V1354.4M1692.2 1345.5V1354.1M1693.2 1346.3V1354.2M1694.2 1346.4V1355.0M1695.2 1346.7V1354.6M1696.2 1346.8V1354.1M1697.2 1346.6V1354.7M1698.2 1346.7V1355.5M1699.2 1346.7V1353.8M1700.2 1345.6V1354.6M1701.2 1346.8V1353.9M1702.2 1347.1V1354.3M1703.2 1347.2V1354.6M1704.2 1346.0V1353.9M1705.2 1346.0V1354.4M1706.2 1346.6V1354.4M1707.2 1346.5V1355.1M1708.2 1346.3V1353.8M1709.2 1346.7V1355.0M1710.2 1347.0V1354.2M1711.2 1345.8V1354.1M1712.2 1347.2V1354.6M1713.2 1346.7V1353.9M1714.2 1345.4V1354.9M1715.2 1346.8V1354.1M1716.2 1347.2V1354.5M1717.2 1346.5V1355.0M1718.2 1346.9V1354.2M1719.2 1347.1V1354.4M1720.2 1346.8V1353.8M1721.2 1346.5V1354.2M1722.2 1346.2V1354.3M1723.2 1346.2V1354.1M1724.2 1346.4V1354.8M1725.2 1346.8V1353.9M1726.2 1347.1V1353.7M1727.2 1347.1V1354.2M1728.2 1345.7V1355.4M1729.2 1347.1V1355.4M1730.2 1346.5V1354.7M1731.2 1346.6V1356.0M1732.2 1346.8V1355.1M1733.2 1347.1V1354.4M1734.2 1346.8V1354.8M1735.2 1346.2V1355.2M1736.2 1346.8V1354.0M1737.2 1346.2V1353.8M1738.2 1347.2V1354.4M1739.2 1347.2V1353.7M1740.2 1346.7V1354.9M1741.2 1346.6V1353.7M1742.2 1347.2V1355.1M1743.2 1347.1V1353.7M1744.2 1345.7V1355.1M1745.2 1346.8V1353.8M1746.2 1346.7V1354.6M1747.2 1346.9V1354.5M1748.2 1346.6V1353.8M1749.2 1346.9V1353.8M1750.2 1347.1V1354.0M1751.2 1346.3V1354.7M1752.2 1347.2V1355.3M1753.2 1347.2V1354.5M1754.2 1346.7V1353.7M1755.2 1346.3V1354.2M1756.2 1346.8V1353.9M1757.2 1347.0V1354.5M1758.2 1347.2V1354.3M1759.2 1346.8V1355.2M1760.2 1346.3V1354.4M1761.2 1346.8V1355.0" stroke="#4a4a4a" stroke-width="1" fill="none"/>
<rect x="1046.97" y="1310.4" width="1.9" height="95.4" fill="#4a4a4a"/>
<rect x="1125.21" y="1299.1" width="1.9" height="99.3" fill="#4a4a4a"/>
<rect x="1154.06" y="1282.0" width="1.9" height="112.5" fill="#4a4a4a"/>
<rect x="1173.62" y="1306.5" width="1.9" height="85.6" fill="#4a4a4a"/>
<rect x="1194.65" y="1308.9" width="1.9" height="90.5" fill="#4a4a4a"/>
<rect x="1222.52" y="1283.0" width="1.9" height="103.2" fill="#4a4a4a"/>
<rect x="1249.91" y="1289.4" width="1.9" height="115.9" fill="#4a4a4a"/>
<rect x="1292.45" y="1309.4" width="1.9" height="88.5" fill="#4a4a4a"/>
<rect x="1336.46" y="1329.0" width="1.9" height="59.2" fill="#4a4a4a"/>
<rect x="1371.18" y="1329.0" width="1.9" height="62.6" fill="#4a4a4a"/>
<rect x="1415.19" y="1318.7" width="1.9" height="95.4" fill="#4a4a4a"/>
<rect x="1455.28" y="1320.7" width="1.9" height="75.3" fill="#4a4a4a"/>
<rect x="1493.43" y="1319.7" width="1.9" height="72.9" fill="#4a4a4a"/>
<rect x="1560.42" y="1325.6" width="1.9" height="67.0" fill="#4a4a4a"/>
<rect x="1592.20" y="1322.1" width="1.9" height="61.6" fill="#4a4a4a"/>
<rect x="1630.35" y="1321.6" width="1.9" height="74.8" fill="#4a4a4a"/>
<rect x="1689.03" y="1303.1" width="1.9" height="85.6" fill="#4a4a4a"/>
<rect x="1723.74" y="1300.1" width="1.9" height="75.8" fill="#4a4a4a"/>
</g>
<g filter="url(#blt)">
<rect x="1041.6" y="1645.25" width="728.4" height="9.50" fill="#4a4a4a"/>
<path d="M1041.6 1644.7V1656.4M1042.6 1645.2V1655.2M1043.6 1644.6V1655.9M1044.6 1644.8V1655.2M1045.6 1644.8V1655.0M1046.6 1644.8V1655.3M1047.6 1645.2V1655.8M1048.6 1643.7V1655.1M1049.6 1643.7V1655.1M1050.6 1645.1V1655.6M1051.6 1644.3V1655.9M1052.6 1643.6V1656.2M1053.6 1645.0V1655.6M1054.6 1644.8V1655.4M1055.6 1644.9V1655.3M1056.6 1645.0V1656.6M1057.6 1644.7V1657.2M1058.6 1645.0V1655.6M1059.6 1644.6V1656.2M1060.6 1644.0V1655.2M1061.6 1645.0V1654.9M1062.6 1644.7V1654.8M1063.6 1643.4V1655.6M1064.6 1644.6V1654.9M1065.6 1644.4V1655.6M1066.6 1644.3V1654.9M1067.6 1645.0V1656.0M1068.6 1645.2V1655.2M1069.6 1644.4V1655.2M1070.6 1644.5V1654.8M1071.6 1644.9V1655.4M1072.6 1644.8V1655.8M1073.6 1644.8V1656.4M1074.6 1644.5V1655.5M1075.6 1643.2V1655.8M1076.6 1644.9V1655.1M1077.6 1643.9V1655.1M1078.6 1645.2V1655.0M1079.6 1643.1V1655.0M1080.6 1644.5V1655.6M1081.6 1644.6V1655.3M1082.6 1643.7V1655.4M1083.6 1645.1V1655.8M1084.6 1644.4V1655.3M1085.6 1643.1V1656.2M1086.6 1644.5V1655.0M1087.6 1645.2V1655.3M1088.6 1644.9V1655.0M1089.6 1644.6V1655.8M1090.6 1644.9V1655.3M1091.6 1644.5V1656.3M1092.6 1644.4V1655.2M1093.6 1644.7V1655.3M1094.6 1644.8V1654.8M1095.6 1645.2V1656.4M1096.6 1643.6V1656.1M1097.6 1642.8V1655.2M1098.6 1644.6V1655.3M1099.6 1643.7V1655.1M1100.6 1645.2V1655.3M1101.6 1644.4V1657.1M1102.6 1643.8V1655.9M1103.6 1644.9V1655.4M1104.6 1645.2V1655.9M1105.6 1644.7V1654.8M1106.6 1644.7V1655.4M1107.6 1644.5V1656.2M1108.6 1644.9V1655.3M1109.6 1643.6V1655.7M1110.6 1644.4V1655.7M1111.6 1643.6V1654.9M1112.6 1643.6V1656.1M1113.6 1644.4V1655.0M1114.6 1644.2V1656.3M1115.6 1645.2V1655.7M1116.6 1644.6V1655.4M1117.6 1644.9V1655.1M1118.6 1644.9V1656.9M1119.6 1644.0V1655.5M1120.6 1644.0V1655.8M1121.6 1645.2V1657.0M1122.6 1644.2V1657.6M1123.6 1645.0V1656.4M1124.6 1645.0V1655.5M1125.6 1644.7V1655.6M1126.6 1645.0V1655.2M1127.6 1644.4V1655.0M1128.6 1644.9V1655.6M1129.6 1644.2V1656.4M1130.6 1644.9V1655.1M1131.6 1643.7V1655.4M1132.6 1644.6V1656.1M1133.6 1643.3V1655.4M1134.6 1644.2V1655.1M1135.6 1644.3V1656.2M1136.6 1644.8V1656.7M1137.6 1645.0V1655.6M1138.6 1645.2V1655.2M1139.6 1645.1V1655.0M1140.6 1645.0V1655.4M1141.6 1644.9V1654.9M1142.6 1645.2V1655.4M1143.6 1644.3V1655.0M1144.6 1644.4V1657.1M1145.6 1644.7V1656.1M1146.6 1644.4V1655.4M1147.6 1643.9V1655.7M1148.6 1644.5V1656.6M1149.6 1644.8V1655.0M1150.6 1643.6V1655.7M1151.6 1644.1V1654.9M1152.6 1643.5V1655.8M1153.6 1644.9V1655.3M1154.6 1644.6V1655.5M1155.6 1643.8V1655.1M1156.6 1643.7V1656.3M1157.6 1643.9V1655.0M1158.6 1643.8V1655.4M1159.6 1644.9V1654.9M1160.6 1643.4V1655.0M1161.6 1645.0V1655.7M1162.6 1645.0V1656.4M1163.6 1645.0V1655.4M1164.6 1642.9V1656.8M1165.6 1644.4V1655.1M1166.6 1644.7V1657.0M1167.6 1645.0V1655.6M1168.6 1644.5V1656.2M1169.6 1644.8V1655.9M1170.6 1643.8V1654.8M1171.6 1643.7V1656.7M1172.6 1644.0V1654.8M1173.6 1645.1V1655.4M1174.6 1644.2V1655.4M1175.6 1645.1V1656.8M1176.6 1643.8V1656.5M1177.6 1645.2V1655.0M1178.6 1643.1V1654.8M1179.6 1643.2V1656.2M1180.6 1642.9V1654.9M1181.6 1644.7V1655.0M1182.6 1644.0V1656.1M1183.6 1644.0V1655.4M1184.6 1645.2V1655.6M1185.6 1644.2V1655.3M1186.6 1644.8V1654.8M1187.6 1644.3V1654.8M1188.6 1644.9V1656.4M1189.6 1645.2V1655.5M1190.6 1644.6V1654.8M1191.6 1643.5V1656.1M1192.6 1644.9V1656.0M1193.6 1644.9V1656.4M1194.6 1644.9V1656.3M1195.6 1645.0V1656.6M1196.6 1645.0V1654.9M1197.6 1644.2V1655.1M1198.6 1644.9V1654.9M1199.6 1644.8V1656.2M1200.6 1644.6V1655.6M1201.6 1643.0V1657.4M1202.6 1644.4V1656.2M1203.6 1645.2V1655.4M1204.6 1644.7V1655.6M1205.6 1644.6V1655.3M1206.6 1644.9V1655.3M1207.6 1644.7V1655.1M1208.6 1644.8V1655.8M1209.6 1644.8V1655.8M1210.6 1642.8V1655.7M1211.6 1642.9V1655.0M1212.6 1644.6V1654.9M1213.6 1644.8V1655.1M1214.6 1645.1V1655.1M1215.6 1644.5V1657.2M1216.6 1644.5V1655.3M1217.6 1644.4V1655.2M1218.6 1644.9V1655.7M1219.6 1644.1V1656.4M1220.6 1645.1V1654.8M1221.6 1644.3V1656.1M1222.6 1644.4V1655.9M1223.6 1644.4V1655.2M1224.6 1644.5V1655.1M1225.6 1643.9V1655.2M1226.6 1645.0V1657.2M1227.6 1644.7V1655.5M1228.6 1644.2V1656.2M1229.6 1644.0V1655.6M1230.6 1644.0V1656.8M1231.6 1644.3V1655.1M1232.6 1645.0V1655.2M1233.6 1643.8V1655.8M1234.6 1644.4V1654.9M1235.6 1644.1V1654.9M1236.6 1643.9V1656.4M1237.6 1644.5V1655.7M1238.6 1644.0V1655.4M1239.6 1644.4V1654.9M1240.6 1644.2V1655.6M1241.6 1645.1V1655.5M1242.6 1644.6V1655.5M1243.6 1643.8V1656.4M1244.6 1644.5V1654.9M1245.6 1644.3V1656.4M1246.6 1644.4V1656.0M1247.6 1644.6V1654.8M1248.6 1643.6V1655.4M1249.6 1644.8V1655.3M1250.6 1644.5V1655.0M1251.6 1645.1V1656.3M1252.6 1643.2V1656.0M1253.6 1643.1V1655.5M1254.6 1643.3V1656.0M1255.6 1644.7V1655.0M1256.6 1645.2V1656.7M1257.6 1644.9V1655.0M1258.6 1644.1V1655.9M1259.6 1643.0V1656.3M1260.6 1644.9V1654.8M1261.6 1645.1V1654.9M1262.6 1644.9V1656.1M1263.6 1644.8V1655.1M1264.6 1644.7V1656.0M1265.6 1644.0V1657.1M1266.6 1643.5V1656.9M1267.6 1644.3V1655.1M1268.6 1645.2V1655.5M1269.6 1642.0V1655.3M1270.6 1645.1V1655.3M1271.6 1645.0V1655.3M1272.6 1644.3V1656.1M1273.6 1644.1V1655.2M1274.6 1645.1V1655.0M1275.6 1643.6V1655.4M1276.6 1644.3V1655.3M1277.6 1644.3V1655.7M1278.6 1644.7V1655.6M1279.6 1643.4V1655.4M1280.6 1644.1V1655.4M1281.6 1644.9V1655.2M1282.6 1644.1V1655.8M1283.6 1643.5V1654.8M1284.6 1645.0V1655.9M1285.6 1643.5V1654.8M1286.6 1644.0V1655.5M1287.6 1643.8V1655.4M1288.6 1643.1V1656.1M1289.6 1643.0V1655.4M1290.6 1644.6V1655.3M1291.6 1644.7V1655.3M1292.6 1643.8V1655.8M1293.6 1644.8V1656.6M1294.6 1643.7V1654.8M1295.6 1644.5V1656.3M1296.6 1645.1V1656.1M1297.6 1644.2V1656.4M1298.6 1644.4V1654.8M1299.6 1644.9V1654.9M1300.6 1643.7V1655.5M1301.6 1644.2V1656.1M1302.6 1643.3V1655.7M1303.6 1644.3V1655.3M1304.6 1644.9V1654.9M1305.6 1645.2V1655.2M1306.6 1645.2V1655.2M1307.6 1644.5V1655.5M1308.6 1645.1V1655.5M1309.6 1645.1V1656.2M1310.6 1644.3V1655.4M1311.6 1645.1V1655.4M1312.6 1644.8V1655.4M1313.6 1643.7V1656.4M1314.6 1642.0V1656.0M1315.6 1644.1V1655.3M1316.6 1644.6V1656.3M1317.6 1643.3V1655.3M1318.6 1643.3V1656.2M1319.6 1644.8V1654.8M1320.6 1645.2V1655.3M1321.6 1645.1V1655.0M1322.6 1644.0V1654.8M1323.6 1645.2V1655.3M1324.6 1644.6V1655.5M1325.6 1645.2V1656.6M1326.6 1644.1V1655.0M1327.6 1643.6V1655.8M1328.6 1645.0V1654.9M1329.6 1644.2V1655.0M1330.6 1644.9V1656.3M1331.6 1644.0V1656.7M1332.6 1645.0V1655.2M1333.6 1645.1V1655.2M1334.6 1644.8V1655.8M1335.6 1644.9V1655.3M1336.6 1644.2V1655.2M1337.6 1645.1V1655.5M1338.6 1644.6V1655.1M1339.6 1644.1V1655.5M1340.6 1643.6V1655.1M1341.6 1644.4V1655.7M1342.6 1644.6V1655.6M1343.6 1643.4V1656.0M1344.6 1644.7V1656.2M1345.6 1645.2V1655.5M1346.6 1643.4V1655.2M1347.6 1643.0V1655.3M1348.6 1644.4V1656.0M1349.6 1644.3V1655.1M1350.6 1645.0V1655.2M1351.6 1644.1V1655.0M1352.6 1645.1V1655.7M1353.6 1643.7V1655.3M1354.6 1644.7V1655.1M1355.6 1644.5V1655.4M1356.6 1642.5V1655.5M1357.6 1644.4V1655.8M1358.6 1644.3V1655.0M1359.6 1644.4V1655.0M1360.6 1644.6V1654.9M1361.6 1644.7V1655.3M1362.6 1644.4V1655.7M1363.6 1643.8V1655.2M1364.6 1643.7V1656.6M1365.6 1644.4V1655.7M1366.6 1644.3V1655.9M1367.6 1644.4V1655.8M1368.6 1644.4V1657.3M1369.6 1645.2V1657.4M1370.6 1645.1V1654.8M1371.6 1644.6V1655.0M1372.6 1644.7V1654.8M1373.6 1644.5V1656.0M1374.6 1644.3V1656.8M1375.6 1643.7V1654.8M1376.6 1645.2V1654.8M1377.6 1644.2V1655.1M1378.6 1644.4V1654.9M1379.6 1645.1V1654.8M1380.6 1643.4V1655.8M1381.6 1643.7V1655.7M1382.6 1644.6V1654.8M1383.6 1644.4V1656.5M1384.6 1643.4V1656.1M1385.6 1645.0V1656.8M1386.6 1644.4V1654.8M1387.6 1644.3V1655.0M1388.6 1645.1V1655.1M1389.6 1643.9V1657.2M1390.6 1644.0V1655.8M1391.6 1645.2V1655.3M1392.6 1644.3V1655.9M1393.6 1642.2V1655.7M1394.6 1643.9V1654.8M1395.6 1644.9V1655.2M1396.6 1645.1V1656.0M1397.6 1643.9V1656.4M1398.6 1645.2V1655.3M1399.6 1644.9V1655.2M1400.6 1643.7V1655.7M1401.6 1644.6V1655.7M1402.6 1644.1V1655.3M1403.6 1644.2V1655.4M1404.6 1644.9V1654.8M1405.6 1644.6V1655.1M1406.6 1645.2V1655.5M1407.6 1644.9V1655.4M1408.6 1644.3V1655.4M1409.6 1644.6V1655.3M1410.6 1645.2V1655.5M1411.6 1644.3V1656.4M1412.6 1644.1V1655.1M1413.6 1644.0V1655.4M1414.6 1645.1V1655.1M1415.6 1644.5V1655.2M1416.6 1644.0V1655.5M1417.6 1644.5V1655.1M1418.6 1642.9V1654.9M1419.6 1645.2V1655.3M1420.6 1644.9V1655.6M1421.6 1643.9V1655.6M1422.6 1644.7V1655.0M1423.6 1644.8V1654.9M1424.6 1644.4V1655.9M1425.6 1644.5V1655.9M1426.6 1644.1V1655.2M1427.6 1645.0V1655.1M1428.6 1645.2V1656.3M1429.6 1644.6V1654.8M1430.6 1644.7V1655.7M1431.6 1645.0V1655.1M1432.6 1645.2V1654.8M1433.6 1645.1V1655.7M1434.6 1645.1V1655.2M1435.6 1644.0V1657.7M1436.6 1644.8V1655.4M1437.6 1644.9V1655.4M1438.6 1644.0V1655.6M1439.6 1644.7V1655.0M1440.6 1644.1V1655.3M1441.6 1643.0V1654.9M1442.6 1644.3V1655.4M1443.6 1644.6V1654.8M1444.6 1644.7V1655.8M1445.6 1645.0V1655.5M1446.6 1643.6V1655.5M1447.6 1644.7V1654.8M1448.6 1644.7V1654.8M1449.6 1644.6V1656.2M1450.6 1642.8V1656.0M1451.6 1643.7V1655.2M1452.6 1645.1V1655.2M1453.6 1645.1V1655.0M1454.6 1643.9V1655.5M1455.6 1644.4V1656.0M1456.6 1644.2V1655.9M1457.6 1644.8V1657.5M1458.6 1645.2V1654.8M1459.6 1643.9V1655.6M1460.6 1644.3V1655.8M1461.6 1644.1V1656.4M1462.6 1645.1V1655.2M1463.6 1644.2V1655.8M1464.6 1645.0V1654.8M1465.6 1644.0V1656.4M1466.6 1644.4V1654.8M1467.6 1643.8V1655.7M1468.6 1644.4V1655.7M1469.6 1643.8V1655.0M1470.6 1644.0V1655.2M1471.6 1644.9V1655.9M1472.6 1644.3V1654.8M1473.6 1644.4V1655.6M1474.6 1644.6V1655.1M1475.6 1645.0V1655.9M1476.6 1644.2V1654.8M1477.6 1644.9V1655.3M1478.6 1644.5V1654.9M1479.6 1645.1V1656.3M1480.6 1645.0V1655.9M1481.6 1645.2V1657.0M1482.6 1644.3V1654.8M1483.6 1645.0V1655.7M1484.6 1644.8V1656.5M1485.6 1643.6V1654.9M1486.6 1645.0V1655.8M1487.6 1644.7V1655.4M1488.6 1644.2V1656.0M1489.6 1645.2V1655.4M1490.6 1645.1V1656.5M1491.6 1644.4V1656.0M1492.6 1644.2V1655.9M1493.6 1645.2V1655.1M1494.6 1645.1V1654.9M1495.6 1644.1V1655.0M1496.6 1644.0V1657.0M1497.6 1645.0V1655.4M1498.6 1645.0V1655.2M1499.6 1644.8V1656.3M1500.6 1644.3V1654.8M1501.6 1645.1V1655.9M1502.6 1644.7V1656.8M1503.6 1644.1V1656.4M1504.6 1644.3V1655.1M1505.6 1644.2V1657.2M1506.6 1645.0V1655.3M1507.6 1644.8V1657.0M1508.6 1644.7V1655.5M1509.6 1644.0V1656.4M1510.6 1644.7V1655.0M1511.6 1645.1V1655.7M1512.6 1643.7V1656.2M1513.6 1644.3V1655.1M1514.6 1644.6V1655.2M1515.6 1644.3V1654.9M1516.6 1645.1V1654.9M1517.6 1644.1V1656.0M1518.6 1644.5V1656.1M1519.6 1644.8V1655.2M1520.6 1643.8V1654.9M1521.6 1644.6V1655.3M1522.6 1644.6V1656.6M1523.6 1644.6V1655.1M1524.6 1644.1V1655.4M1525.6 1645.1V1655.0M1526.6 1644.6V1656.0M1527.6 1644.3V1655.5M1528.6 1644.8V1655.2M1529.6 1644.9V1655.7M1530.6 1643.8V1656.4M1531.6 1643.1V1656.7M1532.6 1645.1V1656.7M1533.6 1645.2V1656.1M1534.6 1645.1V1654.9M1535.6 1644.7V1656.5M1536.6 1645.0V1656.5M1537.6 1642.3V1655.1M1538.6 1644.3V1655.1M1539.6 1645.1V1656.1M1540.6 1644.9V1656.6M1541.6 1644.3V1655.0M1542.6 1645.1V1655.2M1543.6 1645.1V1656.4M1544.6 1642.3V1655.9M1545.6 1644.3V1655.4M1546.6 1645.2V1654.8M1547.6 1644.9V1655.0M1548.6 1644.5V1655.5M1549.6 1644.4V1654.8M1550.6 1644.9V1655.9M1551.6 1644.6V1654.8M1552.6 1644.1V1654.8M1553.6 1643.9V1656.2M1554.6 1644.7V1656.7M1555.6 1644.7V1655.5M1556.6 1644.3V1655.6M1557.6 1645.2V1655.2M1558.6 1644.3V1655.0M1559.6 1644.1V1655.7M1560.6 1644.4V1654.9M1561.6 1644.3V1656.5M1562.6 1644.7V1655.6M1563.6 1644.3V1655.0M1564.6 1644.8V1655.1M1565.6 1644.5V1656.0M1566.6 1644.3V1655.1M1567.6 1645.1V1656.5M1568.6 1643.4V1655.3M1569.6 1644.1V1655.9M1570.6 1644.6V1654.9M1571.6 1643.8V1655.1M1572.6 1644.7V1655.8M1573.6 1644.6V1654.9M1574.6 1644.6V1656.0M1575.6 1645.0V1655.5M1576.6 1644.9V1655.2M1577.6 1644.8V1655.2M1578.6 1644.4V1654.8M1579.6 1644.7V1654.9M1580.6 1643.9V1654.9M1581.6 1644.7V1655.4M1582.6 1644.7V1655.9M1583.6 1644.0V1655.9M1584.6 1644.6V1655.1M1585.6 1643.5V1655.4M1586.6 1643.7V1655.4M1587.6 1644.5V1655.6M1588.6 1643.4V1655.1M1589.6 1645.0V1655.1M1590.6 1645.1V1654.9M1591.6 1642.8V1655.8M1592.6 1645.1V1655.5M1593.6 1644.9V1655.3M1594.6 1644.7V1655.8M1595.6 1643.2V1655.0M1596.6 1643.5V1655.4M1597.6 1644.8V1655.9M1598.6 1644.8V1655.3M1599.6 1644.5V1655.3M1600.6 1644.4V1654.9M1601.6 1644.9V1654.9M1602.6 1644.9V1655.1M1603.6 1644.8V1655.5M1604.6 1644.8V1657.0M1605.6 1643.6V1655.9M1606.6 1644.2V1654.8M1607.6 1645.0V1655.5M1608.6 1643.6V1655.6M1609.6 1645.2V1655.5M1610.6 1643.3V1656.0M1611.6 1643.9V1655.2M1612.6 1644.9V1655.2M1613.6 1644.9V1655.8M1614.6 1645.0V1655.8M1615.6 1644.4V1657.1M1616.6 1644.9V1656.4M1617.6 1644.9V1655.4M1618.6 1644.9V1655.7M1619.6 1645.1V1655.4M1620.6 1644.3V1655.0M1621.6 1644.1V1654.8M1622.6 1643.6V1655.0M1623.6 1645.2V1656.8M1624.6 1644.8V1655.3M1625.6 1644.3V1656.1M1626.6 1644.7V1655.6M1627.6 1644.7V1654.8M1628.6 1644.3V1655.3M1629.6 1643.5V1654.8M1630.6 1644.7V1656.3M1631.6 1644.1V1656.2M1632.6 1644.6V1655.2M1633.6 1644.5V1655.6M1634.6 1644.3V1655.7M1635.6 1645.0V1655.8M1636.6 1643.5V1654.8M1637.6 1645.2V1656.6M1638.6 1644.0V1655.2M1639.6 1644.9V1655.1M1640.6 1645.1V1655.6M1641.6 1644.1V1656.1M1642.6 1644.4V1656.4M1643.6 1643.9V1655.3M1644.6 1644.6V1654.9M1645.6 1644.4V1655.4M1646.6 1644.7V1654.8M1647.6 1644.9V1656.7M1648.6 1644.8V1655.1M1649.6 1644.7V1655.9M1650.6 1644.8V1655.8M1651.6 1644.2V1655.0M1652.6 1643.3V1654.8M1653.6 1643.0V1655.0M1654.6 1645.2V1655.0M1655.6 1645.1V1656.0M1656.6 1644.6V1654.9M1657.6 1645.1V1655.6M1658.6 1645.1V1655.5M1659.6 1644.0V1655.4M1660.6 1644.5V1655.6M1661.6 1643.9V1655.3M1662.6 1645.0V1655.3M1663.6 1643.7V1655.3M1664.6 1643.7V1655.9M1665.6 1645.0V1655.0M1666.6 1645.2V1655.2M1667.6 1645.2V1655.2M1668.6 1644.5V1654.8M1669.6 1644.9V1655.8M1670.6 1644.0V1656.0M1671.6 1645.2V1655.2M1672.6 1645.2V1654.9M1673.6 1645.0V1655.2M1674.6 1644.7V1656.4M1675.6 1644.6V1654.8M1676.6 1643.6V1655.1M1677.6 1643.3V1656.0M1678.6 1644.6V1655.3M1679.6 1643.1V1655.8M1680.6 1644.2V1654.8M1681.6 1643.7V1655.4M1682.6 1644.7V1655.7M1683.6 1644.8V1655.7M1684.6 1644.5V1655.4M1685.6 1644.6V1655.8M1686.6 1644.0V1655.1M1687.6 1645.2V1656.0M1688.6 1645.0V1655.1M1689.6 1643.8V1656.3M1690.6 1645.1V1654.8M1691.6 1644.3V1655.8M1692.6 1644.6V1655.7M1693.6 1644.7V1655.4M1694.6 1644.9V1656.3M1695.6 1644.8V1656.1M1696.6 1644.4V1656.0M1697.6 1644.2V1654.9M1698.6 1644.6V1656.0M1699.6 1645.0V1655.2M1700.6 1644.9V1655.5M1701.6 1645.0V1655.6M1702.6 1643.5V1655.3M1703.6 1644.0V1655.8M1704.6 1643.1V1655.7M1705.6 1643.7V1655.0M1706.6 1644.8V1655.2M1707.6 1644.3V1655.5M1708.6 1644.8V1655.0M1709.6 1644.4V1654.9M1710.6 1644.3V1655.0M1711.6 1644.6V1655.0M1712.6 1644.4V1654.9M1713.6 1644.1V1656.3M1714.6 1643.9V1655.8M1715.6 1645.2V1655.2M1716.6 1644.2V1655.0M1717.6 1644.8V1655.2M1718.6 1643.7V1655.4M1719.6 1645.2V1655.3M1720.6 1644.2V1654.9M1721.6 1643.3V1655.6M1722.6 1645.2V1656.0M1723.6 1645.0V1654.9M1724.6 1643.2V1655.5M1725.6 1644.8V1656.0M1726.6 1645.2V1655.1M1727.6 1644.8V1655.0M1728.6 1644.7V1656.3M1729.6 1644.3V1654.9M1730.6 1644.5V1655.6M1731.6 1644.7V1654.8M1732.6 1645.2V1655.2M1733.6 1644.7V1655.1M1734.6 1644.7V1654.8M1735.6 1644.8V1655.7M1736.6 1645.2V1655.5M1737.6 1645.1V1655.0M1738.6 1645.2V1655.2M1739.6 1644.3V1655.1M1740.6 1643.6V1655.9M1741.6 1645.0V1655.0M1742.6 1644.8V1656.0M1743.6 1645.1V1655.5M1744.6 1644.6V1654.8M1745.6 1644.5V1655.1M1746.6 1644.5V1655.2M1747.6 1645.0V1656.2M1748.6 1643.7V1655.7M1749.6 1644.5V1654.8M1750.6 1644.4V1655.5M1751.6 1643.7V1654.8M1752.6 1644.5V1655.5M1753.6 1644.6V1655.2M1754.6 1643.2V1655.0M1755.6 1642.9V1654.9M1756.6 1645.2V1656.6M1757.6 1644.7V1655.2M1758.6 1643.8V1654.8M1759.6 1644.8V1655.9M1760.6 1643.5V1655.7M1761.6 1644.9V1655.4M1762.6 1644.8V1655.2M1763.6 1643.7V1655.1M1764.6 1644.0V1655.6M1765.6 1644.3V1655.4M1766.6 1644.3V1656.0M1767.6 1644.6V1654.9M1768.6 1644.3V1655.0M1769.6 1644.4V1655.2" stroke="#4a4a4a" stroke-width="1" fill="none"/>
<rect x="1190.69" y="1594.7" width="2.0" height="114.9" fill="#4a4a4a"/>
<rect x="1198.51" y="1598.1" width="2.0" height="94.4" fill="#4a4a4a"/>
<rect x="1210.74" y="1604.5" width="2.0" height="115.9" fill="#4a4a4a"/>
<rect x="1286.53" y="1599.6" width="2.0" height="102.7" fill="#4a4a4a"/>
<rect x="1295.33" y="1596.2" width="2.0" height="99.8" fill="#4a4a4a"/>
<rect x="1307.07" y="1606.9" width="2.0" height="70.9" fill="#4a4a4a"/>
<rect x="1314.40" y="1587.4" width="2.0" height="105.1" fill="#4a4a4a"/>
<rect x="1331.03" y="1594.7" width="2.0" height="111.0" fill="#4a4a4a"/>
<rect x="1350.59" y="1619.1" width="2.0" height="56.2" fill="#4a4a4a"/>
<rect x="1364.77" y="1624.5" width="2.0" height="59.7" fill="#4a4a4a"/>
<rect x="1387.75" y="1598.6" width="2.0" height="95.4" fill="#4a4a4a"/>
<rect x="1425.89" y="1595.7" width="2.0" height="91.9" fill="#4a4a4a"/>
<rect x="1441.05" y="1604.5" width="2.0" height="83.1" fill="#4a4a4a"/>
<rect x="1455.72" y="1622.6" width="2.0" height="69.9" fill="#4a4a4a"/>
<rect x="1473.82" y="1608.4" width="2.0" height="117.4" fill="#4a4a4a"/>
<rect x="1517.34" y="1604.5" width="2.0" height="106.6" fill="#4a4a4a"/>
<rect x="1544.23" y="1608.4" width="2.0" height="87.5" fill="#4a4a4a"/>
<rect x="1559.88" y="1598.6" width="2.0" height="81.7" fill="#4a4a4a"/>
<rect x="1603.40" y="1602.0" width="2.0" height="82.2" fill="#4a4a4a"/>
<rect x="1620.03" y="1604.5" width="2.0" height="67.0" fill="#4a4a4a"/>
<rect x="1631.76" y="1622.6" width="2.0" height="61.6" fill="#4a4a4a"/>
<rect x="1656.70" y="1601.1" width="2.0" height="80.2" fill="#4a4a4a"/>
<rect x="1688.98" y="1598.1" width="2.0" height="101.7" fill="#4a4a4a"/>
<rect x="1693.87" y="1598.1" width="2.0" height="77.3" fill="#4a4a4a"/>
<rect x="1756.95" y="1609.4" width="2.0" height="78.2" fill="#4a4a4a"/>
<rect x="1761.84" y="1606.9" width="2.0" height="58.7" fill="#4a4a4a"/>
<rect x="1768.19" y="1612.8" width="2.0" height="38.1" fill="#4a4a4a"/>
</g>
<path d="M1882.6 1588.8V1647H1953.5" stroke="#111" stroke-width="2.6" fill="none"/>
<text x="1815.0" y="1630.4" font-size="30.0" text-anchor="start" fill="#111" textLength="57.0" lengthAdjust="spacingAndGlyphs">100°</text>
<text x="1893.9" y="1688.6" font-size="30.0" text-anchor="start" fill="#111" textLength="53.8" lengthAdjust="spacingAndGlyphs">60 s</text>
</svg></body></html>
